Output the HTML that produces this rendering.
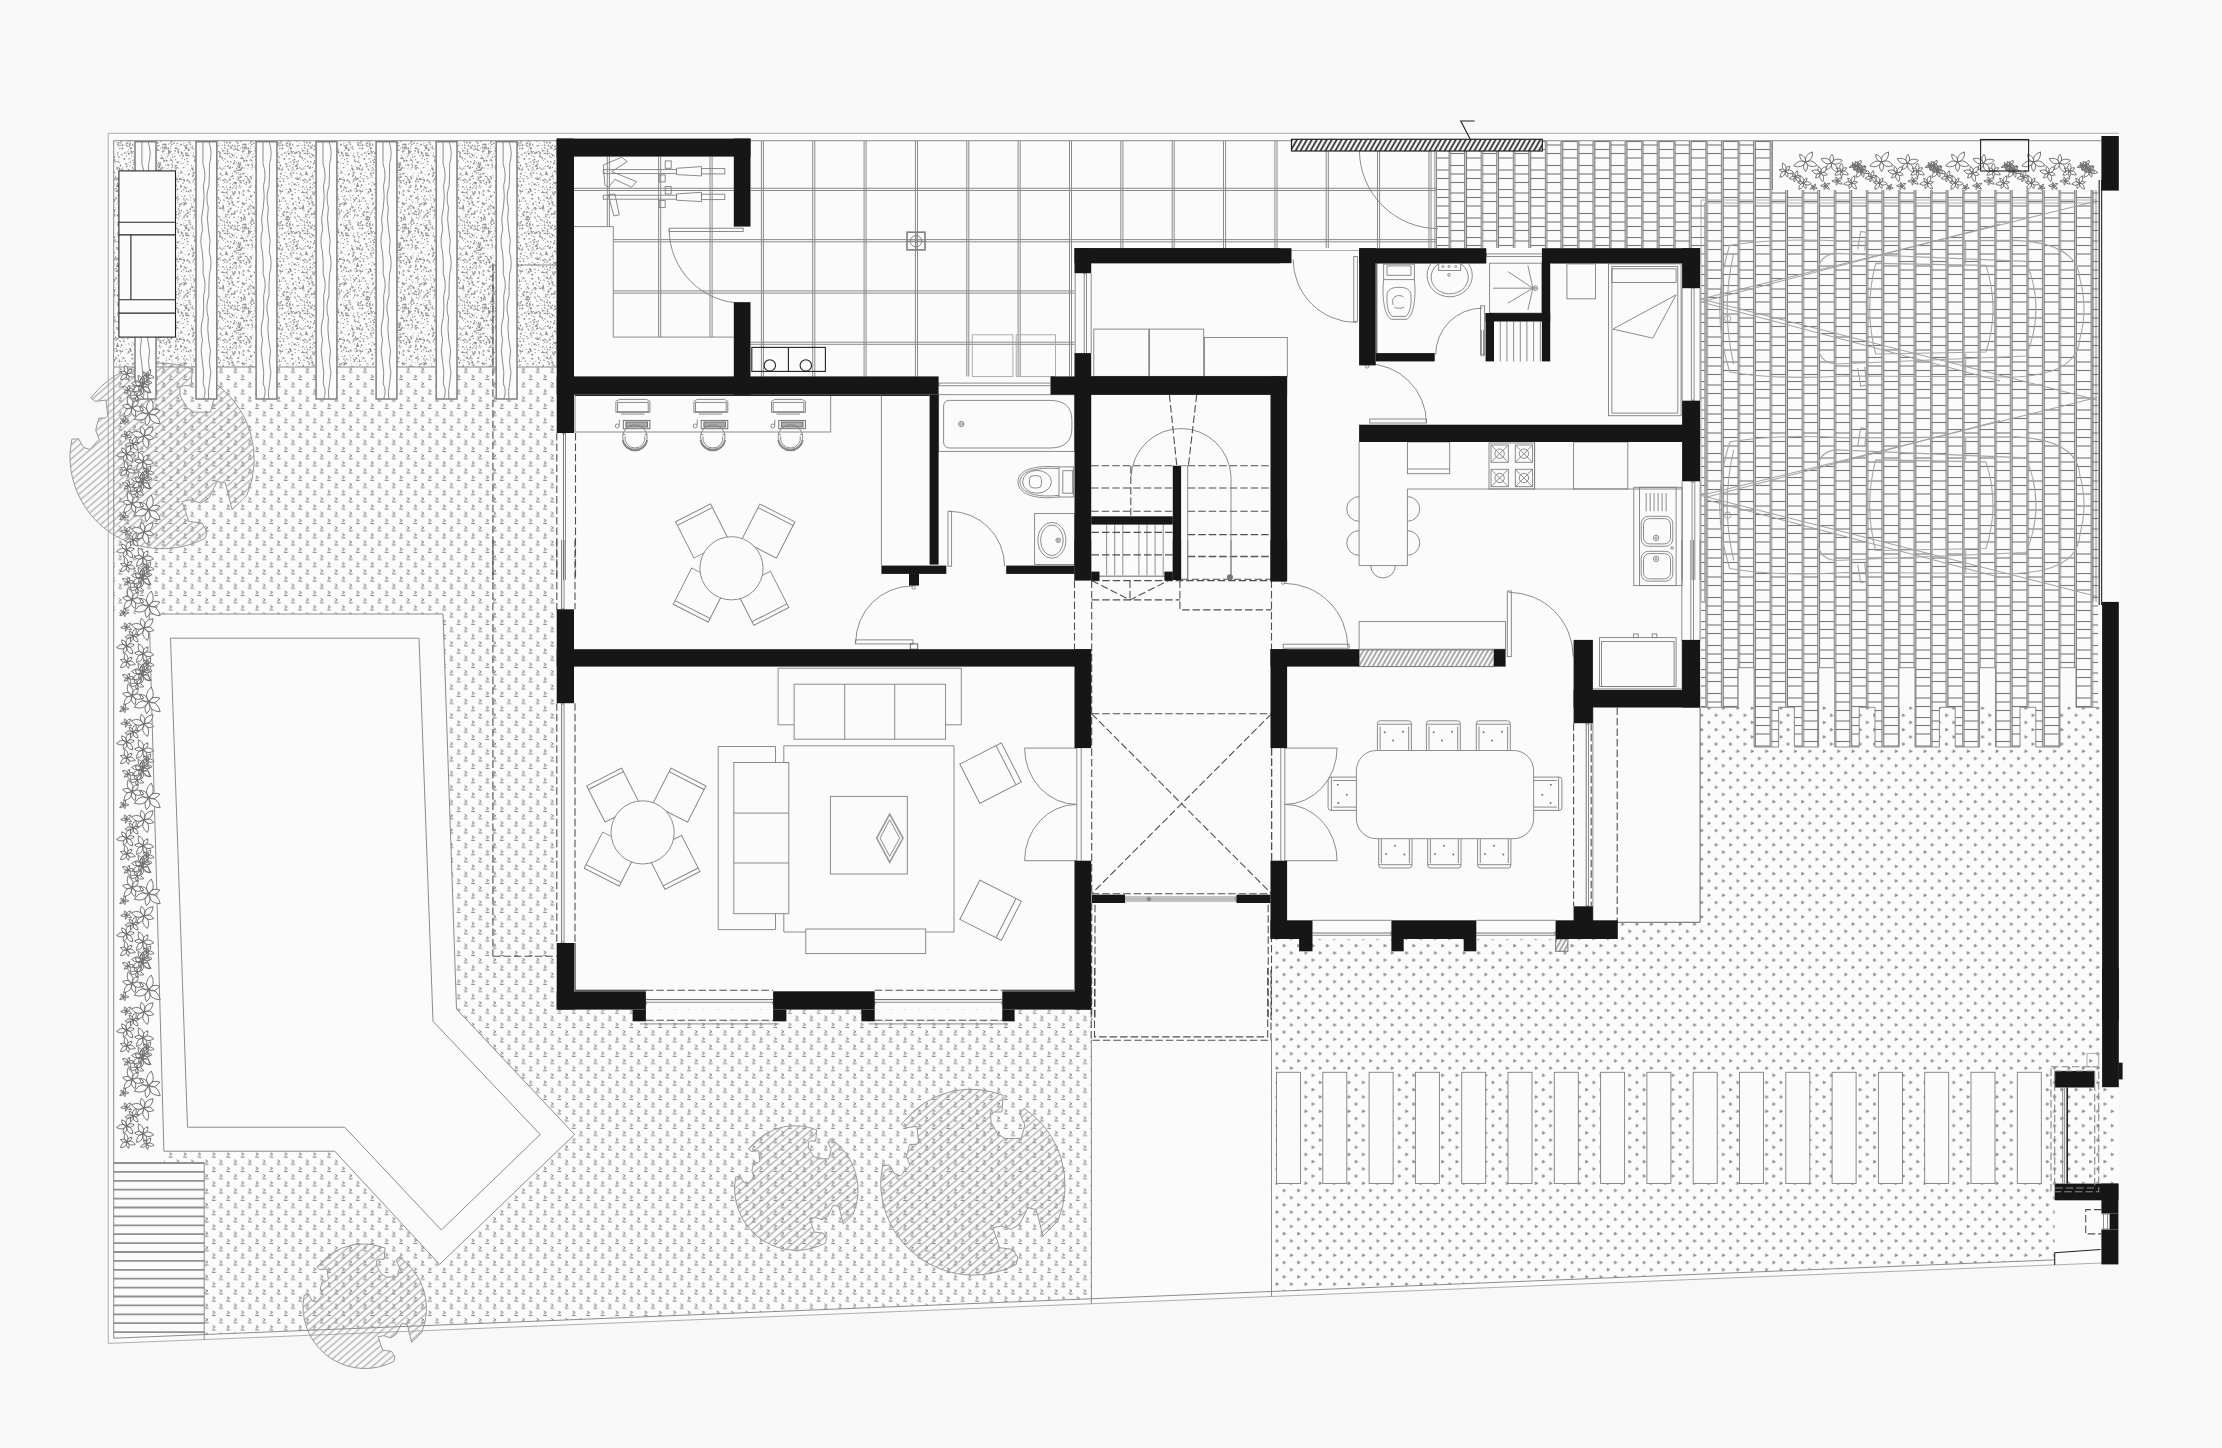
<!DOCTYPE html>
<html lang="en"><head><meta charset="utf-8"><title>Ground floor plan</title>
<style>
html,body{margin:0;padding:0;background:#f8f8f8;}
body{width:2222px;height:1448px;overflow:hidden;font-family:"Liberation Sans",sans-serif;}
svg{display:block;position:absolute;left:0;top:0}
.w{fill:#161616;stroke:none}
.l{fill:none;stroke:#7f7f7f;stroke-width:.9}
.lf{fill:#fbfbfb;stroke:#7f7f7f;stroke-width:.9}
.t{fill:none;stroke:#8a8a8a;stroke-width:1}
.d{fill:none;stroke:#505050;stroke-width:1.1;stroke-dasharray:7.5 3}
.k{fill:none;stroke:#222;stroke-width:1.1}
.kf{fill:#fbfbfb;stroke:#222;stroke-width:1.1}
.g{fill:none;stroke:#a5a5a5;stroke-width:.9}
.bg{fill:#fbfbfb;stroke:none}
</style></head><body>
<svg width="2222" height="1448" viewBox="0 0 2222 1448">
<defs>
<pattern id="grass" width="14.4" height="14.4" patternUnits="userSpaceOnUse" patternTransform="translate(9.2 -0.1)"><g fill="none" stroke="#747474" stroke-width=".95"><path d="M1.8 0.8 L4.3 2.2 L1.8 3.6" /><path d="M1.2 5.2 H4.9" /><path d="M9.0 8.0 L11.5 9.4 L9.0 10.8" /><path d="M8.4 12.4 H12.1" /></g></pattern>
<pattern id="dots" width="14.4" height="14.4" patternUnits="userSpaceOnUse" patternTransform="translate(6.8 -.6)"><g fill="#858585" stroke="#858585" stroke-width=".6" stroke-linejoin="round"><path d="M2 1.7 L4.7 3.1 L2 4.5Z"/><path d="M9.2 8.9 L11.9 10.3 L9.2 11.7Z"/></g></pattern>
<pattern id="brick" width="32.1" height="48" patternUnits="userSpaceOnUse" patternTransform="translate(1448.5 141)"><g fill="none" stroke="#787878" stroke-width="1.12"><path d="M0.20 0V48"/><path d="M1.90 0V48"/><path d="M16.25 0V48"/><path d="M17.95 0V48"/><path d="M1.9 4H16.25"/><path d="M1.9 12.5H16.25"/><path d="M1.9 24.5H16.25"/><path d="M1.9 33H16.25"/><path d="M1.9 41.5H16.25"/><path d="M17.95 0.5H32.30"/><path d="M17.95 8.5H32.30"/><path d="M17.95 17H32.30"/><path d="M17.95 29H32.30"/><path d="M17.95 37.5H32.30"/></g></pattern>
<pattern id="gravel" width="80" height="80" patternUnits="userSpaceOnUse" patternTransform="translate(114 141)"><g fill="#8a8a8a"><path d="M27.0 12.6 L25.5 13.2 L25.5 10.9Z"/><circle cx="72.8" cy="17.2" r="0.4"/><circle cx="34.7" cy="5.6" r="0.4"/><circle cx="44.1" cy="4.7" r="0.75"/><path d="M10.0 19.1 L9.1 16.9 L10.9 17.1Z"/><circle cx="17.7" cy="44.5" r="0.5"/><circle cx="23.2" cy="11.5" r="0.4"/><path d="M46.7 45.6 L44.5 45.3 L45.6 43.6Z"/><circle cx="43.8" cy="5.0" r="0.4"/><circle cx="49.5" cy="39.7" r="0.75"/><circle cx="34.2" cy="25.1" r="0.75"/><circle cx="73.9" cy="28.9" r="0.5"/><circle cx="63.6" cy="55.9" r="0.5"/><circle cx="6.5" cy="24.0" r="0.65"/><circle cx="70.0" cy="58.4" r="0.55"/><circle cx="48.7" cy="5.9" r="0.75"/><circle cx="33.4" cy="60.6" r="0.5"/><path d="M75.8 34.1 L73.6 34.4 L74.6 32.5Z"/><circle cx="27.2" cy="28.0" r="0.65"/><path d="M47.9 36.7 L45.1 37.3 L45.6 35.2Z"/><circle cx="58.5" cy="24.8" r="0.75"/><circle cx="79.4" cy="65.8" r="0.55"/><circle cx="57.3" cy="71.0" r="0.55"/><circle cx="1.8" cy="36.9" r="0.5"/><circle cx="48.9" cy="39.5" r="0.5"/><circle cx="61.5" cy="10.3" r="0.5"/><circle cx="31.8" cy="73.3" r="0.65"/><circle cx="6.4" cy="35.9" r="0.75"/><circle cx="22.2" cy="11.0" r="0.65"/><circle cx="69.1" cy="22.3" r="0.65"/><circle cx="78.9" cy="54.6" r="0.65"/><circle cx="76.6" cy="12.1" r="0.5"/><circle cx="12.1" cy="52.7" r="0.4"/><circle cx="38.8" cy="47.1" r="0.55"/><circle cx="22.6" cy="11.7" r="0.75"/><circle cx="29.5" cy="45.3" r="0.5"/><circle cx="55.2" cy="41.2" r="0.75"/><circle cx="52.4" cy="59.2" r="0.65"/><path d="M71.1 63.6 L71.2 61.1 L73.5 62.4Z"/><circle cx="38.5" cy="32.0" r="0.5"/><circle cx="5.4" cy="16.7" r="0.5"/><circle cx="8.8" cy="48.1" r="0.4"/><circle cx="0.0" cy="12.1" r="0.4"/><circle cx="75.9" cy="49.1" r="0.4"/><circle cx="69.9" cy="49.1" r="0.5"/><circle cx="50.8" cy="76.4" r="0.75"/><path d="M28.6 11.2 L27.8 9.1 L30.3 8.9Z"/><path d="M12.1 61.1 L10.4 60.5 L11.5 58.7Z"/><circle cx="76.1" cy="42.3" r="0.5"/><path d="M54.5 74.5 L54.3 72.0 L56.6 72.7Z"/><circle cx="20.9" cy="29.3" r="0.5"/><circle cx="28.5" cy="17.8" r="0.75"/><circle cx="62.3" cy="26.4" r="0.5"/><path d="M47.6 63.4 L49.5 61.7 L50.1 64.1Z"/><circle cx="18.1" cy="41.4" r="0.55"/><path d="M59.6 80.1 L57.0 79.2 L59.5 78.1Z"/><circle cx="35.8" cy="75.0" r="0.55"/><circle cx="76.4" cy="29.2" r="0.5"/><circle cx="8.2" cy="37.6" r="0.55"/><circle cx="16.3" cy="49.9" r="0.75"/><path d="M67.7 39.5 L66.1 38.0 L67.6 37.2Z"/><circle cx="31.1" cy="56.9" r="0.5"/><path d="M38.1 15.8 L37.9 12.8 L39.7 14.4Z"/><circle cx="37.1" cy="59.5" r="0.4"/><circle cx="58.0" cy="13.6" r="0.5"/><circle cx="2.2" cy="47.3" r="0.65"/><path d="M64.1 13.1 L63.9 10.3 L65.8 11.0Z"/><path d="M42.4 1.7 L44.5 0.4 L44.2 3.2Z"/><path d="M33.6 70.8 L34.6 68.3 L35.9 70.7Z"/><circle cx="61.1" cy="26.1" r="0.75"/><path d="M34.1 11.6 L32.3 10.3 L34.5 9.7Z"/><circle cx="33.7" cy="73.4" r="0.75"/><circle cx="10.5" cy="12.1" r="0.75"/><circle cx="1.5" cy="35.2" r="0.5"/><circle cx="48.7" cy="62.1" r="0.5"/><path d="M15.0 37.9 L12.7 38.5 L13.7 36.7Z"/><circle cx="38.6" cy="62.1" r="0.75"/><circle cx="4.5" cy="15.3" r="0.4"/><circle cx="61.8" cy="40.6" r="0.75"/><circle cx="2.2" cy="71.5" r="0.4"/><circle cx="35.5" cy="49.0" r="0.75"/><circle cx="48.5" cy="16.0" r="0.55"/><circle cx="36.2" cy="42.7" r="0.65"/><circle cx="40.6" cy="19.8" r="0.75"/><circle cx="70.1" cy="75.4" r="0.55"/><circle cx="73.8" cy="71.4" r="0.5"/><circle cx="67.2" cy="11.0" r="0.4"/><path d="M32.5 25.8 L30.2 25.5 L31.9 24.2Z"/><path d="M71.3 13.5 L70.9 11.5 L72.9 11.9Z"/><circle cx="37.4" cy="59.7" r="0.4"/><path d="M31.0 39.9 L31.8 37.7 L32.9 39.6Z"/><circle cx="27.1" cy="15.7" r="0.55"/><circle cx="7.4" cy="29.3" r="0.55"/><circle cx="44.3" cy="35.2" r="0.4"/><circle cx="30.7" cy="41.4" r="0.55"/><path d="M41.8 6.4 L39.8 6.1 L41.0 3.6Z"/><path d="M73.9 15.0 L71.0 15.0 L72.7 13.0Z"/><circle cx="20.7" cy="11.9" r="0.75"/><circle cx="45.6" cy="56.0" r="0.4"/><circle cx="22.3" cy="64.0" r="0.5"/><circle cx="34.0" cy="5.8" r="0.4"/><circle cx="50.8" cy="64.1" r="0.4"/><circle cx="48.7" cy="17.8" r="0.55"/><circle cx="69.0" cy="36.3" r="0.55"/><circle cx="79.5" cy="33.4" r="0.55"/><path d="M50.9 4.0 L48.7 4.1 L49.6 2.2Z"/><circle cx="16.1" cy="25.0" r="0.55"/><circle cx="42.5" cy="16.5" r="0.65"/><circle cx="40.0" cy="14.2" r="0.55"/><circle cx="64.3" cy="79.6" r="0.4"/><circle cx="1.2" cy="58.6" r="0.75"/><circle cx="78.2" cy="41.1" r="0.5"/><path d="M73.9 9.7 L74.0 7.2 L76.2 8.9Z"/><circle cx="77.6" cy="24.6" r="0.5"/><path d="M77.1 27.7 L78.4 25.9 L79.3 28.7Z"/><circle cx="78.6" cy="67.0" r="0.4"/><circle cx="5.7" cy="59.3" r="0.55"/><path d="M33.2 4.7 L34.7 3.2 L35.6 4.9Z"/><circle cx="19.4" cy="23.4" r="0.65"/><circle cx="14.8" cy="21.5" r="0.4"/><circle cx="21.1" cy="76.9" r="0.75"/><circle cx="25.9" cy="2.8" r="0.55"/><circle cx="17.4" cy="14.6" r="0.55"/><circle cx="30.5" cy="38.0" r="0.75"/><path d="M54.0 19.6 L52.2 21.3 L51.7 18.6Z"/><circle cx="3.3" cy="1.8" r="0.55"/><circle cx="50.4" cy="6.8" r="0.75"/><path d="M67.2 13.1 L68.3 11.2 L69.3 13.1Z"/><circle cx="39.5" cy="22.7" r="0.75"/><path d="M50.5 4.7 L50.8 2.1 L52.9 4.0Z"/><path d="M40.0 74.2 L39.4 71.7 L41.9 72.4Z"/><path d="M45.5 71.5 L46.8 70.2 L47.8 72.1Z"/><circle cx="51.0" cy="76.8" r="0.65"/><path d="M68.1 44.8 L66.4 45.8 L66.1 43.7Z"/><circle cx="36.6" cy="5.6" r="0.75"/><circle cx="71.8" cy="7.4" r="0.75"/><circle cx="5.3" cy="58.9" r="0.55"/><circle cx="64.7" cy="67.7" r="0.5"/><path d="M57.8 17.5 L58.0 15.2 L59.5 16.0Z"/><circle cx="72.8" cy="23.0" r="0.4"/><circle cx="49.4" cy="51.4" r="0.4"/><path d="M47.3 27.6 L47.7 25.3 L49.2 26.4Z"/><path d="M6.1 21.6 L3.9 22.3 L4.8 20.3Z"/><path d="M24.0 38.2 L21.9 38.5 L23.2 35.8Z"/><circle cx="74.9" cy="1.4" r="0.65"/><circle cx="6.1" cy="40.5" r="0.65"/><circle cx="79.5" cy="30.9" r="0.5"/><path d="M5.4 8.3 L4.8 6.8 L7.2 7.0Z"/><path d="M41.2 72.1 L39.6 70.5 L41.3 69.9Z"/><path d="M13.1 77.2 L11.5 75.9 L13.6 75.1Z"/><circle cx="25.3" cy="67.2" r="0.4"/><circle cx="26.0" cy="27.1" r="0.65"/><path d="M10.8 74.4 L9.2 75.3 L8.7 73.3Z"/><circle cx="31.2" cy="69.6" r="0.4"/><circle cx="28.9" cy="34.2" r="0.55"/><circle cx="68.3" cy="22.5" r="0.4"/><circle cx="66.8" cy="22.8" r="0.5"/><circle cx="19.9" cy="21.3" r="0.75"/><path d="M23.8 61.6 L26.1 60.7 L26.0 63.1Z"/><circle cx="73.1" cy="75.3" r="0.75"/><path d="M16.5 7.7 L15.0 6.5 L17.4 5.9Z"/><circle cx="38.8" cy="73.0" r="0.75"/><circle cx="10.2" cy="37.8" r="0.55"/><path d="M21.3 20.8 L23.2 19.4 L23.4 21.4Z"/><circle cx="44.6" cy="31.5" r="0.5"/><circle cx="51.5" cy="6.0" r="0.75"/><circle cx="72.5" cy="39.8" r="0.5"/><path d="M36.9 28.0 L34.8 26.4 L37.0 25.4Z"/><circle cx="27.4" cy="7.3" r="0.5"/><circle cx="29.5" cy="64.7" r="0.5"/><circle cx="71.0" cy="60.0" r="0.65"/><circle cx="30.6" cy="59.7" r="0.5"/><circle cx="30.1" cy="27.1" r="0.4"/><circle cx="39.9" cy="45.9" r="0.55"/><path d="M8.9 40.7 L9.5 39.2 L11.0 41.1Z"/><circle cx="30.8" cy="51.7" r="0.65"/><path d="M74.9 68.5 L76.9 66.5 L76.9 69.3Z"/><circle cx="64.3" cy="77.5" r="0.65"/><path d="M-0.1 32.8 L-1.2 30.5 L1.5 31.0Z"/><path d="M18.9 12.9 L16.8 12.8 L18.0 10.9Z"/><path d="M73.0 7.3 L71.0 8.2 L71.5 5.3Z"/><circle cx="51.6" cy="24.3" r="0.5"/><circle cx="50.1" cy="42.3" r="0.65"/><circle cx="55.9" cy="9.0" r="0.4"/><circle cx="24.0" cy="75.5" r="0.5"/><circle cx="31.0" cy="17.9" r="0.75"/><circle cx="0.1" cy="43.0" r="0.65"/><path d="M20.9 25.9 L22.2 23.8 L23.6 26.0Z"/><circle cx="76.8" cy="56.4" r="0.55"/><path d="M4.3 16.8 L3.5 14.7 L5.7 15.4Z"/><path d="M30.3 40.5 L28.4 39.2 L30.0 38.3Z"/><circle cx="63.8" cy="59.1" r="0.75"/><circle cx="5.4" cy="39.7" r="0.5"/><circle cx="24.9" cy="65.6" r="0.5"/><circle cx="37.2" cy="21.2" r="0.55"/><circle cx="8.7" cy="49.9" r="0.75"/><circle cx="15.0" cy="17.9" r="0.65"/><circle cx="72.8" cy="4.5" r="0.75"/><circle cx="11.7" cy="31.5" r="0.5"/><circle cx="1.9" cy="47.7" r="0.65"/><circle cx="4.1" cy="4.8" r="0.65"/><circle cx="36.0" cy="57.0" r="0.55"/><circle cx="58.6" cy="79.8" r="0.5"/><circle cx="26.3" cy="14.8" r="0.75"/><path d="M58.7 3.2 L59.8 1.3 L60.9 2.7Z"/><circle cx="8.7" cy="6.3" r="0.4"/><circle cx="28.1" cy="76.4" r="0.4"/><circle cx="44.9" cy="60.7" r="0.65"/><path d="M27.7 66.9 L28.6 64.2 L30.0 66.0Z"/><circle cx="43.3" cy="35.7" r="0.55"/><circle cx="29.1" cy="71.8" r="0.4"/><path d="M50.0 20.9 L49.9 18.8 L51.8 19.8Z"/><path d="M74.8 20.9 L72.9 21.6 L73.1 19.4Z"/><path d="M75.7 4.6 L75.7 2.4 L77.5 3.2Z"/><path d="M59.4 73.9 L61.2 72.3 L61.5 74.0Z"/><path d="M58.0 38.5 L55.8 37.1 L58.2 36.1Z"/><path d="M72.9 15.2 L74.9 13.3 L75.5 15.4Z"/><circle cx="18.9" cy="68.9" r="0.65"/><circle cx="28.9" cy="62.6" r="0.4"/><circle cx="41.0" cy="31.3" r="0.5"/><circle cx="19.8" cy="5.2" r="0.4"/><circle cx="38.5" cy="43.6" r="0.5"/><circle cx="78.4" cy="70.7" r="0.4"/><circle cx="21.2" cy="6.7" r="0.4"/><circle cx="33.7" cy="79.1" r="0.65"/><circle cx="13.9" cy="10.6" r="0.65"/><path d="M49.2 55.1 L48.8 53.0 L50.8 53.7Z"/><circle cx="23.5" cy="22.4" r="0.55"/><circle cx="29.8" cy="59.0" r="0.5"/><circle cx="35.2" cy="14.9" r="0.5"/><circle cx="12.3" cy="70.7" r="0.75"/><circle cx="15.1" cy="5.2" r="0.55"/><circle cx="79.4" cy="40.6" r="0.5"/><circle cx="52.0" cy="8.0" r="0.65"/><circle cx="79.3" cy="8.2" r="0.65"/><circle cx="70.6" cy="18.5" r="0.65"/><circle cx="73.2" cy="3.2" r="0.55"/><circle cx="18.6" cy="4.0" r="0.75"/><circle cx="77.8" cy="46.7" r="0.4"/><circle cx="29.8" cy="69.3" r="0.65"/><path d="M47.2 62.6 L48.8 60.9 L48.9 63.0Z"/><circle cx="17.4" cy="29.5" r="0.5"/><circle cx="3.5" cy="80.0" r="0.4"/><circle cx="48.0" cy="52.1" r="0.5"/><circle cx="65.2" cy="65.5" r="0.65"/><circle cx="54.3" cy="14.8" r="0.55"/><circle cx="6.2" cy="2.5" r="0.65"/><circle cx="43.8" cy="5.1" r="0.4"/><circle cx="63.7" cy="53.1" r="0.5"/><circle cx="51.1" cy="7.3" r="0.5"/><circle cx="31.8" cy="21.7" r="0.55"/><circle cx="53.4" cy="33.4" r="0.4"/><circle cx="25.0" cy="45.3" r="0.55"/><path d="M31.6 1.6 L33.5 0.0 L33.6 2.9Z"/><circle cx="16.3" cy="0.5" r="0.5"/><circle cx="33.9" cy="65.6" r="0.65"/><path d="M47.7 29.4 L44.9 29.9 L46.4 27.7Z"/><circle cx="72.8" cy="7.1" r="0.75"/><circle cx="74.2" cy="59.0" r="0.5"/><circle cx="11.7" cy="22.7" r="0.75"/><circle cx="13.7" cy="5.4" r="0.65"/><path d="M40.7 64.9 L37.7 64.5 L39.9 63.1Z"/><path d="M38.7 5.5 L37.4 3.9 L39.6 3.6Z"/><circle cx="12.8" cy="62.9" r="0.5"/><circle cx="49.7" cy="49.2" r="0.5"/><circle cx="66.3" cy="14.6" r="0.5"/><circle cx="3.3" cy="75.1" r="0.5"/><circle cx="30.7" cy="9.8" r="0.5"/><circle cx="77.7" cy="65.3" r="0.5"/><path d="M2.4 46.2 L2.4 43.8 L4.8 44.9Z"/><path d="M37.4 69.1 L35.0 67.9 L37.0 66.5Z"/><circle cx="52.7" cy="35.7" r="0.65"/><circle cx="14.3" cy="0.3" r="0.65"/><circle cx="37.2" cy="35.7" r="0.75"/><circle cx="62.4" cy="36.7" r="0.5"/><circle cx="64.8" cy="32.0" r="0.4"/><circle cx="10.3" cy="34.4" r="0.4"/><path d="M65.4 40.6 L63.8 41.5 L63.9 39.1Z"/><circle cx="62.2" cy="40.9" r="0.4"/><path d="M59.1 72.1 L60.9 70.6 L60.5 72.8Z"/><circle cx="58.6" cy="65.2" r="0.5"/><circle cx="10.5" cy="70.9" r="0.55"/><circle cx="76.5" cy="73.3" r="0.5"/><circle cx="54.9" cy="57.7" r="0.5"/><path d="M6.4 29.0 L3.8 28.3 L6.1 26.8Z"/><circle cx="36.5" cy="20.3" r="0.65"/><circle cx="16.7" cy="21.0" r="0.75"/><circle cx="19.0" cy="29.8" r="0.5"/><circle cx="14.6" cy="12.9" r="0.55"/><circle cx="54.4" cy="71.6" r="0.5"/><path d="M63.1 22.6 L62.1 20.4 L64.9 21.0Z"/><circle cx="44.4" cy="46.4" r="0.4"/><path d="M20.3 44.3 L18.7 42.8 L21.5 42.2Z"/><path d="M47.7 28.9 L45.0 29.8 L46.4 27.3Z"/><circle cx="23.7" cy="41.3" r="0.55"/><circle cx="51.1" cy="78.7" r="0.75"/><path d="M75.4 71.2 L74.0 72.9 L73.8 70.5Z"/><circle cx="34.6" cy="41.0" r="0.4"/><path d="M11.8 17.9 L9.7 19.1 L9.9 17.1Z"/><circle cx="41.8" cy="42.7" r="0.65"/><circle cx="46.7" cy="47.1" r="0.5"/><circle cx="29.3" cy="66.3" r="0.5"/><circle cx="10.8" cy="74.9" r="0.5"/><circle cx="56.6" cy="36.1" r="0.4"/><path d="M51.7 71.0 L49.6 69.4 L51.0 68.2Z"/><circle cx="65.7" cy="71.4" r="0.75"/><circle cx="51.6" cy="35.5" r="0.75"/><circle cx="58.7" cy="19.9" r="0.4"/><circle cx="3.5" cy="42.5" r="0.65"/><path d="M16.2 13.3 L13.6 13.6 L14.2 11.4Z"/><path d="M32.9 42.7 L32.2 40.6 L34.0 40.6Z"/><circle cx="24.8" cy="24.0" r="0.4"/><circle cx="79.5" cy="57.9" r="0.65"/><path d="M57.0 2.0 L55.7 0.5 L58.5 -0.3Z"/><circle cx="14.0" cy="79.7" r="0.55"/><circle cx="18.6" cy="3.1" r="0.55"/><path d="M72.6 74.7 L69.8 74.2 L72.0 72.7Z"/><circle cx="54.9" cy="73.4" r="0.55"/><circle cx="23.6" cy="74.3" r="0.5"/><circle cx="6.8" cy="40.6" r="0.5"/><path d="M22.0 19.3 L19.6 19.0 L20.7 17.7Z"/><circle cx="31.1" cy="48.1" r="0.65"/><path d="M71.4 50.2 L73.2 49.4 L73.3 51.5Z"/><circle cx="42.4" cy="0.5" r="0.4"/><circle cx="35.0" cy="58.0" r="0.75"/><circle cx="70.8" cy="63.1" r="0.65"/><circle cx="49.8" cy="6.2" r="0.5"/><circle cx="11.6" cy="2.2" r="0.4"/><circle cx="49.8" cy="12.9" r="0.5"/><circle cx="56.1" cy="2.5" r="0.5"/><path d="M56.6 50.5 L54.4 51.3 L55.3 49.5Z"/><circle cx="15.9" cy="76.4" r="0.75"/><path d="M70.1 6.1 L70.8 3.9 L72.8 5.4Z"/><path d="M14.8 2.8 L16.1 1.2 L17.1 3.9Z"/><circle cx="50.6" cy="38.2" r="0.5"/><circle cx="7.8" cy="60.6" r="0.5"/><circle cx="23.6" cy="26.9" r="0.55"/><circle cx="1.7" cy="20.5" r="0.55"/><circle cx="3.9" cy="60.8" r="0.55"/><circle cx="61.5" cy="48.2" r="0.65"/><circle cx="68.1" cy="49.5" r="0.4"/><circle cx="63.1" cy="2.5" r="0.75"/><path d="M63.1 28.0 L60.9 28.6 L61.7 26.5Z"/><circle cx="46.0" cy="23.0" r="0.65"/><path d="M-0.5 17.5 L-0.4 14.8 L1.6 16.1Z"/><circle cx="55.6" cy="66.0" r="0.65"/><circle cx="47.4" cy="76.6" r="0.75"/><circle cx="20.8" cy="75.5" r="0.55"/><circle cx="65.2" cy="75.1" r="0.5"/><path d="M39.0 9.6 L40.1 7.6 L41.0 9.2Z"/><circle cx="8.4" cy="26.1" r="0.4"/><path d="M33.1 32.2 L31.6 32.7 L31.5 30.5Z"/><circle cx="21.1" cy="72.1" r="0.75"/><path d="M14.6 79.4 L12.5 78.9 L14.2 77.5Z"/><circle cx="60.2" cy="51.7" r="0.55"/><path d="M45.1 42.3 L46.9 40.3 L48.0 42.2Z"/><circle cx="35.1" cy="61.9" r="0.75"/><path d="M17.4 27.4 L18.4 25.5 L19.5 27.4Z"/><circle cx="56.3" cy="67.5" r="0.5"/><path d="M58.5 79.0 L56.7 78.3 L58.3 76.8Z"/><path d="M14.0 78.4 L15.9 77.0 L16.0 78.9Z"/><circle cx="12.1" cy="11.9" r="0.55"/><circle cx="58.7" cy="34.8" r="0.5"/><circle cx="8.7" cy="72.9" r="0.55"/><circle cx="16.5" cy="31.1" r="0.4"/><circle cx="1.0" cy="68.3" r="0.65"/><path d="M56.5 40.7 L54.3 40.4 L56.2 39.0Z"/><path d="M0.7 20.9 L-0.9 18.7 L1.5 18.3Z"/><path d="M17.6 59.1 L17.2 56.8 L19.7 57.3Z"/><circle cx="9.9" cy="34.6" r="0.55"/><circle cx="50.3" cy="7.8" r="0.65"/><path d="M19.1 33.2 L18.6 31.1 L20.6 31.8Z"/><path d="M48.8 33.6 L49.5 31.5 L50.9 32.6Z"/><circle cx="0.9" cy="66.5" r="0.4"/><circle cx="3.1" cy="43.5" r="0.5"/><circle cx="57.3" cy="76.1" r="0.5"/><circle cx="41.5" cy="8.1" r="0.75"/><circle cx="36.5" cy="16.4" r="0.65"/><path d="M41.7 52.4 L39.6 50.7 L41.8 49.9Z"/><circle cx="79.2" cy="14.7" r="0.75"/><circle cx="61.0" cy="9.8" r="0.75"/><circle cx="28.4" cy="4.5" r="0.55"/><circle cx="30.5" cy="4.9" r="0.4"/><path d="M32.8 34.7 L32.6 32.8 L34.7 33.5Z"/><circle cx="32.0" cy="76.3" r="0.5"/><circle cx="79.5" cy="76.9" r="0.65"/><path d="M18.3 11.0 L16.2 11.7 L16.7 8.9Z"/><circle cx="57.7" cy="65.2" r="0.5"/><path d="M27.1 52.1 L28.7 49.7 L29.5 52.0Z"/><circle cx="52.0" cy="62.4" r="0.65"/><circle cx="28.4" cy="68.1" r="0.55"/><circle cx="56.3" cy="55.0" r="0.65"/><path d="M53.6 39.8 L53.5 37.3 L55.8 38.6Z"/><path d="M39.4 35.0 L37.8 35.4 L37.9 33.1Z"/><circle cx="30.8" cy="6.8" r="0.75"/><circle cx="72.5" cy="62.7" r="0.5"/><circle cx="42.5" cy="27.6" r="0.75"/><circle cx="1.2" cy="0.9" r="0.4"/><circle cx="52.5" cy="20.0" r="0.4"/><circle cx="46.3" cy="68.3" r="0.5"/><circle cx="62.1" cy="27.7" r="0.5"/><circle cx="16.7" cy="32.2" r="0.75"/><circle cx="13.4" cy="71.3" r="0.75"/><circle cx="78.2" cy="7.2" r="0.75"/><circle cx="63.0" cy="67.1" r="0.5"/><circle cx="39.6" cy="17.0" r="0.4"/><circle cx="59.4" cy="35.1" r="0.4"/><circle cx="44.4" cy="21.2" r="0.5"/><circle cx="66.2" cy="37.9" r="0.75"/><circle cx="4.7" cy="37.4" r="0.5"/><circle cx="56.0" cy="19.7" r="0.5"/><circle cx="43.2" cy="69.0" r="0.4"/><path d="M12.4 26.8 L12.2 24.6 L14.0 25.2Z"/><circle cx="33.5" cy="76.8" r="0.4"/><path d="M15.7 29.0 L13.6 29.7 L14.3 27.6Z"/><circle cx="26.4" cy="78.5" r="0.75"/><circle cx="38.7" cy="60.6" r="0.5"/><path d="M3.9 57.5 L1.6 58.1 L2.4 56.3Z"/><circle cx="62.3" cy="44.3" r="0.5"/><circle cx="22.7" cy="27.4" r="0.55"/><circle cx="44.3" cy="66.1" r="0.55"/><circle cx="28.4" cy="39.5" r="0.55"/><circle cx="40.3" cy="21.7" r="0.75"/><circle cx="27.6" cy="16.3" r="0.65"/><circle cx="63.4" cy="26.5" r="0.55"/><path d="M58.0 11.0 L56.2 11.1 L56.8 9.0Z"/><circle cx="32.5" cy="45.9" r="0.65"/><circle cx="24.0" cy="0.5" r="0.5"/><path d="M64.8 39.1 L65.4 36.5 L67.2 38.1Z"/><path d="M48.4 50.9 L48.5 49.3 L50.5 49.8Z"/><circle cx="50.7" cy="50.0" r="0.5"/><circle cx="8.1" cy="14.5" r="0.4"/><path d="M34.9 8.5 L33.4 9.2 L33.0 7.0Z"/><circle cx="56.8" cy="69.0" r="0.5"/><circle cx="33.7" cy="25.5" r="0.65"/><circle cx="45.3" cy="46.3" r="0.4"/><path d="M41.0 42.6 L38.6 42.6 L40.1 40.3Z"/><circle cx="35.7" cy="1.1" r="0.65"/><path d="M46.3 79.6 L48.0 78.3 L48.5 80.2Z"/><circle cx="51.6" cy="17.0" r="0.5"/><circle cx="50.2" cy="34.2" r="0.4"/><path d="M56.0 10.5 L54.0 11.0 L53.8 8.5Z"/><path d="M56.4 19.9 L57.1 18.2 L58.7 19.9Z"/><path d="M57.0 12.1 L54.4 12.4 L55.2 10.1Z"/><circle cx="74.6" cy="20.3" r="0.4"/><circle cx="57.4" cy="0.9" r="0.4"/><circle cx="70.7" cy="54.9" r="0.75"/><path d="M5.6 25.8 L5.8 23.8 L7.6 24.7Z"/><path d="M25.4 77.1 L24.1 75.8 L26.4 75.3Z"/><path d="M28.1 52.3 L29.2 50.4 L30.2 52.1Z"/><circle cx="21.8" cy="60.4" r="0.55"/><path d="M22.4 5.6 L22.8 3.8 L24.6 5.1Z"/><circle cx="78.2" cy="66.5" r="0.75"/><circle cx="66.6" cy="46.8" r="0.5"/><circle cx="30.1" cy="54.8" r="0.75"/><circle cx="61.7" cy="18.7" r="0.65"/><circle cx="22.7" cy="0.1" r="0.55"/><path d="M20.1 13.3 L20.9 11.2 L22.9 12.6Z"/><circle cx="71.2" cy="79.4" r="0.5"/><path d="M21.4 69.5 L20.7 67.2 L23.3 67.6Z"/><circle cx="43.2" cy="38.8" r="0.65"/><circle cx="16.0" cy="60.0" r="0.5"/><circle cx="24.8" cy="4.6" r="0.65"/><circle cx="37.2" cy="16.5" r="0.55"/><circle cx="46.9" cy="0.7" r="0.65"/><path d="M37.9 8.1 L35.3 7.0 L37.6 5.8Z"/><circle cx="20.8" cy="66.7" r="0.55"/><circle cx="38.1" cy="47.1" r="0.5"/><path d="M16.3 8.7 L16.5 6.0 L18.5 7.4Z"/><circle cx="41.4" cy="11.9" r="0.4"/><path d="M75.2 40.1 L72.5 40.1 L73.2 38.1Z"/><circle cx="47.8" cy="27.6" r="0.75"/><circle cx="48.6" cy="7.5" r="0.5"/><circle cx="79.2" cy="69.3" r="0.65"/><path d="M48.2 17.9 L45.5 17.4 L47.6 15.7Z"/><path d="M50.2 10.3 L48.1 11.9 L47.7 9.4Z"/><path d="M3.2 45.8 L3.9 43.1 L5.4 45.2Z"/><circle cx="69.0" cy="51.2" r="0.4"/><circle cx="56.5" cy="7.2" r="0.55"/><path d="M45.4 52.5 L44.3 50.3 L46.2 50.6Z"/><circle cx="18.8" cy="57.7" r="0.5"/><circle cx="3.1" cy="20.5" r="0.55"/><circle cx="4.7" cy="44.2" r="0.4"/><path d="M66.6 5.2 L65.9 2.7 L68.3 3.1Z"/><circle cx="8.1" cy="25.4" r="0.4"/><circle cx="75.2" cy="54.2" r="0.55"/><path d="M48.4 35.5 L46.4 36.3 L46.6 34.2Z"/><circle cx="38.5" cy="13.5" r="0.5"/><circle cx="64.6" cy="73.1" r="0.4"/><path d="M38.8 73.7 L36.8 74.4 L37.4 71.5Z"/><circle cx="69.3" cy="71.1" r="0.5"/><circle cx="62.3" cy="76.6" r="0.65"/><circle cx="67.4" cy="50.3" r="0.65"/><circle cx="77.8" cy="25.8" r="0.5"/><circle cx="38.2" cy="50.3" r="0.5"/><circle cx="26.6" cy="58.9" r="0.5"/><circle cx="57.1" cy="44.3" r="0.5"/><circle cx="35.1" cy="12.0" r="0.65"/><circle cx="32.9" cy="12.5" r="0.55"/><path d="M47.0 24.5 L44.5 24.6 L46.2 22.3Z"/><circle cx="9.1" cy="78.3" r="0.4"/><circle cx="50.5" cy="63.0" r="0.5"/><circle cx="44.8" cy="66.8" r="0.4"/><circle cx="20.6" cy="16.1" r="0.55"/><circle cx="34.6" cy="20.9" r="0.5"/><circle cx="74.0" cy="7.8" r="0.55"/><path d="M32.5 14.3 L33.3 11.5 L34.7 12.7Z"/><circle cx="64.6" cy="27.3" r="0.5"/><circle cx="35.4" cy="63.2" r="0.75"/><circle cx="22.9" cy="28.8" r="0.4"/><circle cx="73.0" cy="17.5" r="0.75"/><circle cx="14.5" cy="67.5" r="0.75"/><circle cx="61.6" cy="56.9" r="0.5"/><circle cx="48.1" cy="66.3" r="0.75"/><circle cx="58.5" cy="60.9" r="0.5"/><path d="M16.3 50.2 L15.6 48.1 L17.6 48.4Z"/><path d="M54.9 43.0 L55.2 40.1 L56.9 41.6Z"/><circle cx="67.4" cy="69.2" r="0.65"/><path d="M6.9 34.2 L5.8 32.4 L8.2 31.7Z"/><circle cx="66.5" cy="29.4" r="0.5"/><path d="M57.7 46.0 L55.5 47.3 L55.5 44.7Z"/><path d="M8.2 57.5 L10.0 55.7 L10.7 58.3Z"/><circle cx="46.1" cy="71.8" r="0.55"/><circle cx="69.8" cy="76.3" r="0.65"/><path d="M36.1 3.5 L34.9 0.8 L36.9 1.2Z"/><circle cx="14.6" cy="8.2" r="0.55"/><circle cx="44.4" cy="76.4" r="0.4"/><circle cx="7.7" cy="55.9" r="0.5"/><path d="M20.6 68.2 L20.2 66.0 L21.9 66.3Z"/><circle cx="69.6" cy="57.4" r="0.4"/><circle cx="21.8" cy="37.2" r="0.75"/><circle cx="40.1" cy="22.4" r="0.4"/><circle cx="9.7" cy="70.8" r="0.75"/><circle cx="47.3" cy="68.9" r="0.5"/><circle cx="53.5" cy="37.0" r="0.65"/><path d="M13.6 67.2 L12.0 65.5 L14.0 65.2Z"/><path d="M32.4 76.6 L30.3 74.8 L32.7 74.3Z"/><circle cx="67.4" cy="45.2" r="0.55"/><circle cx="65.2" cy="67.8" r="0.4"/><path d="M24.9 12.2 L26.3 10.5 L26.7 12.7Z"/><circle cx="29.2" cy="42.5" r="0.4"/><path d="M27.2 15.8 L24.9 16.8 L25.7 14.9Z"/><path d="M73.5 50.2 L75.1 49.2 L75.4 52.1Z"/><circle cx="49.7" cy="73.4" r="0.75"/><circle cx="21.9" cy="43.4" r="0.4"/><circle cx="49.7" cy="20.0" r="0.75"/><circle cx="1.1" cy="18.9" r="0.4"/><path d="M24.2 24.6 L21.8 24.6 L23.4 23.3Z"/><circle cx="72.1" cy="6.8" r="0.75"/><circle cx="42.7" cy="11.9" r="0.4"/><circle cx="40.9" cy="70.8" r="0.65"/><path d="M47.4 22.3 L45.1 22.5 L46.0 20.7Z"/><circle cx="45.6" cy="52.0" r="0.5"/><circle cx="43.9" cy="29.3" r="0.75"/><path d="M25.4 39.3 L22.9 38.7 L25.0 36.9Z"/><circle cx="30.7" cy="46.9" r="0.4"/><circle cx="73.9" cy="13.0" r="0.5"/><circle cx="25.9" cy="26.0" r="0.55"/><circle cx="22.8" cy="79.0" r="0.55"/><circle cx="4.6" cy="1.7" r="0.75"/><circle cx="5.3" cy="69.7" r="0.65"/><path d="M52.6 42.9 L51.1 41.3 L53.5 40.2Z"/><circle cx="76.7" cy="59.1" r="0.5"/><circle cx="33.3" cy="53.5" r="0.5"/><path d="M54.7 50.7 L52.7 50.0 L54.9 48.1Z"/><circle cx="73.8" cy="79.6" r="0.55"/><path d="M63.7 57.5 L62.2 57.7 L62.9 55.5Z"/><circle cx="46.9" cy="39.8" r="0.75"/><circle cx="12.0" cy="68.0" r="0.55"/><circle cx="69.8" cy="48.6" r="0.65"/><circle cx="68.1" cy="55.4" r="0.55"/><circle cx="57.8" cy="23.4" r="0.65"/><path d="M42.5 48.8 L40.9 47.3 L42.7 46.5Z"/><circle cx="35.5" cy="14.7" r="0.55"/><circle cx="64.2" cy="34.9" r="0.65"/><circle cx="46.5" cy="7.0" r="0.55"/><path d="M27.1 68.3 L24.4 67.3 L26.7 66.2Z"/><circle cx="76.5" cy="2.0" r="0.55"/><circle cx="45.2" cy="39.8" r="0.75"/><circle cx="61.9" cy="43.1" r="0.65"/><path d="M41.7 42.6 L40.2 41.5 L42.4 40.7Z"/><circle cx="36.2" cy="0.8" r="0.4"/><circle cx="42.0" cy="7.9" r="0.55"/><circle cx="40.1" cy="51.9" r="0.75"/><circle cx="12.3" cy="15.1" r="0.65"/><circle cx="38.9" cy="35.2" r="0.75"/><path d="M71.5 48.2 L70.8 46.6 L73.0 46.3Z"/><circle cx="78.3" cy="66.1" r="0.75"/><circle cx="14.0" cy="52.5" r="0.55"/><circle cx="55.2" cy="65.6" r="0.75"/><circle cx="71.1" cy="33.7" r="0.5"/><circle cx="41.9" cy="65.3" r="0.5"/><circle cx="40.4" cy="15.0" r="0.5"/><circle cx="4.8" cy="45.2" r="0.4"/><path d="M27.3 80.3 L27.4 78.6 L29.5 79.2Z"/><circle cx="56.9" cy="44.2" r="0.55"/><circle cx="31.8" cy="7.9" r="0.4"/><circle cx="53.4" cy="15.7" r="0.65"/><path d="M60.8 46.7 L61.2 43.9 L63.0 45.4Z"/><circle cx="32.9" cy="9.7" r="0.5"/><circle cx="41.5" cy="40.8" r="0.4"/><circle cx="8.0" cy="13.6" r="0.75"/><circle cx="39.2" cy="37.4" r="0.65"/><circle cx="64.5" cy="5.0" r="0.4"/><circle cx="54.8" cy="46.3" r="0.5"/><circle cx="57.2" cy="28.3" r="0.5"/><path d="M1.2 50.6 L2.8 48.8 L3.8 51.3Z"/><circle cx="30.9" cy="4.4" r="0.65"/><circle cx="46.6" cy="76.8" r="0.65"/><circle cx="4.4" cy="19.1" r="0.5"/><path d="M5.0 74.7 L2.1 74.8 L3.5 73.0Z"/><circle cx="33.5" cy="20.2" r="0.65"/><path d="M78.6 6.6 L77.1 5.5 L79.0 4.4Z"/><path d="M68.9 39.8 L69.8 37.3 L71.3 39.5Z"/><circle cx="0.6" cy="70.6" r="0.65"/><circle cx="44.9" cy="9.2" r="0.75"/><path d="M70.9 26.8 L68.7 27.5 L69.2 25.7Z"/><circle cx="19.6" cy="15.3" r="0.55"/><circle cx="27.6" cy="34.8" r="0.55"/><circle cx="53.1" cy="27.3" r="0.5"/><circle cx="19.3" cy="10.4" r="0.5"/><circle cx="21.6" cy="66.8" r="0.5"/><path d="M43.5 38.5 L44.1 35.9 L45.6 38.2Z"/><circle cx="30.2" cy="76.7" r="0.5"/><circle cx="23.8" cy="38.1" r="0.5"/><circle cx="18.2" cy="36.2" r="0.5"/><circle cx="75.4" cy="79.8" r="0.75"/><circle cx="72.0" cy="47.0" r="0.55"/><circle cx="42.8" cy="32.3" r="0.75"/><circle cx="17.0" cy="69.8" r="0.4"/><path d="M55.0 8.6 L52.8 7.7 L54.9 6.0Z"/><circle cx="45.4" cy="24.9" r="0.65"/><path d="M55.6 56.4 L57.1 54.1 L58.3 56.0Z"/><circle cx="45.0" cy="28.9" r="0.75"/><path d="M61.6 16.3 L59.5 15.9 L61.4 14.4Z"/><circle cx="22.6" cy="32.3" r="0.65"/><path d="M60.5 70.7 L61.8 69.1 L63.3 71.4Z"/><circle cx="64.0" cy="55.3" r="0.65"/><circle cx="2.0" cy="56.3" r="0.65"/><circle cx="19.9" cy="67.7" r="0.55"/><circle cx="72.5" cy="7.8" r="0.55"/><path d="M10.1 73.9 L8.1 73.5 L9.5 71.8Z"/><circle cx="34.5" cy="60.6" r="0.5"/><circle cx="30.5" cy="3.1" r="0.55"/><circle cx="50.4" cy="75.3" r="0.75"/><path d="M66.7 46.7 L66.2 44.8 L68.3 45.1Z"/><path d="M73.9 10.1 L74.1 7.7 L76.1 9.8Z"/><circle cx="48.6" cy="3.8" r="0.5"/><circle cx="54.5" cy="3.0" r="0.55"/><path d="M15.6 73.6 L17.4 72.0 L17.3 74.3Z"/><circle cx="49.2" cy="17.7" r="0.75"/><circle cx="7.2" cy="75.7" r="0.65"/><circle cx="35.4" cy="27.2" r="0.75"/><path d="M58.6 67.5 L58.5 65.3 L60.2 66.0Z"/><path d="M55.1 68.6 L53.0 69.0 L53.9 66.2Z"/><circle cx="64.5" cy="20.9" r="0.75"/><circle cx="13.1" cy="62.5" r="0.5"/><circle cx="43.5" cy="20.0" r="0.4"/><circle cx="13.4" cy="27.8" r="0.4"/><circle cx="16.1" cy="24.8" r="0.5"/><circle cx="54.9" cy="38.9" r="0.65"/><circle cx="19.0" cy="19.3" r="0.75"/><path d="M56.0 11.6 L54.2 10.2 L55.7 9.5Z"/><path d="M46.5 27.1 L43.6 27.2 L45.1 25.2Z"/><path d="M11.1 79.0 L11.6 77.0 L13.9 78.6Z"/><circle cx="28.8" cy="16.5" r="0.4"/><circle cx="71.7" cy="24.3" r="0.4"/><circle cx="56.1" cy="35.8" r="0.4"/><circle cx="12.9" cy="35.6" r="0.75"/><circle cx="29.0" cy="13.4" r="0.4"/><path d="M3.4 39.0 L2.2 37.0 L5.0 36.9Z"/><circle cx="21.2" cy="51.6" r="0.65"/><circle cx="39.1" cy="62.7" r="0.55"/><path d="M1.3 74.6 L-0.6 73.5 L1.3 72.5Z"/><path d="M53.4 6.6 L51.3 7.0 L51.6 5.2Z"/><path d="M13.4 51.3 L14.7 49.6 L15.8 52.2Z"/><circle cx="24.8" cy="49.3" r="0.65"/><circle cx="14.8" cy="66.0" r="0.55"/><circle cx="18.4" cy="10.9" r="0.55"/><circle cx="67.0" cy="20.3" r="0.4"/><path d="M2.1 45.2 L3.5 44.1 L4.4 45.9Z"/><path d="M18.5 34.2 L16.2 34.4 L16.9 32.7Z"/><circle cx="55.0" cy="13.1" r="0.65"/><circle cx="50.9" cy="32.1" r="0.4"/><circle cx="68.1" cy="38.4" r="0.5"/><path d="M57.0 1.4 L56.9 -0.9 L59.2 -0.4Z"/><path d="M6.2 5.6 L4.6 4.1 L6.8 3.7Z"/><circle cx="66.1" cy="72.3" r="0.5"/><path d="M30.2 1.8 L29.0 -0.4 L31.5 -0.6Z"/><circle cx="25.9" cy="36.8" r="0.75"/><circle cx="72.7" cy="69.2" r="0.65"/><path d="M75.6 50.2 L76.6 48.1 L78.2 50.4Z"/><circle cx="45.2" cy="33.7" r="0.55"/><circle cx="38.5" cy="51.8" r="0.55"/><path d="M70.4 42.2 L68.4 43.3 L68.7 41.3Z"/><circle cx="6.8" cy="52.8" r="0.55"/><circle cx="44.4" cy="75.5" r="0.55"/><circle cx="42.4" cy="45.2" r="0.65"/><circle cx="20.9" cy="18.2" r="0.5"/><path d="M42.5 9.6 L43.5 7.5 L45.0 9.9Z"/><circle cx="56.7" cy="18.2" r="0.65"/><circle cx="18.1" cy="45.8" r="0.4"/><circle cx="58.8" cy="72.7" r="0.75"/><circle cx="6.4" cy="32.6" r="0.4"/><circle cx="64.0" cy="10.7" r="0.75"/><path d="M42.6 57.3 L45.0 56.1 L45.0 58.3Z"/><circle cx="36.8" cy="54.9" r="0.75"/><circle cx="13.7" cy="76.8" r="0.75"/><circle cx="38.0" cy="7.4" r="0.55"/><circle cx="62.1" cy="4.6" r="0.5"/><path d="M3.7 4.6 L2.8 2.6 L5.0 3.3Z"/><circle cx="34.1" cy="71.1" r="0.75"/><circle cx="79.1" cy="16.1" r="0.4"/><circle cx="73.4" cy="69.7" r="0.5"/><path d="M28.1 68.2 L29.4 65.8 L30.9 67.3Z"/><circle cx="29.8" cy="59.0" r="0.55"/><circle cx="57.7" cy="3.5" r="0.75"/><circle cx="28.3" cy="28.5" r="0.55"/><path d="M65.2 9.8 L63.0 9.2 L64.1 7.8Z"/><path d="M80.5 34.8 L78.0 36.2 L78.1 34.0Z"/><path d="M43.5 24.1 L43.8 22.1 L45.6 23.0Z"/><circle cx="79.8" cy="60.9" r="0.55"/><circle cx="75.9" cy="1.1" r="0.55"/><circle cx="79.6" cy="39.0" r="0.65"/><circle cx="69.8" cy="64.0" r="0.4"/><path d="M5.4 50.7 L5.4 48.5 L7.2 49.4Z"/><path d="M66.1 31.7 L68.0 30.0 L68.5 32.7Z"/><circle cx="24.9" cy="10.5" r="0.75"/><circle cx="3.5" cy="13.6" r="0.55"/><circle cx="58.2" cy="26.5" r="0.65"/><circle cx="31.0" cy="28.3" r="0.4"/><circle cx="26.8" cy="38.7" r="0.5"/><circle cx="1.6" cy="36.8" r="0.75"/><path d="M4.8 12.1 L2.9 12.7 L4.0 10.5Z"/><circle cx="28.5" cy="45.9" r="0.75"/><circle cx="76.6" cy="79.4" r="0.4"/><circle cx="73.2" cy="72.2" r="0.4"/><path d="M69.9 63.2 L69.1 60.9 L71.0 61.9Z"/><circle cx="19.0" cy="63.7" r="0.5"/><path d="M55.4 25.5 L53.1 23.9 L55.0 22.9Z"/><circle cx="69.8" cy="57.3" r="0.55"/><circle cx="4.8" cy="27.0" r="0.55"/><circle cx="70.7" cy="62.6" r="0.75"/><circle cx="29.4" cy="19.5" r="0.5"/><circle cx="79.7" cy="12.1" r="0.5"/><circle cx="0.6" cy="69.7" r="0.65"/><path d="M33.6 32.6 L31.0 32.3 L32.8 30.2Z"/><circle cx="24.7" cy="58.1" r="0.75"/><circle cx="52.7" cy="77.3" r="0.4"/><circle cx="73.7" cy="46.7" r="0.4"/><circle cx="46.8" cy="24.3" r="0.55"/><path d="M78.0 29.6 L78.8 27.1 L80.4 29.1Z"/><circle cx="25.5" cy="14.0" r="0.55"/><path d="M44.4 61.7 L42.6 61.2 L44.0 59.5Z"/><path d="M16.5 49.7 L14.6 47.8 L17.0 47.1Z"/><circle cx="10.3" cy="3.9" r="0.4"/><circle cx="64.8" cy="70.0" r="0.55"/><circle cx="57.5" cy="0.4" r="0.55"/><path d="M43.9 70.8 L41.7 70.2 L43.8 69.2Z"/><circle cx="2.2" cy="38.9" r="0.75"/><circle cx="54.3" cy="27.0" r="0.4"/><circle cx="69.1" cy="63.7" r="0.4"/><circle cx="50.1" cy="26.8" r="0.65"/><circle cx="79.0" cy="32.0" r="0.65"/><circle cx="69.9" cy="2.1" r="0.55"/><circle cx="45.1" cy="79.0" r="0.4"/><path d="M34.3 57.8 L31.8 57.2 L33.6 55.4Z"/><path d="M62.2 8.5 L59.9 6.8 L62.6 6.3Z"/><circle cx="12.3" cy="78.5" r="0.75"/><circle cx="26.5" cy="59.3" r="0.55"/><circle cx="65.1" cy="38.2" r="0.4"/><path d="M61.6 26.2 L61.0 23.7 L63.4 24.1Z"/><circle cx="42.4" cy="21.9" r="0.55"/><path d="M-0.5 38.3 L0.3 36.9 L1.8 38.7Z"/><circle cx="32.1" cy="78.3" r="0.4"/><circle cx="50.0" cy="9.8" r="0.75"/><circle cx="40.1" cy="44.4" r="0.5"/><path d="M21.9 48.7 L19.6 48.9 L21.1 47.3Z"/><path d="M12.1 3.5 L12.8 0.8 L14.5 2.2Z"/><circle cx="73.0" cy="72.1" r="0.65"/><circle cx="36.8" cy="25.9" r="0.4"/><circle cx="8.6" cy="58.7" r="0.4"/><path d="M63.7 74.0 L64.7 71.9 L65.6 73.7Z"/><path d="M72.7 76.5 L73.2 74.4 L74.4 76.5Z"/><circle cx="19.3" cy="28.3" r="0.55"/><circle cx="60.7" cy="51.4" r="0.55"/><circle cx="70.4" cy="39.9" r="0.75"/><path d="M61.9 38.7 L62.6 36.9 L64.7 38.4Z"/><path d="M5.9 1.2 L7.6 -1.1 L8.1 1.4Z"/><path d="M37.1 47.6 L34.9 47.0 L36.8 44.9Z"/><path d="M70.1 15.6 L67.7 15.2 L69.3 13.1Z"/><circle cx="12.2" cy="73.0" r="0.5"/><path d="M73.3 13.3 L71.7 12.0 L73.5 11.0Z"/><path d="M32.1 52.1 L33.2 50.1 L34.3 51.1Z"/><path d="M20.0 63.1 L18.0 64.3 L18.3 62.2Z"/><circle cx="55.9" cy="58.3" r="0.4"/><circle cx="79.3" cy="25.3" r="0.4"/><circle cx="9.6" cy="39.0" r="0.5"/><circle cx="42.0" cy="0.2" r="0.5"/><path d="M54.2 12.9 L53.9 11.0 L56.1 11.7Z"/><circle cx="76.6" cy="6.2" r="0.5"/><circle cx="68.3" cy="77.8" r="0.5"/><circle cx="58.5" cy="21.8" r="0.5"/><circle cx="1.2" cy="21.5" r="0.4"/><path d="M15.6 5.3 L14.3 3.4 L17.2 3.6Z"/><circle cx="52.2" cy="43.5" r="0.75"/><path d="M25.6 34.1 L26.0 31.4 L27.9 33.3Z"/><path d="M31.3 13.5 L29.2 12.3 L32.0 11.4Z"/><circle cx="0.4" cy="48.6" r="0.55"/><circle cx="55.5" cy="58.4" r="0.5"/><circle cx="66.0" cy="53.1" r="0.4"/><path d="M68.6 63.1 L66.8 63.8 L67.2 61.5Z"/><circle cx="43.9" cy="25.2" r="0.75"/><path d="M0.4 61.2 L-1.3 59.0 L1.2 58.7Z"/><path d="M66.3 64.8 L64.5 63.2 L67.0 62.2Z"/><circle cx="49.0" cy="54.2" r="0.55"/><path d="M6.6 64.7 L4.7 64.4 L6.4 62.7Z"/><circle cx="37.9" cy="57.7" r="0.75"/><circle cx="47.2" cy="45.7" r="0.5"/><circle cx="5.3" cy="60.6" r="0.55"/><path d="M42.3 43.6 L40.4 42.5 L43.0 41.1Z"/><path d="M12.7 75.8 L14.0 74.3 L15.4 76.7Z"/><circle cx="66.6" cy="65.4" r="0.4"/><circle cx="32.8" cy="56.2" r="0.65"/><path d="M8.4 30.0 L7.1 27.5 L9.4 27.7Z"/><circle cx="23.2" cy="35.7" r="0.4"/><path d="M37.2 39.1 L35.0 39.4 L35.6 36.8Z"/><circle cx="39.1" cy="52.8" r="0.75"/><circle cx="29.7" cy="27.2" r="0.65"/><circle cx="20.2" cy="44.5" r="0.4"/><circle cx="45.6" cy="4.6" r="0.5"/><circle cx="24.5" cy="43.6" r="0.55"/><circle cx="20.4" cy="21.2" r="0.65"/><path d="M8.8 50.9 L5.9 51.5 L6.7 49.5Z"/><path d="M62.8 74.8 L61.4 73.0 L63.3 72.7Z"/><path d="M33.9 52.7 L31.1 51.8 L32.6 50.4Z"/><path d="M48.7 79.5 L49.1 76.8 L51.0 78.2Z"/><circle cx="5.7" cy="60.5" r="0.65"/><path d="M30.9 34.3 L31.3 32.0 L32.7 33.5Z"/><circle cx="37.0" cy="67.2" r="0.65"/><circle cx="79.6" cy="14.1" r="0.4"/><circle cx="35.2" cy="39.3" r="0.75"/><circle cx="60.2" cy="0.8" r="0.5"/><circle cx="59.2" cy="32.1" r="0.4"/><circle cx="74.1" cy="23.5" r="0.55"/><circle cx="61.5" cy="61.6" r="0.4"/><circle cx="7.2" cy="67.8" r="0.75"/><circle cx="65.4" cy="8.1" r="0.4"/><circle cx="67.9" cy="17.3" r="0.65"/><path d="M4.7 55.7 L3.2 54.4 L5.2 53.6Z"/><circle cx="67.5" cy="11.2" r="0.65"/><circle cx="65.3" cy="69.8" r="0.5"/><circle cx="25.6" cy="15.2" r="0.4"/><circle cx="14.9" cy="43.1" r="0.75"/><circle cx="21.0" cy="25.0" r="0.55"/><circle cx="53.1" cy="23.9" r="0.65"/><circle cx="40.9" cy="33.6" r="0.4"/><circle cx="24.5" cy="19.9" r="0.65"/><circle cx="64.2" cy="68.5" r="0.55"/><circle cx="24.4" cy="10.5" r="0.5"/><circle cx="42.9" cy="29.9" r="0.65"/><circle cx="52.5" cy="56.8" r="0.5"/><circle cx="29.3" cy="64.1" r="0.5"/><path d="M37.7 56.6 L35.7 57.5 L36.0 55.4Z"/><circle cx="45.2" cy="25.9" r="0.55"/><circle cx="17.6" cy="35.1" r="0.5"/><circle cx="56.8" cy="64.2" r="0.75"/><path d="M48.7 33.7 L47.6 32.5 L49.8 31.6Z"/><path d="M49.7 4.1 L51.4 2.4 L52.6 4.3Z"/><circle cx="57.7" cy="59.0" r="0.5"/><path d="M38.8 54.6 L39.6 52.7 L41.1 53.9Z"/><circle cx="62.2" cy="57.2" r="0.75"/><path d="M9.6 7.5 L7.2 8.9 L8.1 6.1Z"/><circle cx="56.5" cy="35.4" r="0.65"/><path d="M13.6 4.7 L11.4 5.3 L12.5 3.3Z"/><path d="M70.1 65.0 L69.4 62.7 L71.1 63.2Z"/><path d="M66.9 13.6 L67.1 10.7 L68.8 12.0Z"/><path d="M12.7 24.5 L11.5 22.5 L13.7 23.1Z"/><circle cx="34.4" cy="54.3" r="0.4"/><path d="M1.9 28.0 L3.8 27.2 L3.9 29.1Z"/><path d="M21.9 28.4 L23.5 26.4 L24.7 28.0Z"/><circle cx="22.4" cy="24.2" r="0.75"/><circle cx="43.3" cy="7.1" r="0.5"/><path d="M36.5 62.4 L38.2 60.0 L39.1 61.7Z"/><circle cx="47.9" cy="77.4" r="0.55"/><circle cx="15.5" cy="12.2" r="0.55"/><circle cx="4.0" cy="26.7" r="0.65"/><circle cx="38.5" cy="26.4" r="0.55"/><circle cx="14.3" cy="63.0" r="0.55"/><circle cx="64.7" cy="57.9" r="0.65"/><path d="M9.0 44.7 L6.7 45.3 L7.1 42.7Z"/><path d="M47.4 33.6 L45.4 33.9 L46.1 31.8Z"/><circle cx="53.1" cy="13.1" r="0.5"/><circle cx="53.0" cy="7.2" r="0.4"/><circle cx="67.4" cy="69.9" r="0.65"/><circle cx="24.3" cy="20.9" r="0.4"/><circle cx="70.3" cy="9.4" r="0.65"/><circle cx="21.6" cy="43.3" r="0.55"/><circle cx="37.4" cy="13.1" r="0.75"/><circle cx="3.4" cy="20.5" r="0.5"/><circle cx="22.7" cy="44.4" r="0.5"/><circle cx="72.7" cy="58.1" r="0.75"/><circle cx="40.1" cy="71.2" r="0.4"/><path d="M7.2 5.1 L8.5 2.8 L9.9 4.6Z"/><circle cx="60.0" cy="12.3" r="0.55"/><circle cx="79.9" cy="33.9" r="0.75"/><circle cx="41.4" cy="23.4" r="0.4"/><circle cx="6.7" cy="46.3" r="0.5"/><circle cx="19.5" cy="62.0" r="0.75"/><circle cx="56.9" cy="5.0" r="0.5"/><circle cx="5.8" cy="27.0" r="0.4"/><path d="M4.4 49.9 L2.5 50.4 L3.6 48.3Z"/><circle cx="47.3" cy="14.6" r="0.55"/><circle cx="75.2" cy="33.0" r="0.65"/><circle cx="2.6" cy="63.1" r="0.5"/><circle cx="58.7" cy="54.3" r="0.5"/><circle cx="63.8" cy="61.6" r="0.5"/><circle cx="15.9" cy="17.6" r="0.55"/><circle cx="56.7" cy="5.4" r="0.4"/><circle cx="63.3" cy="38.4" r="0.65"/><circle cx="42.0" cy="26.4" r="0.4"/><circle cx="60.1" cy="50.9" r="0.5"/><circle cx="69.3" cy="4.0" r="0.55"/><path d="M61.7 7.4 L63.7 6.4 L63.6 8.4Z"/><circle cx="61.8" cy="39.7" r="0.55"/><circle cx="66.3" cy="75.0" r="0.4"/><path d="M59.2 68.0 L58.8 65.3 L61.1 66.8Z"/><path d="M73.8 41.2 L75.9 40.1 L76.0 41.8Z"/><circle cx="77.5" cy="63.0" r="0.55"/><circle cx="60.1" cy="67.8" r="0.5"/><circle cx="15.8" cy="36.6" r="0.5"/><path d="M69.3 46.8 L70.6 44.8 L71.2 46.7Z"/><circle cx="50.1" cy="61.9" r="0.55"/><circle cx="66.1" cy="32.5" r="0.4"/><path d="M18.9 55.1 L16.8 53.3 L19.3 52.7Z"/><circle cx="0.4" cy="39.1" r="0.4"/><circle cx="76.1" cy="70.3" r="0.65"/><circle cx="33.5" cy="48.4" r="0.65"/><circle cx="11.7" cy="43.6" r="0.4"/><circle cx="28.3" cy="67.6" r="0.75"/><circle cx="2.6" cy="26.9" r="0.55"/><circle cx="15.0" cy="71.2" r="0.65"/><circle cx="52.9" cy="64.6" r="0.4"/><circle cx="17.3" cy="50.2" r="0.65"/><circle cx="65.8" cy="14.7" r="0.55"/><circle cx="26.6" cy="12.1" r="0.5"/><circle cx="17.9" cy="71.2" r="0.75"/><circle cx="70.6" cy="76.8" r="0.55"/><circle cx="40.0" cy="76.5" r="0.75"/><path d="M62.2 49.6 L63.3 47.0 L64.7 48.7Z"/><circle cx="14.0" cy="75.6" r="0.65"/><path d="M46.1 53.4 L44.0 52.4 L46.2 51.8Z"/><path d="M39.6 30.4 L40.9 28.7 L42.1 31.2Z"/><circle cx="35.5" cy="76.6" r="0.55"/><path d="M24.9 57.9 L23.2 56.4 L25.5 56.1Z"/><circle cx="39.8" cy="29.1" r="0.4"/><path d="M5.7 67.1 L3.7 67.7 L4.4 65.6Z"/><circle cx="12.2" cy="48.6" r="0.65"/><circle cx="2.8" cy="26.0" r="0.5"/><circle cx="0.6" cy="74.9" r="0.55"/></g></pattern>
<pattern id="th" width="8" height="5.3" patternUnits="userSpaceOnUse" patternTransform="rotate(-40.6)"><path d="M0 2.6H8" fill="none" stroke="#999" stroke-width="1"/></pattern>
<pattern id="wh" width="4.3" height="4.3" patternUnits="userSpaceOnUse" patternTransform="rotate(-60)"><path d="M0 2H4.3" fill="none" stroke="#222" stroke-width="1.7"/></pattern>
<pattern id="wh2" width="4" height="4" patternUnits="userSpaceOnUse" patternTransform="rotate(-60)"><path d="M0 2H4" fill="none" stroke="#6a6a6a" stroke-width="1.1"/></pattern>
</defs>
<path class="bg" d="M108.3 133.3 H2118.8 V1262.3 L108.3 1343.4Z"/>
<rect x="114" y="141" width="443" height="226" fill="url(#gravel)"/>
<path class="l" d="M114 367H557V141M493 367V265H557"/>
<path d="M114 367 H557 V1009.5 H1091.4 V1298.7 L204.2 1334.5 V1163 H164.2 L163.9 1151.2 L149.2 614 H114 Z M149.2 614 L443 614 L456.5 1009 L574.5 1134.5 L439.6 1264.4 L334.7 1151.2 L163.9 1151.2Z" fill="url(#grass)" fill-rule="evenodd"/>
<path class="l" d="M149.2 614 L443 614 L456.5 1009 L574.5 1134.5 L439.6 1264.4 L334.7 1151.2 L163.9 1151.2Z"/><path class="l" d="M170.5 638.2 L419 638.2 L433 1021.3 L540.2 1134.5 L441.3 1230 L344.7 1127.2 L187.5 1127.2Z"/>
<path d="M1271.5 939 H1618 V923 H1700 V706.5 H2101.5 V1087.5 H2116 V1183.6 H2054.7 L2054.7 1259.9 L1271.5 1291.5Z" fill="url(#dots)"/>
<rect class="lf" x="1276.5" y="1072.3" width="24" height="111.2"/>
<rect class="lf" x="1322.8" y="1072.3" width="24" height="111.2"/>
<rect class="lf" x="1369.1" y="1072.3" width="24" height="111.2"/>
<rect class="lf" x="1415.4" y="1072.3" width="24" height="111.2"/>
<rect class="lf" x="1461.7" y="1072.3" width="24" height="111.2"/>
<rect class="lf" x="1508.0" y="1072.3" width="24" height="111.2"/>
<rect class="lf" x="1554.3" y="1072.3" width="24" height="111.2"/>
<rect class="lf" x="1600.6" y="1072.3" width="24" height="111.2"/>
<rect class="lf" x="1646.9" y="1072.3" width="24" height="111.2"/>
<rect class="lf" x="1693.2" y="1072.3" width="24" height="111.2"/>
<rect class="lf" x="1739.5" y="1072.3" width="24" height="111.2"/>
<rect class="lf" x="1785.8" y="1072.3" width="24" height="111.2"/>
<rect class="lf" x="1832.1" y="1072.3" width="24" height="111.2"/>
<rect class="lf" x="1878.4" y="1072.3" width="24" height="111.2"/>
<rect class="lf" x="1924.7" y="1072.3" width="24" height="111.2"/>
<rect class="lf" x="1971.0" y="1072.3" width="24" height="111.2"/>
<rect class="lf" x="2017.3" y="1072.3" width="24" height="111.2"/>
<path class="l" d="M113.6 1163.0H204.2 M113.6 1171.9H204.2 M113.6 1180.8H204.2 M113.6 1189.7H204.2 M113.6 1198.6H204.2 M113.6 1207.5H204.2 M113.6 1216.4H204.2 M113.6 1225.3H204.2 M113.6 1234.2H204.2 M113.6 1243.1H204.2 M113.6 1252.0H204.2 M113.6 1260.9H204.2 M113.6 1269.8H204.2 M113.6 1278.7H204.2 M113.6 1287.6H204.2 M113.6 1296.5H204.2 M113.6 1305.4H204.2 M113.6 1314.3H204.2 M113.6 1323.2H204.2 M113.6 1332.1H204.2" style="stroke:#909090;stroke-width:1.8"/>
<path class="l" d="M204.2 1163 V1339.5"/>
<path d="M1437 141 L1772.5 141 L1772.5 190 L2098 190 L2098 707.3 L2098 707.3 L2076.0 707.3 L2076.0 667.7 L2059.9 667.7 L2059.9 707.3 L2060.0 707.3 L2060.0 747 L2035.8 747 L2035.8 707.3 L2020.0 707.3 L2020.0 747 L1995.5 747 L1995.5 667.7 L1979.5 667.7 L1979.5 707.3 L1979.4 707.3 L1979.4 747 L1955.2 747 L1955.2 707.3 L1939.4 707.3 L1939.4 747 L1915.0 747 L1915.0 667.7 L1898.9 667.7 L1898.9 707.3 L1899.2 707.3 L1899.2 747 L1875.0 747 L1875.0 707.3 L1859.2 707.3 L1859.2 747 L1834.8 747 L1834.8 667.7 L1818.7 667.7 L1818.7 707.3 L1818.6 707.3 L1818.6 747 L1794.4 747 L1794.4 707.3 L1778.6 707.3 L1778.6 747 L1754.1 747 L1754.1 667.7 L1738.1 667.7 L1738.1 707.3 L1700.9 707.3 L1700.9 248 L1437 248Z" fill="#fbfbfb"/>
<path d="M1437 141 L1772.5 141 L1772.5 190 L2098 190 L2098 707.3 L2098 707.3 L2076.0 707.3 L2076.0 667.7 L2059.9 667.7 L2059.9 707.3 L2060.0 707.3 L2060.0 747 L2035.8 747 L2035.8 707.3 L2020.0 707.3 L2020.0 747 L1995.5 747 L1995.5 667.7 L1979.5 667.7 L1979.5 707.3 L1979.4 707.3 L1979.4 747 L1955.2 747 L1955.2 707.3 L1939.4 707.3 L1939.4 747 L1915.0 747 L1915.0 667.7 L1898.9 667.7 L1898.9 707.3 L1899.2 707.3 L1899.2 747 L1875.0 747 L1875.0 707.3 L1859.2 707.3 L1859.2 747 L1834.8 747 L1834.8 667.7 L1818.7 667.7 L1818.7 707.3 L1818.6 707.3 L1818.6 747 L1794.4 747 L1794.4 707.3 L1778.6 707.3 L1778.6 747 L1754.1 747 L1754.1 667.7 L1738.1 667.7 L1738.1 707.3 L1700.9 707.3 L1700.9 248 L1437 248Z" fill="url(#brick)"/>
<path class="l" d="M2098 707.3 L2098 707.3 L2076.0 707.3 L2076.0 667.7 L2059.9 667.7 L2059.9 707.3 L2060.0 707.3 L2060.0 747 L2035.8 747 L2035.8 707.3 L2020.0 707.3 L2020.0 747 L1995.5 747 L1995.5 667.7 L1979.5 667.7 L1979.5 707.3 L1979.4 707.3 L1979.4 747 L1955.2 747 L1955.2 707.3 L1939.4 707.3 L1939.4 747 L1915.0 747 L1915.0 667.7 L1898.9 667.7 L1898.9 707.3 L1899.2 707.3 L1899.2 747 L1875.0 747 L1875.0 707.3 L1859.2 707.3 L1859.2 747 L1834.8 747 L1834.8 667.7 L1818.7 667.7 L1818.7 707.3 L1818.6 707.3 L1818.6 747 L1794.4 747 L1794.4 707.3 L1778.6 707.3 L1778.6 747 L1754.1 747 L1754.1 667.7 L1738.1 667.7 L1738.1 707.3 L1700.9 707.3"/>
<path class="g" d="M108.3 133.3 H2118.8 M108.3 133.3 V1343.4 L2101.4 1263"/>
<path class="l" d="M113.7 140.7 H2101 M113.7 140.7 V1338.2 L2054 1259.9"/>
<path class="l" d="M1091.4 1040 V1303.7 M1271.5 1040 V1296.5"/>
<clipPath id="tc"><path d="M574.0 156.6H733.8V226.6H574.0Z M613.3 226.6H750.5V337.1H613.3Z M750.5 140.6H1074.5V376.4H750.5Z M1074 141H1437V248H1074Z"/></clipPath>
<path class="t" clip-path="url(#tc)" d="M556.0 141V377 M558.0 141V377 M607.3 141V377 M609.4 141V377 M658.6 141V377 M660.7 141V377 M710.0 141V377 M712.1 141V377 M761.4 141V377 M763.4 141V377 M812.7 141V377 M814.8 141V377 M864.1 141V377 M866.1 141V377 M915.4 141V377 M917.5 141V377 M966.8 141V377 M968.8 141V377 M1018.1 141V377 M1020.2 141V377 M1069.5 141V377 M1071.5 141V377 M1120.8 141V377 M1122.9 141V377 M1172.2 141V377 M1174.2 141V377 M1223.5 141V377 M1225.6 141V377 M1274.9 141V377 M1277.0 141V377 M1326.2 141V377 M1328.3 141V377 M1377.5 141V377 M1379.6 141V377 M1428.9 141V377 M1431.0 141V377 M574 188.3H1437 M574 190.5H1437 M574 239.6H1437 M574 241.8H1437 M574 290.9H1437 M574 293.1H1437 M574 342.2H1437 M574 344.3H1437"/>
<path class="l" d="M574.0 226.6 L613.3 226.6 L613.3 337.1 L733.8 337.1"/>
<path d="M953.7 1090.8 A92.5 92.5 0 0 1 1003.2 1095.3 L1001.9 1112.0 L994.2 1112.0 L990.6 1113.8 L991.0 1122.3 L997.8 1134.0 L1005.0 1138.5 L1021.2 1138.5 L1024.8 1125.0 L1019.9 1113.8 L1023.9 1108.4 A92.5 92.5 0 0 1 1057.9 1221.1 L1042.9 1236.1 L1036.2 1209.4 L1027.9 1207.8 L1019.6 1224.4 L1011.2 1229.4 L1001.3 1226.1 L992.9 1227.8 L999.6 1247.7 L1012.9 1249.4 L1017.9 1257.7 L1016.2 1264.4 A92.5 92.5 0 0 1 880.8 1179.0 L882.6 1165.5 L889.4 1165.1 L894.3 1173.6 L900.6 1175.9 L910.0 1165.5 L906.5 1156.5 L909.6 1144.4 L915.9 1144.4 L918.6 1142.1 L916.8 1126.4 L906.0 1127.7 L901.5 1124.1 A92.5 92.5 0 0 1 953.7 1090.8Z" fill="url(#th)" stroke="#999" stroke-width="1"/>
<path d="M783.5 1126.8 A62.0 62.0 0 0 1 816.6 1129.8 L815.8 1141.0 L810.6 1141.0 L808.2 1142.2 L808.5 1147.9 L813.0 1155.8 L817.9 1158.8 L828.7 1158.8 L831.1 1149.7 L827.8 1142.2 L830.5 1138.6 A62.0 62.0 0 0 1 853.3 1214.1 L843.3 1224.2 L838.8 1206.3 L833.2 1205.2 L827.6 1216.4 L822.0 1219.7 L815.4 1217.5 L809.7 1218.6 L814.2 1232.0 L823.1 1233.1 L826.5 1238.7 L825.4 1243.2 A62.0 62.0 0 0 1 734.6 1185.9 L735.8 1176.9 L740.4 1176.6 L743.7 1182.3 L747.9 1183.8 L754.2 1176.9 L751.8 1170.8 L753.9 1162.7 L758.1 1162.7 L759.9 1161.2 L758.7 1150.7 L751.5 1151.5 L748.5 1149.1 A62.0 62.0 0 0 1 783.5 1126.8Z" fill="url(#th)" stroke="#999" stroke-width="1"/>
<path d="M351.9 1245.0 A62.0 62.0 0 0 1 385.0 1248.0 L384.2 1259.2 L379.0 1259.2 L376.6 1260.4 L376.9 1266.1 L381.4 1274.0 L386.3 1277.0 L397.1 1277.0 L399.5 1267.9 L396.2 1260.4 L398.9 1256.8 A62.0 62.0 0 0 1 421.7 1332.3 L411.7 1342.4 L407.2 1324.5 L401.6 1323.4 L396.0 1334.6 L390.4 1337.9 L383.8 1335.7 L378.1 1336.8 L382.6 1350.2 L391.5 1351.3 L394.9 1356.9 L393.8 1361.4 A62.0 62.0 0 0 1 303.0 1304.1 L304.2 1295.1 L308.8 1294.8 L312.1 1300.5 L316.3 1302.0 L322.6 1295.1 L320.2 1289.0 L322.3 1280.9 L326.5 1280.9 L328.3 1279.4 L327.1 1268.9 L319.9 1269.7 L316.9 1267.3 A62.0 62.0 0 0 1 351.9 1245.0Z" fill="url(#th)" stroke="#999" stroke-width="1"/>
<path d="M142.9 364.5 A92.5 92.5 0 0 1 192.4 369.0 L191.1 385.7 L183.4 385.7 L179.8 387.5 L180.2 396.0 L187.0 407.7 L194.2 412.2 L210.4 412.2 L214.0 398.7 L209.1 387.5 L213.1 382.1 A92.5 92.5 0 0 1 247.1 494.8 L232.1 509.8 L225.4 483.1 L217.1 481.5 L208.8 498.1 L200.4 503.1 L190.5 499.8 L182.1 501.5 L188.8 521.4 L202.1 523.1 L207.1 531.4 L205.4 538.1 A92.5 92.5 0 0 1 70.0 452.7 L71.8 439.2 L78.6 438.8 L83.5 447.3 L89.8 449.6 L99.2 439.2 L95.7 430.2 L98.8 418.1 L105.1 418.1 L107.8 415.8 L106.0 400.1 L95.2 401.4 L90.7 397.8 A92.5 92.5 0 0 1 142.9 364.5Z" fill="url(#th)" stroke="#999" stroke-width="1"/>
<rect class="lf" x="196.0" y="141.7" width="20.8" height="257.3" style="stroke-width:1.5"/>
<path class="l" d="M202.9 141.7 Q202.9 152.7 202.9 163.7 Q206.7 174.7 203.4 185.7 Q204.9 196.7 203.2 207.7 Q200.1 218.7 202.5 229.7 Q199.3 240.7 202.3 251.7 Q203.7 262.7 203.0 273.7 Q206.9 284.7 203.5 295.7 Q204.1 306.7 203.1 317.7 Q199.6 328.7 202.4 339.7 Q199.8 350.7 202.4 361.7 Q204.5 372.7 203.1 383.7 Q206.8 391.4 203.5 399.0"/>
<path class="l" d="M208.9 141.7 Q212.9 152.7 209.5 163.7 Q209.5 174.7 209.0 185.7 Q205.2 196.7 208.3 207.7 Q206.4 218.7 208.5 229.7 Q211.2 240.7 209.2 251.7 Q212.7 262.7 209.5 273.7 Q208.6 284.7 208.9 295.7 Q205.0 306.7 208.3 317.7 Q207.1 328.7 208.6 339.7 Q211.9 350.7 209.3 361.7 Q212.3 372.7 209.4 383.7 Q207.7 391.4 208.7 399.0"/>
<rect class="lf" x="256.1" y="141.7" width="20.8" height="257.3" style="stroke-width:1.5"/>
<path class="l" d="M263.0 141.7 Q263.0 152.7 263.0 163.7 Q266.8 174.7 263.5 185.7 Q265.0 196.7 263.3 207.7 Q260.2 218.7 262.6 229.7 Q259.4 240.7 262.4 251.7 Q263.8 262.7 263.1 273.7 Q267.0 284.7 263.6 295.7 Q264.2 306.7 263.2 317.7 Q259.7 328.7 262.5 339.7 Q259.9 350.7 262.5 361.7 Q264.6 372.7 263.2 383.7 Q266.9 391.4 263.6 399.0"/>
<path class="l" d="M269.0 141.7 Q273.0 152.7 269.6 163.7 Q269.6 174.7 269.1 185.7 Q265.3 196.7 268.4 207.7 Q266.5 218.7 268.6 229.7 Q271.3 240.7 269.3 251.7 Q272.8 262.7 269.6 273.7 Q268.7 284.7 269.0 295.7 Q265.1 306.7 268.4 317.7 Q267.2 328.7 268.7 339.7 Q272.0 350.7 269.4 361.7 Q272.4 372.7 269.5 383.7 Q267.8 391.4 268.8 399.0"/>
<rect class="lf" x="316.1" y="141.7" width="20.8" height="257.3" style="stroke-width:1.5"/>
<path class="l" d="M323.0 141.7 Q323.0 152.7 323.0 163.7 Q326.8 174.7 323.5 185.7 Q325.0 196.7 323.3 207.7 Q320.2 218.7 322.6 229.7 Q319.4 240.7 322.4 251.7 Q323.8 262.7 323.1 273.7 Q327.0 284.7 323.6 295.7 Q324.2 306.7 323.2 317.7 Q319.7 328.7 322.5 339.7 Q319.9 350.7 322.5 361.7 Q324.6 372.7 323.2 383.7 Q326.9 391.4 323.6 399.0"/>
<path class="l" d="M329.0 141.7 Q333.0 152.7 329.6 163.7 Q329.6 174.7 329.1 185.7 Q325.3 196.7 328.4 207.7 Q326.5 218.7 328.6 229.7 Q331.3 240.7 329.3 251.7 Q332.8 262.7 329.6 273.7 Q328.7 284.7 329.0 295.7 Q325.1 306.7 328.4 317.7 Q327.2 328.7 328.7 339.7 Q332.0 350.7 329.4 361.7 Q332.4 372.7 329.5 383.7 Q327.8 391.4 328.8 399.0"/>
<rect class="lf" x="376.1" y="141.7" width="20.8" height="257.3" style="stroke-width:1.5"/>
<path class="l" d="M383.0 141.7 Q383.0 152.7 383.0 163.7 Q386.8 174.7 383.5 185.7 Q385.0 196.7 383.3 207.7 Q380.2 218.7 382.6 229.7 Q379.4 240.7 382.4 251.7 Q383.8 262.7 383.1 273.7 Q387.0 284.7 383.6 295.7 Q384.2 306.7 383.2 317.7 Q379.7 328.7 382.5 339.7 Q379.9 350.7 382.5 361.7 Q384.6 372.7 383.2 383.7 Q386.9 391.4 383.6 399.0"/>
<path class="l" d="M389.0 141.7 Q393.0 152.7 389.6 163.7 Q389.6 174.7 389.1 185.7 Q385.3 196.7 388.4 207.7 Q386.5 218.7 388.6 229.7 Q391.3 240.7 389.3 251.7 Q392.8 262.7 389.6 273.7 Q388.7 284.7 389.0 295.7 Q385.1 306.7 388.4 317.7 Q387.2 328.7 388.7 339.7 Q392.0 350.7 389.4 361.7 Q392.4 372.7 389.5 383.7 Q387.8 391.4 388.8 399.0"/>
<rect class="lf" x="436.2" y="141.7" width="20.8" height="257.3" style="stroke-width:1.5"/>
<path class="l" d="M443.1 141.7 Q443.1 152.7 443.1 163.7 Q446.9 174.7 443.6 185.7 Q445.1 196.7 443.4 207.7 Q440.3 218.7 442.7 229.7 Q439.5 240.7 442.5 251.7 Q443.9 262.7 443.2 273.7 Q447.1 284.7 443.7 295.7 Q444.3 306.7 443.3 317.7 Q439.8 328.7 442.6 339.7 Q440.0 350.7 442.6 361.7 Q444.7 372.7 443.3 383.7 Q447.0 391.4 443.7 399.0"/>
<path class="l" d="M449.1 141.7 Q453.1 152.7 449.7 163.7 Q449.7 174.7 449.2 185.7 Q445.4 196.7 448.5 207.7 Q446.6 218.7 448.7 229.7 Q451.4 240.7 449.4 251.7 Q452.9 262.7 449.7 273.7 Q448.8 284.7 449.1 295.7 Q445.2 306.7 448.5 317.7 Q447.3 328.7 448.8 339.7 Q452.1 350.7 449.5 361.7 Q452.5 372.7 449.6 383.7 Q447.9 391.4 448.9 399.0"/>
<rect class="lf" x="496.2" y="141.7" width="20.8" height="257.3" style="stroke-width:1.5"/>
<path class="l" d="M503.1 141.7 Q503.1 152.7 503.1 163.7 Q506.9 174.7 503.6 185.7 Q505.1 196.7 503.4 207.7 Q500.3 218.7 502.7 229.7 Q499.5 240.7 502.5 251.7 Q503.9 262.7 503.2 273.7 Q507.1 284.7 503.7 295.7 Q504.3 306.7 503.3 317.7 Q499.8 328.7 502.6 339.7 Q500.0 350.7 502.6 361.7 Q504.7 372.7 503.3 383.7 Q507.0 391.4 503.7 399.0"/>
<path class="l" d="M509.1 141.7 Q513.1 152.7 509.7 163.7 Q509.7 174.7 509.2 185.7 Q505.4 196.7 508.5 207.7 Q506.6 218.7 508.7 229.7 Q511.4 240.7 509.4 251.7 Q512.9 262.7 509.7 273.7 Q508.8 284.7 509.1 295.7 Q505.2 306.7 508.5 317.7 Q507.3 328.7 508.8 339.7 Q512.1 350.7 509.5 361.7 Q512.5 372.7 509.6 383.7 Q507.9 391.4 508.9 399.0"/>
<rect class="lf" x="135" y="141.7" width="21" height="257.3" style="stroke-width:1.5"/>
<path class="l" d="M141.9 141.7 Q141.9 152.7 141.9 163.7 Q145.8 174.7 142.5 185.7 Q144.0 196.7 142.2 207.7 Q139.2 218.7 141.5 229.7 Q138.4 240.7 141.4 251.7 Q142.8 262.7 142.1 273.7 Q145.9 284.7 142.5 295.7 Q143.2 306.7 142.1 317.7 Q138.6 328.7 141.4 339.7 Q138.9 350.7 141.5 361.7 Q143.6 372.7 142.2 383.7 Q145.9 391.4 142.5 399.0"/>
<path class="l" d="M148.0 141.7 Q152.0 152.7 148.6 163.7 Q148.6 174.7 148.1 185.7 Q144.4 196.7 147.5 207.7 Q145.5 218.7 147.6 229.7 Q150.3 240.7 148.4 251.7 Q151.8 262.7 148.6 273.7 Q147.7 284.7 148.0 295.7 Q144.1 306.7 147.4 317.7 Q146.2 328.7 147.8 339.7 Q151.0 350.7 148.5 361.7 Q151.4 372.7 148.5 383.7 Q146.9 391.4 147.8 399.0"/>
<rect class="kf" x="118.9" y="170.9" width="56.6" height="166.2"/>
<line class="k" x1="118.9" y1="222.2" x2="175.5" y2="222.2"/>
<line class="k" x1="118.9" y1="234.9" x2="175.5" y2="234.9"/>
<line class="k" x1="118.9" y1="299.8" x2="175.5" y2="299.8"/>
<line class="k" x1="118.9" y1="313.1" x2="175.5" y2="313.1"/>
<line class="k" x1="130.9" y1="234.9" x2="130.9" y2="299.8"/>
<path d="M142.0 386.6Q148.6 385.4 151.0 392.7Q143.3 393.2 142.0 386.6M142.0 386.6Q145.4 390.6 141.4 395.1Q138.0 390.0 142.0 386.6M142.0 386.6Q139.7 392.9 132.2 391.3Q135.6 384.4 142.0 386.6M142.0 386.6Q136.8 387.5 135.0 381.8Q141.0 381.4 142.0 386.6M142.0 386.6Q137.6 381.5 142.8 375.8Q147.1 382.2 142.0 386.6M142.0 386.6Q143.8 381.6 149.6 382.9Q147.0 388.3 142.0 386.6M147.0 376.0Q150.8 373.5 154.1 377.4Q149.5 379.7 147.0 376.0M147.0 376.0Q149.7 378.2 147.6 381.6Q144.8 378.8 147.0 376.0M147.0 376.0Q145.4 380.2 140.4 379.0Q142.8 374.5 147.0 376.0M147.0 376.0Q143.5 375.8 143.2 371.8Q147.1 372.5 147.0 376.0M147.0 376.0Q145.8 371.7 150.6 369.7Q151.3 374.8 147.0 376.0M127.0 373.8Q131.8 371.3 135.3 376.4Q129.5 378.6 127.0 373.8M127.0 373.8Q130.5 376.1 128.5 380.4Q124.8 377.4 127.0 373.8M127.0 373.8Q126.8 379.2 120.6 379.7Q121.6 373.6 127.0 373.8M127.0 373.8Q123.3 375.7 120.5 371.8Q125.0 370.1 127.0 373.8M127.0 373.8Q122.5 370.9 125.1 365.3Q129.8 369.2 127.0 373.8M127.0 373.8Q127.2 369.6 132.0 369.2Q131.2 373.9 127.0 373.8M143.0 383.0Q150.0 384.6 149.3 392.8Q141.5 390.0 143.0 383.0M143.0 383.0Q144.7 388.4 138.9 391.0Q137.7 384.7 143.0 383.0M143.0 383.0Q138.1 388.3 131.4 383.5Q137.7 378.2 143.0 383.0M143.0 383.0Q137.5 381.8 138.1 375.4Q144.2 377.5 143.0 383.0M143.0 383.0Q140.8 376.1 148.3 372.7Q149.8 380.8 143.0 383.0M143.0 383.0Q146.8 378.9 152.0 382.6Q147.2 386.8 143.0 383.0M132.0 407.5Q138.4 403.3 144.1 409.9Q136.3 413.8 132.0 407.5M132.0 407.5Q137.3 410.2 135.1 416.6Q129.4 412.9 132.0 407.5M132.0 407.5Q132.4 415.1 123.8 416.7Q124.4 408.0 132.0 407.5M132.0 407.5Q127.0 410.8 122.6 405.6Q128.7 402.5 132.0 407.5M132.0 407.5Q125.2 404.1 128.1 395.8Q135.4 400.6 132.0 407.5M132.0 407.5Q131.7 401.5 138.4 400.3Q137.9 407.1 132.0 407.5M148.6 414.0Q158.0 413.2 160.2 423.8Q149.5 423.4 148.6 414.0M148.6 414.0Q152.8 420.1 146.5 425.7Q142.6 418.2 148.6 414.0M148.6 414.0Q144.5 422.5 134.3 419.2Q140.0 410.0 148.6 414.0M148.6 414.0Q141.3 414.6 139.5 406.3Q147.9 406.7 148.6 414.0M148.6 414.0Q143.2 406.2 151.3 399.0Q156.3 408.6 148.6 414.0M148.6 414.0Q151.8 407.3 159.8 410.0Q155.3 417.1 148.6 414.0M123.8 420.8Q126.0 418.6 128.9 420.8Q126.0 423.0 123.8 420.8M123.8 420.8Q126.0 421.9 125.0 424.6Q122.7 423.0 123.8 420.8M123.8 420.8Q123.3 423.9 119.7 423.8Q120.7 420.3 123.8 420.8M123.8 420.8Q121.4 421.2 120.6 418.5Q123.4 418.4 123.8 420.8M123.8 420.8Q122.4 418.0 125.4 416.0Q126.6 419.4 123.8 420.8M144.0 436.0Q151.0 440.0 147.5 448.6Q140.1 443.1 144.0 436.0M144.0 436.0Q144.0 442.3 136.9 443.3Q137.7 436.1 144.0 436.0M144.0 436.0Q137.0 440.1 131.4 432.7Q139.9 429.1 144.0 436.0M144.0 436.0Q138.5 432.9 141.3 426.2Q147.1 430.5 144.0 436.0M144.0 436.0Q144.0 427.9 153.1 426.7Q152.1 435.9 144.0 436.0M144.0 436.0Q149.5 432.8 153.9 438.5Q147.2 441.4 144.0 436.0M126.5 435.0Q130.0 434.0 131.6 437.8Q127.5 438.4 126.5 435.0M126.5 435.0Q128.1 437.3 125.7 439.4Q124.2 436.6 126.5 435.0M126.5 435.0Q124.3 437.8 120.7 435.7Q123.6 432.8 126.5 435.0M126.5 435.0Q123.9 434.0 124.6 430.9Q127.4 432.4 126.5 435.0M126.5 435.0Q126.6 431.4 130.7 431.0Q130.1 435.1 126.5 435.0M126.5 454.0Q132.7 454.8 132.8 462.0Q125.8 460.3 126.5 454.0M126.5 454.0Q128.4 458.5 123.6 461.4Q122.0 456.0 126.5 454.0M126.5 454.0Q122.7 459.0 116.5 455.5Q121.4 450.3 126.5 454.0M126.5 454.0Q121.6 453.4 121.6 447.8Q127.0 449.1 126.5 454.0M126.5 454.0Q124.0 448.2 130.2 444.6Q132.3 451.5 126.5 454.0M126.5 454.0Q129.4 450.1 134.3 452.8Q130.5 456.9 126.5 454.0M143.0 461.7Q148.2 457.5 153.8 462.8Q147.3 466.9 143.0 461.7M143.0 461.7Q147.9 463.6 146.5 469.4Q141.2 466.6 143.0 461.7M143.0 461.7Q144.1 468.4 136.6 470.5Q136.4 462.8 143.0 461.7M143.0 461.7Q138.9 465.0 134.6 460.9Q139.6 457.6 143.0 461.7M143.0 461.7Q136.7 459.3 138.5 451.8Q145.4 455.4 143.0 461.7M143.0 461.7Q142.2 456.5 148.0 454.8Q148.2 460.8 143.0 461.7M142.0 482.6Q148.6 481.4 151.0 488.7Q143.3 489.2 142.0 482.6M142.0 482.6Q145.4 486.6 141.4 491.1Q138.0 486.0 142.0 482.6M142.0 482.6Q139.7 488.9 132.2 487.3Q135.6 480.4 142.0 482.6M142.0 482.6Q136.8 483.5 135.0 477.8Q141.0 477.4 142.0 482.6M142.0 482.6Q137.6 477.5 142.8 471.8Q147.1 478.2 142.0 482.6M142.0 482.6Q143.8 477.6 149.6 478.9Q147.0 484.3 142.0 482.6M137.0 396.0Q141.2 394.3 143.7 398.8Q138.7 400.2 137.0 396.0M137.0 396.0Q139.2 398.7 136.5 401.6Q134.3 398.3 137.0 396.0M137.0 396.0Q134.6 399.8 129.9 397.6Q133.2 393.6 137.0 396.0M137.0 396.0Q133.6 395.1 134.1 391.2Q137.8 392.6 137.0 396.0M137.0 396.0Q136.7 391.5 141.7 390.5Q141.5 395.7 137.0 396.0M133.0 444.0Q137.9 444.6 138.0 450.2Q132.5 448.9 133.0 444.0M133.0 444.0Q134.5 447.5 130.7 449.8Q129.5 445.6 133.0 444.0M133.0 444.0Q130.0 448.0 125.1 445.2Q129.0 441.1 133.0 444.0M133.0 444.0Q129.2 443.5 129.1 439.1Q133.4 440.2 133.0 444.0M133.0 444.0Q131.1 439.5 135.9 436.6Q137.5 442.0 133.0 444.0M133.0 444.0Q135.3 440.9 139.2 443.1Q136.1 446.3 133.0 444.0M147.0 472.0Q150.8 469.5 154.1 473.4Q149.5 475.7 147.0 472.0M147.0 472.0Q149.7 474.2 147.6 477.6Q144.8 474.8 147.0 472.0M147.0 472.0Q145.4 476.2 140.4 475.0Q142.8 470.5 147.0 472.0M147.0 472.0Q143.5 471.8 143.2 467.8Q147.1 468.5 147.0 472.0M147.0 472.0Q145.8 467.7 150.6 465.7Q151.3 470.8 147.0 472.0M128.0 390.0Q131.7 391.6 130.4 396.1Q126.4 393.7 128.0 390.0M128.0 390.0Q127.7 393.1 124.1 393.2Q124.9 389.7 128.0 390.0M128.0 390.0Q124.0 390.8 122.5 386.5Q127.1 386.1 128.0 390.0M128.0 390.0Q126.4 387.3 129.3 385.1Q130.7 388.4 128.0 390.0M128.0 390.0Q130.7 387.0 134.5 389.6Q131.0 392.7 128.0 390.0M127.0 469.8Q131.8 467.3 135.3 472.4Q129.5 474.6 127.0 469.8M127.0 469.8Q130.5 472.1 128.5 476.4Q124.8 473.4 127.0 469.8M127.0 469.8Q126.8 475.2 120.6 475.7Q121.6 469.6 127.0 469.8M127.0 469.8Q123.3 471.7 120.5 467.8Q125.0 466.1 127.0 469.8M127.0 469.8Q122.5 466.9 125.1 461.3Q129.8 465.2 127.0 469.8M127.0 469.8Q127.2 465.6 132.0 465.2Q131.2 469.9 127.0 469.8M143.0 479.0Q150.0 480.6 149.3 488.8Q141.5 486.0 143.0 479.0M143.0 479.0Q144.7 484.4 138.9 487.0Q137.7 480.7 143.0 479.0M143.0 479.0Q138.1 484.3 131.4 479.5Q137.7 474.2 143.0 479.0M143.0 479.0Q137.5 477.8 138.1 471.4Q144.2 473.5 143.0 479.0M143.0 479.0Q140.8 472.1 148.3 468.7Q149.8 476.8 143.0 479.0M143.0 479.0Q146.8 474.9 152.0 478.6Q147.2 482.8 143.0 479.0M132.0 503.5Q138.4 499.3 144.1 505.9Q136.3 509.8 132.0 503.5M132.0 503.5Q137.3 506.2 135.1 512.6Q129.4 508.9 132.0 503.5M132.0 503.5Q132.4 511.1 123.8 512.7Q124.4 504.0 132.0 503.5M132.0 503.5Q127.0 506.8 122.6 501.6Q128.7 498.5 132.0 503.5M132.0 503.5Q125.2 500.1 128.1 491.8Q135.4 496.6 132.0 503.5M132.0 503.5Q131.7 497.5 138.4 496.3Q137.9 503.1 132.0 503.5M148.6 510.0Q158.0 509.2 160.2 519.8Q149.5 519.4 148.6 510.0M148.6 510.0Q152.8 516.1 146.5 521.7Q142.6 514.2 148.6 510.0M148.6 510.0Q144.5 518.5 134.3 515.2Q140.0 506.0 148.6 510.0M148.6 510.0Q141.3 510.6 139.5 502.3Q147.9 502.7 148.6 510.0M148.6 510.0Q143.2 502.2 151.3 495.0Q156.3 504.6 148.6 510.0M148.6 510.0Q151.8 503.3 159.8 506.0Q155.3 513.1 148.6 510.0M123.8 516.8Q126.0 514.6 128.9 516.8Q126.0 519.0 123.8 516.8M123.8 516.8Q126.0 517.9 125.0 520.6Q122.7 519.0 123.8 516.8M123.8 516.8Q123.3 519.9 119.7 519.8Q120.7 516.3 123.8 516.8M123.8 516.8Q121.4 517.2 120.6 514.5Q123.4 514.4 123.8 516.8M123.8 516.8Q122.4 514.0 125.4 512.0Q126.6 515.4 123.8 516.8M144.0 532.0Q151.0 536.0 147.5 544.6Q140.1 539.1 144.0 532.0M144.0 532.0Q144.0 538.3 136.9 539.3Q137.7 532.1 144.0 532.0M144.0 532.0Q137.0 536.1 131.4 528.7Q139.9 525.1 144.0 532.0M144.0 532.0Q138.5 528.9 141.3 522.2Q147.1 526.5 144.0 532.0M144.0 532.0Q144.0 523.9 153.1 522.7Q152.1 531.9 144.0 532.0M144.0 532.0Q149.5 528.8 153.9 534.5Q147.2 537.4 144.0 532.0M126.5 531.0Q130.0 530.0 131.6 533.8Q127.5 534.4 126.5 531.0M126.5 531.0Q128.1 533.3 125.7 535.4Q124.2 532.6 126.5 531.0M126.5 531.0Q124.3 533.8 120.7 531.7Q123.6 528.8 126.5 531.0M126.5 531.0Q123.9 530.0 124.6 526.9Q127.4 528.4 126.5 531.0M126.5 531.0Q126.6 527.4 130.7 527.0Q130.1 531.1 126.5 531.0M126.5 550.0Q132.7 550.8 132.8 558.0Q125.8 556.3 126.5 550.0M126.5 550.0Q128.4 554.5 123.6 557.4Q122.0 552.0 126.5 550.0M126.5 550.0Q122.7 555.0 116.5 551.5Q121.4 546.3 126.5 550.0M126.5 550.0Q121.6 549.4 121.6 543.8Q127.0 545.1 126.5 550.0M126.5 550.0Q124.0 544.2 130.2 540.6Q132.3 547.5 126.5 550.0M126.5 550.0Q129.4 546.1 134.3 548.8Q130.5 552.9 126.5 550.0M143.0 557.7Q148.2 553.5 153.8 558.8Q147.3 562.9 143.0 557.7M143.0 557.7Q147.9 559.6 146.5 565.4Q141.2 562.6 143.0 557.7M143.0 557.7Q144.1 564.4 136.6 566.5Q136.4 558.8 143.0 557.7M143.0 557.7Q138.9 561.0 134.6 556.9Q139.6 553.6 143.0 557.7M143.0 557.7Q136.7 555.3 138.5 547.8Q145.4 551.4 143.0 557.7M143.0 557.7Q142.2 552.5 148.0 550.8Q148.2 556.8 143.0 557.7M142.0 578.6Q148.6 577.4 151.0 584.7Q143.3 585.2 142.0 578.6M142.0 578.6Q145.4 582.6 141.4 587.1Q138.0 582.0 142.0 578.6M142.0 578.6Q139.7 584.9 132.2 583.3Q135.6 576.4 142.0 578.6M142.0 578.6Q136.8 579.5 135.0 573.8Q141.0 573.4 142.0 578.6M142.0 578.6Q137.6 573.5 142.8 567.8Q147.1 574.2 142.0 578.6M142.0 578.6Q143.8 573.6 149.6 574.9Q147.0 580.3 142.0 578.6M137.0 492.0Q141.2 490.3 143.7 494.8Q138.7 496.2 137.0 492.0M137.0 492.0Q139.2 494.7 136.5 497.6Q134.3 494.3 137.0 492.0M137.0 492.0Q134.6 495.8 129.9 493.6Q133.2 489.6 137.0 492.0M137.0 492.0Q133.6 491.1 134.1 487.2Q137.8 488.6 137.0 492.0M137.0 492.0Q136.7 487.5 141.7 486.5Q141.5 491.7 137.0 492.0M133.0 540.0Q137.9 540.6 138.0 546.2Q132.5 544.9 133.0 540.0M133.0 540.0Q134.5 543.5 130.7 545.8Q129.5 541.6 133.0 540.0M133.0 540.0Q130.0 544.0 125.1 541.2Q129.0 537.1 133.0 540.0M133.0 540.0Q129.2 539.5 129.1 535.1Q133.4 536.2 133.0 540.0M133.0 540.0Q131.1 535.5 135.9 532.6Q137.5 538.0 133.0 540.0M133.0 540.0Q135.3 536.9 139.2 539.1Q136.1 542.3 133.0 540.0M147.0 568.0Q150.8 565.5 154.1 569.4Q149.5 571.7 147.0 568.0M147.0 568.0Q149.7 570.2 147.6 573.6Q144.8 570.8 147.0 568.0M147.0 568.0Q145.4 572.2 140.4 571.0Q142.8 566.5 147.0 568.0M147.0 568.0Q143.5 567.8 143.2 563.8Q147.1 564.5 147.0 568.0M147.0 568.0Q145.8 563.7 150.6 561.7Q151.3 566.8 147.0 568.0M128.0 486.0Q131.7 487.6 130.4 492.1Q126.4 489.7 128.0 486.0M128.0 486.0Q127.7 489.1 124.1 489.2Q124.9 485.7 128.0 486.0M128.0 486.0Q124.0 486.8 122.5 482.5Q127.1 482.1 128.0 486.0M128.0 486.0Q126.4 483.3 129.3 481.1Q130.7 484.4 128.0 486.0M128.0 486.0Q130.7 483.0 134.5 485.6Q131.0 488.7 128.0 486.0M127.0 565.8Q131.8 563.3 135.3 568.4Q129.5 570.6 127.0 565.8M127.0 565.8Q130.5 568.1 128.5 572.4Q124.8 569.4 127.0 565.8M127.0 565.8Q126.8 571.2 120.6 571.7Q121.6 565.6 127.0 565.8M127.0 565.8Q123.3 567.7 120.5 563.8Q125.0 562.1 127.0 565.8M127.0 565.8Q122.5 562.9 125.1 557.3Q129.8 561.2 127.0 565.8M127.0 565.8Q127.2 561.6 132.0 561.2Q131.2 565.9 127.0 565.8M143.0 575.0Q150.0 576.6 149.3 584.8Q141.5 582.0 143.0 575.0M143.0 575.0Q144.7 580.4 138.9 583.0Q137.7 576.7 143.0 575.0M143.0 575.0Q138.1 580.3 131.4 575.5Q137.7 570.2 143.0 575.0M143.0 575.0Q137.5 573.8 138.1 567.4Q144.2 569.5 143.0 575.0M143.0 575.0Q140.8 568.1 148.3 564.7Q149.8 572.8 143.0 575.0M143.0 575.0Q146.8 570.9 152.0 574.6Q147.2 578.8 143.0 575.0M132.0 599.5Q138.4 595.3 144.1 601.9Q136.3 605.8 132.0 599.5M132.0 599.5Q137.3 602.2 135.1 608.6Q129.4 604.9 132.0 599.5M132.0 599.5Q132.4 607.1 123.8 608.7Q124.4 600.0 132.0 599.5M132.0 599.5Q127.0 602.8 122.6 597.6Q128.7 594.5 132.0 599.5M132.0 599.5Q125.2 596.1 128.1 587.8Q135.4 592.6 132.0 599.5M132.0 599.5Q131.7 593.5 138.4 592.3Q137.9 599.1 132.0 599.5M148.6 606.0Q158.0 605.2 160.2 615.8Q149.5 615.4 148.6 606.0M148.6 606.0Q152.8 612.1 146.5 617.7Q142.6 610.2 148.6 606.0M148.6 606.0Q144.5 614.5 134.3 611.2Q140.0 602.0 148.6 606.0M148.6 606.0Q141.3 606.6 139.5 598.3Q147.9 598.7 148.6 606.0M148.6 606.0Q143.2 598.2 151.3 591.0Q156.3 600.6 148.6 606.0M148.6 606.0Q151.8 599.3 159.8 602.0Q155.3 609.1 148.6 606.0M123.8 612.8Q126.0 610.6 128.9 612.8Q126.0 615.0 123.8 612.8M123.8 612.8Q126.0 613.9 125.0 616.6Q122.7 615.0 123.8 612.8M123.8 612.8Q123.3 615.9 119.7 615.8Q120.7 612.3 123.8 612.8M123.8 612.8Q121.4 613.2 120.6 610.5Q123.4 610.4 123.8 612.8M123.8 612.8Q122.4 610.0 125.4 608.0Q126.6 611.4 123.8 612.8M144.0 628.0Q151.0 632.0 147.5 640.6Q140.1 635.1 144.0 628.0M144.0 628.0Q144.0 634.3 136.9 635.3Q137.7 628.1 144.0 628.0M144.0 628.0Q137.0 632.1 131.4 624.7Q139.9 621.1 144.0 628.0M144.0 628.0Q138.5 624.9 141.3 618.2Q147.1 622.5 144.0 628.0M144.0 628.0Q144.0 619.9 153.1 618.7Q152.1 627.9 144.0 628.0M144.0 628.0Q149.5 624.8 153.9 630.5Q147.2 633.4 144.0 628.0M126.5 627.0Q130.0 626.0 131.6 629.8Q127.5 630.4 126.5 627.0M126.5 627.0Q128.1 629.3 125.7 631.4Q124.2 628.6 126.5 627.0M126.5 627.0Q124.3 629.8 120.7 627.7Q123.6 624.8 126.5 627.0M126.5 627.0Q123.9 626.0 124.6 622.9Q127.4 624.4 126.5 627.0M126.5 627.0Q126.6 623.4 130.7 623.0Q130.1 627.1 126.5 627.0M126.5 646.0Q132.7 646.8 132.8 654.0Q125.8 652.3 126.5 646.0M126.5 646.0Q128.4 650.5 123.6 653.4Q122.0 648.0 126.5 646.0M126.5 646.0Q122.7 651.0 116.5 647.5Q121.4 642.3 126.5 646.0M126.5 646.0Q121.6 645.4 121.6 639.8Q127.0 641.1 126.5 646.0M126.5 646.0Q124.0 640.2 130.2 636.6Q132.3 643.5 126.5 646.0M126.5 646.0Q129.4 642.1 134.3 644.8Q130.5 648.9 126.5 646.0M143.0 653.7Q148.2 649.5 153.8 654.8Q147.3 658.9 143.0 653.7M143.0 653.7Q147.9 655.6 146.5 661.4Q141.2 658.6 143.0 653.7M143.0 653.7Q144.1 660.4 136.6 662.5Q136.4 654.8 143.0 653.7M143.0 653.7Q138.9 657.0 134.6 652.9Q139.6 649.6 143.0 653.7M143.0 653.7Q136.7 651.3 138.5 643.8Q145.4 647.4 143.0 653.7M143.0 653.7Q142.2 648.5 148.0 646.8Q148.2 652.8 143.0 653.7M142.0 674.6Q148.6 673.4 151.0 680.7Q143.3 681.2 142.0 674.6M142.0 674.6Q145.4 678.6 141.4 683.1Q138.0 678.0 142.0 674.6M142.0 674.6Q139.7 680.9 132.2 679.3Q135.6 672.4 142.0 674.6M142.0 674.6Q136.8 675.5 135.0 669.8Q141.0 669.4 142.0 674.6M142.0 674.6Q137.6 669.5 142.8 663.8Q147.1 670.2 142.0 674.6M142.0 674.6Q143.8 669.6 149.6 670.9Q147.0 676.3 142.0 674.6M137.0 588.0Q141.2 586.3 143.7 590.8Q138.7 592.2 137.0 588.0M137.0 588.0Q139.2 590.7 136.5 593.6Q134.3 590.3 137.0 588.0M137.0 588.0Q134.6 591.8 129.9 589.6Q133.2 585.6 137.0 588.0M137.0 588.0Q133.6 587.1 134.1 583.2Q137.8 584.6 137.0 588.0M137.0 588.0Q136.7 583.5 141.7 582.5Q141.5 587.7 137.0 588.0M133.0 636.0Q137.9 636.6 138.0 642.2Q132.5 640.9 133.0 636.0M133.0 636.0Q134.5 639.5 130.7 641.8Q129.5 637.6 133.0 636.0M133.0 636.0Q130.0 640.0 125.1 637.2Q129.0 633.1 133.0 636.0M133.0 636.0Q129.2 635.5 129.1 631.1Q133.4 632.2 133.0 636.0M133.0 636.0Q131.1 631.5 135.9 628.6Q137.5 634.0 133.0 636.0M133.0 636.0Q135.3 632.9 139.2 635.1Q136.1 638.3 133.0 636.0M147.0 664.0Q150.8 661.5 154.1 665.4Q149.5 667.7 147.0 664.0M147.0 664.0Q149.7 666.2 147.6 669.6Q144.8 666.8 147.0 664.0M147.0 664.0Q145.4 668.2 140.4 667.0Q142.8 662.5 147.0 664.0M147.0 664.0Q143.5 663.8 143.2 659.8Q147.1 660.5 147.0 664.0M147.0 664.0Q145.8 659.7 150.6 657.7Q151.3 662.8 147.0 664.0M128.0 582.0Q131.7 583.6 130.4 588.1Q126.4 585.7 128.0 582.0M128.0 582.0Q127.7 585.1 124.1 585.2Q124.9 581.7 128.0 582.0M128.0 582.0Q124.0 582.8 122.5 578.5Q127.1 578.1 128.0 582.0M128.0 582.0Q126.4 579.3 129.3 577.1Q130.7 580.4 128.0 582.0M128.0 582.0Q130.7 579.0 134.5 581.6Q131.0 584.7 128.0 582.0M127.0 661.8Q131.8 659.3 135.3 664.4Q129.5 666.6 127.0 661.8M127.0 661.8Q130.5 664.1 128.5 668.4Q124.8 665.4 127.0 661.8M127.0 661.8Q126.8 667.2 120.6 667.7Q121.6 661.6 127.0 661.8M127.0 661.8Q123.3 663.7 120.5 659.8Q125.0 658.1 127.0 661.8M127.0 661.8Q122.5 658.9 125.1 653.3Q129.8 657.2 127.0 661.8M127.0 661.8Q127.2 657.6 132.0 657.2Q131.2 661.9 127.0 661.8M143.0 671.0Q150.0 672.6 149.3 680.8Q141.5 678.0 143.0 671.0M143.0 671.0Q144.7 676.4 138.9 679.0Q137.7 672.7 143.0 671.0M143.0 671.0Q138.1 676.3 131.4 671.5Q137.7 666.2 143.0 671.0M143.0 671.0Q137.5 669.8 138.1 663.4Q144.2 665.5 143.0 671.0M143.0 671.0Q140.8 664.1 148.3 660.7Q149.8 668.8 143.0 671.0M143.0 671.0Q146.8 666.9 152.0 670.6Q147.2 674.8 143.0 671.0M132.0 695.5Q138.4 691.3 144.1 697.9Q136.3 701.8 132.0 695.5M132.0 695.5Q137.3 698.2 135.1 704.6Q129.4 700.9 132.0 695.5M132.0 695.5Q132.4 703.1 123.8 704.7Q124.4 696.0 132.0 695.5M132.0 695.5Q127.0 698.8 122.6 693.6Q128.7 690.5 132.0 695.5M132.0 695.5Q125.2 692.1 128.1 683.8Q135.4 688.6 132.0 695.5M132.0 695.5Q131.7 689.5 138.4 688.3Q137.9 695.1 132.0 695.5M148.6 702.0Q158.0 701.2 160.2 711.8Q149.5 711.4 148.6 702.0M148.6 702.0Q152.8 708.1 146.5 713.7Q142.6 706.2 148.6 702.0M148.6 702.0Q144.5 710.5 134.3 707.2Q140.0 698.0 148.6 702.0M148.6 702.0Q141.3 702.6 139.5 694.3Q147.9 694.7 148.6 702.0M148.6 702.0Q143.2 694.2 151.3 687.0Q156.3 696.6 148.6 702.0M148.6 702.0Q151.8 695.3 159.8 698.0Q155.3 705.1 148.6 702.0M123.8 708.8Q126.0 706.6 128.9 708.8Q126.0 711.0 123.8 708.8M123.8 708.8Q126.0 709.9 125.0 712.6Q122.7 711.0 123.8 708.8M123.8 708.8Q123.3 711.9 119.7 711.8Q120.7 708.3 123.8 708.8M123.8 708.8Q121.4 709.2 120.6 706.5Q123.4 706.4 123.8 708.8M123.8 708.8Q122.4 706.0 125.4 704.0Q126.6 707.4 123.8 708.8M144.0 724.0Q151.0 728.0 147.5 736.6Q140.1 731.1 144.0 724.0M144.0 724.0Q144.0 730.3 136.9 731.3Q137.7 724.1 144.0 724.0M144.0 724.0Q137.0 728.1 131.4 720.7Q139.9 717.1 144.0 724.0M144.0 724.0Q138.5 720.9 141.3 714.2Q147.1 718.5 144.0 724.0M144.0 724.0Q144.0 715.9 153.1 714.7Q152.1 723.9 144.0 724.0M144.0 724.0Q149.5 720.8 153.9 726.5Q147.2 729.4 144.0 724.0M126.5 723.0Q130.0 722.0 131.6 725.8Q127.5 726.4 126.5 723.0M126.5 723.0Q128.1 725.3 125.7 727.4Q124.2 724.6 126.5 723.0M126.5 723.0Q124.3 725.8 120.7 723.7Q123.6 720.8 126.5 723.0M126.5 723.0Q123.9 722.0 124.6 718.9Q127.4 720.4 126.5 723.0M126.5 723.0Q126.6 719.4 130.7 719.0Q130.1 723.1 126.5 723.0M126.5 742.0Q132.7 742.8 132.8 750.0Q125.8 748.3 126.5 742.0M126.5 742.0Q128.4 746.5 123.6 749.4Q122.0 744.0 126.5 742.0M126.5 742.0Q122.7 747.0 116.5 743.5Q121.4 738.3 126.5 742.0M126.5 742.0Q121.6 741.4 121.6 735.8Q127.0 737.1 126.5 742.0M126.5 742.0Q124.0 736.2 130.2 732.6Q132.3 739.5 126.5 742.0M126.5 742.0Q129.4 738.1 134.3 740.8Q130.5 744.9 126.5 742.0M143.0 749.7Q148.2 745.5 153.8 750.8Q147.3 754.9 143.0 749.7M143.0 749.7Q147.9 751.6 146.5 757.4Q141.2 754.6 143.0 749.7M143.0 749.7Q144.1 756.4 136.6 758.5Q136.4 750.8 143.0 749.7M143.0 749.7Q138.9 753.0 134.6 748.9Q139.6 745.6 143.0 749.7M143.0 749.7Q136.7 747.3 138.5 739.8Q145.4 743.4 143.0 749.7M143.0 749.7Q142.2 744.5 148.0 742.8Q148.2 748.8 143.0 749.7M142.0 770.6Q148.6 769.4 151.0 776.7Q143.3 777.2 142.0 770.6M142.0 770.6Q145.4 774.6 141.4 779.1Q138.0 774.0 142.0 770.6M142.0 770.6Q139.7 776.9 132.2 775.3Q135.6 768.4 142.0 770.6M142.0 770.6Q136.8 771.5 135.0 765.8Q141.0 765.4 142.0 770.6M142.0 770.6Q137.6 765.5 142.8 759.8Q147.1 766.2 142.0 770.6M142.0 770.6Q143.8 765.6 149.6 766.9Q147.0 772.3 142.0 770.6M137.0 684.0Q141.2 682.3 143.7 686.8Q138.7 688.2 137.0 684.0M137.0 684.0Q139.2 686.7 136.5 689.6Q134.3 686.3 137.0 684.0M137.0 684.0Q134.6 687.8 129.9 685.6Q133.2 681.6 137.0 684.0M137.0 684.0Q133.6 683.1 134.1 679.2Q137.8 680.6 137.0 684.0M137.0 684.0Q136.7 679.5 141.7 678.5Q141.5 683.7 137.0 684.0M133.0 732.0Q137.9 732.6 138.0 738.2Q132.5 736.9 133.0 732.0M133.0 732.0Q134.5 735.5 130.7 737.8Q129.5 733.6 133.0 732.0M133.0 732.0Q130.0 736.0 125.1 733.2Q129.0 729.1 133.0 732.0M133.0 732.0Q129.2 731.5 129.1 727.1Q133.4 728.2 133.0 732.0M133.0 732.0Q131.1 727.5 135.9 724.6Q137.5 730.0 133.0 732.0M133.0 732.0Q135.3 728.9 139.2 731.1Q136.1 734.3 133.0 732.0M147.0 760.0Q150.8 757.5 154.1 761.4Q149.5 763.7 147.0 760.0M147.0 760.0Q149.7 762.2 147.6 765.6Q144.8 762.8 147.0 760.0M147.0 760.0Q145.4 764.2 140.4 763.0Q142.8 758.5 147.0 760.0M147.0 760.0Q143.5 759.8 143.2 755.8Q147.1 756.5 147.0 760.0M147.0 760.0Q145.8 755.7 150.6 753.7Q151.3 758.8 147.0 760.0M128.0 678.0Q131.7 679.6 130.4 684.1Q126.4 681.7 128.0 678.0M128.0 678.0Q127.7 681.1 124.1 681.2Q124.9 677.7 128.0 678.0M128.0 678.0Q124.0 678.8 122.5 674.5Q127.1 674.1 128.0 678.0M128.0 678.0Q126.4 675.3 129.3 673.1Q130.7 676.4 128.0 678.0M128.0 678.0Q130.7 675.0 134.5 677.6Q131.0 680.7 128.0 678.0M127.0 757.8Q131.8 755.3 135.3 760.4Q129.5 762.6 127.0 757.8M127.0 757.8Q130.5 760.1 128.5 764.4Q124.8 761.4 127.0 757.8M127.0 757.8Q126.8 763.2 120.6 763.7Q121.6 757.6 127.0 757.8M127.0 757.8Q123.3 759.7 120.5 755.8Q125.0 754.1 127.0 757.8M127.0 757.8Q122.5 754.9 125.1 749.3Q129.8 753.2 127.0 757.8M127.0 757.8Q127.2 753.6 132.0 753.2Q131.2 757.9 127.0 757.8M143.0 767.0Q150.0 768.6 149.3 776.8Q141.5 774.0 143.0 767.0M143.0 767.0Q144.7 772.4 138.9 775.0Q137.7 768.7 143.0 767.0M143.0 767.0Q138.1 772.3 131.4 767.5Q137.7 762.2 143.0 767.0M143.0 767.0Q137.5 765.8 138.1 759.4Q144.2 761.5 143.0 767.0M143.0 767.0Q140.8 760.1 148.3 756.7Q149.8 764.8 143.0 767.0M143.0 767.0Q146.8 762.9 152.0 766.6Q147.2 770.8 143.0 767.0M132.0 791.5Q138.4 787.3 144.1 793.9Q136.3 797.8 132.0 791.5M132.0 791.5Q137.3 794.2 135.1 800.6Q129.4 796.9 132.0 791.5M132.0 791.5Q132.4 799.1 123.8 800.7Q124.4 792.0 132.0 791.5M132.0 791.5Q127.0 794.8 122.6 789.6Q128.7 786.5 132.0 791.5M132.0 791.5Q125.2 788.1 128.1 779.8Q135.4 784.6 132.0 791.5M132.0 791.5Q131.7 785.5 138.4 784.3Q137.9 791.1 132.0 791.5M148.6 798.0Q158.0 797.2 160.2 807.8Q149.5 807.4 148.6 798.0M148.6 798.0Q152.8 804.1 146.5 809.7Q142.6 802.2 148.6 798.0M148.6 798.0Q144.5 806.5 134.3 803.2Q140.0 794.0 148.6 798.0M148.6 798.0Q141.3 798.6 139.5 790.3Q147.9 790.7 148.6 798.0M148.6 798.0Q143.2 790.2 151.3 783.0Q156.3 792.6 148.6 798.0M148.6 798.0Q151.8 791.3 159.8 794.0Q155.3 801.1 148.6 798.0M123.8 804.8Q126.0 802.6 128.9 804.8Q126.0 807.0 123.8 804.8M123.8 804.8Q126.0 805.9 125.0 808.6Q122.7 807.0 123.8 804.8M123.8 804.8Q123.3 807.9 119.7 807.8Q120.7 804.3 123.8 804.8M123.8 804.8Q121.4 805.2 120.6 802.5Q123.4 802.4 123.8 804.8M123.8 804.8Q122.4 802.0 125.4 800.0Q126.6 803.4 123.8 804.8M144.0 820.0Q151.0 824.0 147.5 832.6Q140.1 827.1 144.0 820.0M144.0 820.0Q144.0 826.3 136.9 827.3Q137.7 820.1 144.0 820.0M144.0 820.0Q137.0 824.1 131.4 816.7Q139.9 813.1 144.0 820.0M144.0 820.0Q138.5 816.9 141.3 810.2Q147.1 814.5 144.0 820.0M144.0 820.0Q144.0 811.9 153.1 810.7Q152.1 819.9 144.0 820.0M144.0 820.0Q149.5 816.8 153.9 822.5Q147.2 825.4 144.0 820.0M126.5 819.0Q130.0 818.0 131.6 821.8Q127.5 822.4 126.5 819.0M126.5 819.0Q128.1 821.3 125.7 823.4Q124.2 820.6 126.5 819.0M126.5 819.0Q124.3 821.8 120.7 819.7Q123.6 816.8 126.5 819.0M126.5 819.0Q123.9 818.0 124.6 814.9Q127.4 816.4 126.5 819.0M126.5 819.0Q126.6 815.4 130.7 815.0Q130.1 819.1 126.5 819.0M126.5 838.0Q132.7 838.8 132.8 846.0Q125.8 844.3 126.5 838.0M126.5 838.0Q128.4 842.5 123.6 845.4Q122.0 840.0 126.5 838.0M126.5 838.0Q122.7 843.0 116.5 839.5Q121.4 834.3 126.5 838.0M126.5 838.0Q121.6 837.4 121.6 831.8Q127.0 833.1 126.5 838.0M126.5 838.0Q124.0 832.2 130.2 828.6Q132.3 835.5 126.5 838.0M126.5 838.0Q129.4 834.1 134.3 836.8Q130.5 840.9 126.5 838.0M143.0 845.7Q148.2 841.5 153.8 846.8Q147.3 850.9 143.0 845.7M143.0 845.7Q147.9 847.6 146.5 853.4Q141.2 850.6 143.0 845.7M143.0 845.7Q144.1 852.4 136.6 854.5Q136.4 846.8 143.0 845.7M143.0 845.7Q138.9 849.0 134.6 844.9Q139.6 841.6 143.0 845.7M143.0 845.7Q136.7 843.3 138.5 835.8Q145.4 839.4 143.0 845.7M143.0 845.7Q142.2 840.5 148.0 838.8Q148.2 844.8 143.0 845.7M142.0 866.6Q148.6 865.4 151.0 872.7Q143.3 873.2 142.0 866.6M142.0 866.6Q145.4 870.6 141.4 875.1Q138.0 870.0 142.0 866.6M142.0 866.6Q139.7 872.9 132.2 871.3Q135.6 864.4 142.0 866.6M142.0 866.6Q136.8 867.5 135.0 861.8Q141.0 861.4 142.0 866.6M142.0 866.6Q137.6 861.5 142.8 855.8Q147.1 862.2 142.0 866.6M142.0 866.6Q143.8 861.6 149.6 862.9Q147.0 868.3 142.0 866.6M137.0 780.0Q141.2 778.3 143.7 782.8Q138.7 784.2 137.0 780.0M137.0 780.0Q139.2 782.7 136.5 785.6Q134.3 782.3 137.0 780.0M137.0 780.0Q134.6 783.8 129.9 781.6Q133.2 777.6 137.0 780.0M137.0 780.0Q133.6 779.1 134.1 775.2Q137.8 776.6 137.0 780.0M137.0 780.0Q136.7 775.5 141.7 774.5Q141.5 779.7 137.0 780.0M133.0 828.0Q137.9 828.6 138.0 834.2Q132.5 832.9 133.0 828.0M133.0 828.0Q134.5 831.5 130.7 833.8Q129.5 829.6 133.0 828.0M133.0 828.0Q130.0 832.0 125.1 829.2Q129.0 825.1 133.0 828.0M133.0 828.0Q129.2 827.5 129.1 823.1Q133.4 824.2 133.0 828.0M133.0 828.0Q131.1 823.5 135.9 820.6Q137.5 826.0 133.0 828.0M133.0 828.0Q135.3 824.9 139.2 827.1Q136.1 830.3 133.0 828.0M147.0 856.0Q150.8 853.5 154.1 857.4Q149.5 859.7 147.0 856.0M147.0 856.0Q149.7 858.2 147.6 861.6Q144.8 858.8 147.0 856.0M147.0 856.0Q145.4 860.2 140.4 859.0Q142.8 854.5 147.0 856.0M147.0 856.0Q143.5 855.8 143.2 851.8Q147.1 852.5 147.0 856.0M147.0 856.0Q145.8 851.7 150.6 849.7Q151.3 854.8 147.0 856.0M128.0 774.0Q131.7 775.6 130.4 780.1Q126.4 777.7 128.0 774.0M128.0 774.0Q127.7 777.1 124.1 777.2Q124.9 773.7 128.0 774.0M128.0 774.0Q124.0 774.8 122.5 770.5Q127.1 770.1 128.0 774.0M128.0 774.0Q126.4 771.3 129.3 769.1Q130.7 772.4 128.0 774.0M128.0 774.0Q130.7 771.0 134.5 773.6Q131.0 776.7 128.0 774.0M127.0 853.8Q131.8 851.3 135.3 856.4Q129.5 858.6 127.0 853.8M127.0 853.8Q130.5 856.1 128.5 860.4Q124.8 857.4 127.0 853.8M127.0 853.8Q126.8 859.2 120.6 859.7Q121.6 853.6 127.0 853.8M127.0 853.8Q123.3 855.7 120.5 851.8Q125.0 850.1 127.0 853.8M127.0 853.8Q122.5 850.9 125.1 845.3Q129.8 849.2 127.0 853.8M127.0 853.8Q127.2 849.6 132.0 849.2Q131.2 853.9 127.0 853.8M143.0 863.0Q150.0 864.6 149.3 872.8Q141.5 870.0 143.0 863.0M143.0 863.0Q144.7 868.4 138.9 871.0Q137.7 864.7 143.0 863.0M143.0 863.0Q138.1 868.3 131.4 863.5Q137.7 858.2 143.0 863.0M143.0 863.0Q137.5 861.8 138.1 855.4Q144.2 857.5 143.0 863.0M143.0 863.0Q140.8 856.1 148.3 852.7Q149.8 860.8 143.0 863.0M143.0 863.0Q146.8 858.9 152.0 862.6Q147.2 866.8 143.0 863.0M132.0 887.5Q138.4 883.3 144.1 889.9Q136.3 893.8 132.0 887.5M132.0 887.5Q137.3 890.2 135.1 896.6Q129.4 892.9 132.0 887.5M132.0 887.5Q132.4 895.1 123.8 896.7Q124.4 888.0 132.0 887.5M132.0 887.5Q127.0 890.8 122.6 885.6Q128.7 882.5 132.0 887.5M132.0 887.5Q125.2 884.1 128.1 875.8Q135.4 880.6 132.0 887.5M132.0 887.5Q131.7 881.5 138.4 880.3Q137.9 887.1 132.0 887.5M148.6 894.0Q158.0 893.2 160.2 903.8Q149.5 903.4 148.6 894.0M148.6 894.0Q152.8 900.1 146.5 905.7Q142.6 898.2 148.6 894.0M148.6 894.0Q144.5 902.5 134.3 899.2Q140.0 890.0 148.6 894.0M148.6 894.0Q141.3 894.6 139.5 886.3Q147.9 886.7 148.6 894.0M148.6 894.0Q143.2 886.2 151.3 879.0Q156.3 888.6 148.6 894.0M148.6 894.0Q151.8 887.3 159.8 890.0Q155.3 897.1 148.6 894.0M123.8 900.8Q126.0 898.6 128.9 900.8Q126.0 903.0 123.8 900.8M123.8 900.8Q126.0 901.9 125.0 904.6Q122.7 903.0 123.8 900.8M123.8 900.8Q123.3 903.9 119.7 903.8Q120.7 900.3 123.8 900.8M123.8 900.8Q121.4 901.2 120.6 898.5Q123.4 898.4 123.8 900.8M123.8 900.8Q122.4 898.0 125.4 896.0Q126.6 899.4 123.8 900.8M144.0 916.0Q151.0 920.0 147.5 928.6Q140.1 923.1 144.0 916.0M144.0 916.0Q144.0 922.3 136.9 923.3Q137.7 916.1 144.0 916.0M144.0 916.0Q137.0 920.1 131.4 912.7Q139.9 909.1 144.0 916.0M144.0 916.0Q138.5 912.9 141.3 906.2Q147.1 910.5 144.0 916.0M144.0 916.0Q144.0 907.9 153.1 906.7Q152.1 915.9 144.0 916.0M144.0 916.0Q149.5 912.8 153.9 918.5Q147.2 921.4 144.0 916.0M126.5 915.0Q130.0 914.0 131.6 917.8Q127.5 918.4 126.5 915.0M126.5 915.0Q128.1 917.3 125.7 919.4Q124.2 916.6 126.5 915.0M126.5 915.0Q124.3 917.8 120.7 915.7Q123.6 912.8 126.5 915.0M126.5 915.0Q123.9 914.0 124.6 910.9Q127.4 912.4 126.5 915.0M126.5 915.0Q126.6 911.4 130.7 911.0Q130.1 915.1 126.5 915.0M126.5 934.0Q132.7 934.8 132.8 942.0Q125.8 940.3 126.5 934.0M126.5 934.0Q128.4 938.5 123.6 941.4Q122.0 936.0 126.5 934.0M126.5 934.0Q122.7 939.0 116.5 935.5Q121.4 930.3 126.5 934.0M126.5 934.0Q121.6 933.4 121.6 927.8Q127.0 929.1 126.5 934.0M126.5 934.0Q124.0 928.2 130.2 924.6Q132.3 931.5 126.5 934.0M126.5 934.0Q129.4 930.1 134.3 932.8Q130.5 936.9 126.5 934.0M143.0 941.7Q148.2 937.5 153.8 942.8Q147.3 946.9 143.0 941.7M143.0 941.7Q147.9 943.6 146.5 949.4Q141.2 946.6 143.0 941.7M143.0 941.7Q144.1 948.4 136.6 950.5Q136.4 942.8 143.0 941.7M143.0 941.7Q138.9 945.0 134.6 940.9Q139.6 937.6 143.0 941.7M143.0 941.7Q136.7 939.3 138.5 931.8Q145.4 935.4 143.0 941.7M143.0 941.7Q142.2 936.5 148.0 934.8Q148.2 940.8 143.0 941.7M142.0 962.6Q148.6 961.4 151.0 968.7Q143.3 969.2 142.0 962.6M142.0 962.6Q145.4 966.6 141.4 971.1Q138.0 966.0 142.0 962.6M142.0 962.6Q139.7 968.9 132.2 967.3Q135.6 960.4 142.0 962.6M142.0 962.6Q136.8 963.5 135.0 957.8Q141.0 957.4 142.0 962.6M142.0 962.6Q137.6 957.5 142.8 951.8Q147.1 958.2 142.0 962.6M142.0 962.6Q143.8 957.6 149.6 958.9Q147.0 964.3 142.0 962.6M137.0 876.0Q141.2 874.3 143.7 878.8Q138.7 880.2 137.0 876.0M137.0 876.0Q139.2 878.7 136.5 881.6Q134.3 878.3 137.0 876.0M137.0 876.0Q134.6 879.8 129.9 877.6Q133.2 873.6 137.0 876.0M137.0 876.0Q133.6 875.1 134.1 871.2Q137.8 872.6 137.0 876.0M137.0 876.0Q136.7 871.5 141.7 870.5Q141.5 875.7 137.0 876.0M133.0 924.0Q137.9 924.6 138.0 930.2Q132.5 928.9 133.0 924.0M133.0 924.0Q134.5 927.5 130.7 929.8Q129.5 925.6 133.0 924.0M133.0 924.0Q130.0 928.0 125.1 925.2Q129.0 921.1 133.0 924.0M133.0 924.0Q129.2 923.5 129.1 919.1Q133.4 920.2 133.0 924.0M133.0 924.0Q131.1 919.5 135.9 916.6Q137.5 922.0 133.0 924.0M133.0 924.0Q135.3 920.9 139.2 923.1Q136.1 926.3 133.0 924.0M147.0 952.0Q150.8 949.5 154.1 953.4Q149.5 955.7 147.0 952.0M147.0 952.0Q149.7 954.2 147.6 957.6Q144.8 954.8 147.0 952.0M147.0 952.0Q145.4 956.2 140.4 955.0Q142.8 950.5 147.0 952.0M147.0 952.0Q143.5 951.8 143.2 947.8Q147.1 948.5 147.0 952.0M147.0 952.0Q145.8 947.7 150.6 945.7Q151.3 950.8 147.0 952.0M128.0 870.0Q131.7 871.6 130.4 876.1Q126.4 873.7 128.0 870.0M128.0 870.0Q127.7 873.1 124.1 873.2Q124.9 869.7 128.0 870.0M128.0 870.0Q124.0 870.8 122.5 866.5Q127.1 866.1 128.0 870.0M128.0 870.0Q126.4 867.3 129.3 865.1Q130.7 868.4 128.0 870.0M128.0 870.0Q130.7 867.0 134.5 869.6Q131.0 872.7 128.0 870.0M127.0 949.8Q131.8 947.3 135.3 952.4Q129.5 954.6 127.0 949.8M127.0 949.8Q130.5 952.1 128.5 956.4Q124.8 953.4 127.0 949.8M127.0 949.8Q126.8 955.2 120.6 955.7Q121.6 949.6 127.0 949.8M127.0 949.8Q123.3 951.7 120.5 947.8Q125.0 946.1 127.0 949.8M127.0 949.8Q122.5 946.9 125.1 941.3Q129.8 945.2 127.0 949.8M127.0 949.8Q127.2 945.6 132.0 945.2Q131.2 949.9 127.0 949.8M143.0 959.0Q150.0 960.6 149.3 968.8Q141.5 966.0 143.0 959.0M143.0 959.0Q144.7 964.4 138.9 967.0Q137.7 960.7 143.0 959.0M143.0 959.0Q138.1 964.3 131.4 959.5Q137.7 954.2 143.0 959.0M143.0 959.0Q137.5 957.8 138.1 951.4Q144.2 953.5 143.0 959.0M143.0 959.0Q140.8 952.1 148.3 948.7Q149.8 956.8 143.0 959.0M143.0 959.0Q146.8 954.9 152.0 958.6Q147.2 962.8 143.0 959.0M132.0 983.5Q138.4 979.3 144.1 985.9Q136.3 989.8 132.0 983.5M132.0 983.5Q137.3 986.2 135.1 992.6Q129.4 988.9 132.0 983.5M132.0 983.5Q132.4 991.1 123.8 992.7Q124.4 984.0 132.0 983.5M132.0 983.5Q127.0 986.8 122.6 981.6Q128.7 978.5 132.0 983.5M132.0 983.5Q125.2 980.1 128.1 971.8Q135.4 976.6 132.0 983.5M132.0 983.5Q131.7 977.5 138.4 976.3Q137.9 983.1 132.0 983.5M148.6 990.0Q158.0 989.2 160.2 999.8Q149.5 999.4 148.6 990.0M148.6 990.0Q152.8 996.1 146.5 1001.7Q142.6 994.2 148.6 990.0M148.6 990.0Q144.5 998.5 134.3 995.2Q140.0 986.0 148.6 990.0M148.6 990.0Q141.3 990.6 139.5 982.3Q147.9 982.7 148.6 990.0M148.6 990.0Q143.2 982.2 151.3 975.0Q156.3 984.6 148.6 990.0M148.6 990.0Q151.8 983.3 159.8 986.0Q155.3 993.1 148.6 990.0M123.8 996.8Q126.0 994.6 128.9 996.8Q126.0 999.0 123.8 996.8M123.8 996.8Q126.0 997.9 125.0 1000.6Q122.7 999.0 123.8 996.8M123.8 996.8Q123.3 999.9 119.7 999.8Q120.7 996.3 123.8 996.8M123.8 996.8Q121.4 997.2 120.6 994.5Q123.4 994.4 123.8 996.8M123.8 996.8Q122.4 994.0 125.4 992.0Q126.6 995.4 123.8 996.8M144.0 1012.0Q151.0 1016.0 147.5 1024.6Q140.1 1019.1 144.0 1012.0M144.0 1012.0Q144.0 1018.3 136.9 1019.3Q137.7 1012.1 144.0 1012.0M144.0 1012.0Q137.0 1016.1 131.4 1008.7Q139.9 1005.1 144.0 1012.0M144.0 1012.0Q138.5 1008.9 141.3 1002.2Q147.1 1006.5 144.0 1012.0M144.0 1012.0Q144.0 1003.9 153.1 1002.7Q152.1 1011.9 144.0 1012.0M144.0 1012.0Q149.5 1008.8 153.9 1014.5Q147.2 1017.4 144.0 1012.0M126.5 1011.0Q130.0 1010.0 131.6 1013.8Q127.5 1014.4 126.5 1011.0M126.5 1011.0Q128.1 1013.3 125.7 1015.4Q124.2 1012.6 126.5 1011.0M126.5 1011.0Q124.3 1013.8 120.7 1011.7Q123.6 1008.8 126.5 1011.0M126.5 1011.0Q123.9 1010.0 124.6 1006.9Q127.4 1008.4 126.5 1011.0M126.5 1011.0Q126.6 1007.4 130.7 1007.0Q130.1 1011.1 126.5 1011.0M126.5 1030.0Q132.7 1030.8 132.8 1038.0Q125.8 1036.3 126.5 1030.0M126.5 1030.0Q128.4 1034.5 123.6 1037.4Q122.0 1032.0 126.5 1030.0M126.5 1030.0Q122.7 1035.0 116.5 1031.5Q121.4 1026.3 126.5 1030.0M126.5 1030.0Q121.6 1029.4 121.6 1023.8Q127.0 1025.1 126.5 1030.0M126.5 1030.0Q124.0 1024.2 130.2 1020.6Q132.3 1027.5 126.5 1030.0M126.5 1030.0Q129.4 1026.1 134.3 1028.8Q130.5 1032.9 126.5 1030.0M143.0 1037.7Q148.2 1033.5 153.8 1038.8Q147.3 1042.9 143.0 1037.7M143.0 1037.7Q147.9 1039.6 146.5 1045.4Q141.2 1042.6 143.0 1037.7M143.0 1037.7Q144.1 1044.4 136.6 1046.5Q136.4 1038.8 143.0 1037.7M143.0 1037.7Q138.9 1041.0 134.6 1036.9Q139.6 1033.6 143.0 1037.7M143.0 1037.7Q136.7 1035.3 138.5 1027.8Q145.4 1031.4 143.0 1037.7M143.0 1037.7Q142.2 1032.5 148.0 1030.8Q148.2 1036.8 143.0 1037.7M142.0 1058.6Q148.6 1057.4 151.0 1064.7Q143.3 1065.2 142.0 1058.6M142.0 1058.6Q145.4 1062.6 141.4 1067.1Q138.0 1062.0 142.0 1058.6M142.0 1058.6Q139.7 1064.9 132.2 1063.3Q135.6 1056.4 142.0 1058.6M142.0 1058.6Q136.8 1059.5 135.0 1053.8Q141.0 1053.4 142.0 1058.6M142.0 1058.6Q137.6 1053.5 142.8 1047.8Q147.1 1054.2 142.0 1058.6M142.0 1058.6Q143.8 1053.6 149.6 1054.9Q147.0 1060.3 142.0 1058.6M137.0 972.0Q141.2 970.3 143.7 974.8Q138.7 976.2 137.0 972.0M137.0 972.0Q139.2 974.7 136.5 977.6Q134.3 974.3 137.0 972.0M137.0 972.0Q134.6 975.8 129.9 973.6Q133.2 969.6 137.0 972.0M137.0 972.0Q133.6 971.1 134.1 967.2Q137.8 968.6 137.0 972.0M137.0 972.0Q136.7 967.5 141.7 966.5Q141.5 971.7 137.0 972.0M133.0 1020.0Q137.9 1020.6 138.0 1026.2Q132.5 1024.9 133.0 1020.0M133.0 1020.0Q134.5 1023.5 130.7 1025.8Q129.5 1021.6 133.0 1020.0M133.0 1020.0Q130.0 1024.0 125.1 1021.2Q129.0 1017.1 133.0 1020.0M133.0 1020.0Q129.2 1019.5 129.1 1015.1Q133.4 1016.2 133.0 1020.0M133.0 1020.0Q131.1 1015.5 135.9 1012.6Q137.5 1018.0 133.0 1020.0M133.0 1020.0Q135.3 1016.9 139.2 1019.1Q136.1 1022.3 133.0 1020.0M147.0 1048.0Q150.8 1045.5 154.1 1049.4Q149.5 1051.7 147.0 1048.0M147.0 1048.0Q149.7 1050.2 147.6 1053.6Q144.8 1050.8 147.0 1048.0M147.0 1048.0Q145.4 1052.2 140.4 1051.0Q142.8 1046.5 147.0 1048.0M147.0 1048.0Q143.5 1047.8 143.2 1043.8Q147.1 1044.5 147.0 1048.0M147.0 1048.0Q145.8 1043.7 150.6 1041.7Q151.3 1046.8 147.0 1048.0M128.0 966.0Q131.7 967.6 130.4 972.1Q126.4 969.7 128.0 966.0M128.0 966.0Q127.7 969.1 124.1 969.2Q124.9 965.7 128.0 966.0M128.0 966.0Q124.0 966.8 122.5 962.5Q127.1 962.1 128.0 966.0M128.0 966.0Q126.4 963.3 129.3 961.1Q130.7 964.4 128.0 966.0M128.0 966.0Q130.7 963.0 134.5 965.6Q131.0 968.7 128.0 966.0M127.0 1045.8Q131.8 1043.3 135.3 1048.4Q129.5 1050.6 127.0 1045.8M127.0 1045.8Q130.5 1048.1 128.5 1052.4Q124.8 1049.4 127.0 1045.8M127.0 1045.8Q126.8 1051.2 120.6 1051.7Q121.6 1045.6 127.0 1045.8M127.0 1045.8Q123.3 1047.7 120.5 1043.8Q125.0 1042.1 127.0 1045.8M127.0 1045.8Q122.5 1042.9 125.1 1037.3Q129.8 1041.2 127.0 1045.8M127.0 1045.8Q127.2 1041.6 132.0 1041.2Q131.2 1045.9 127.0 1045.8M143.0 1055.0Q150.0 1056.6 149.3 1064.8Q141.5 1062.0 143.0 1055.0M143.0 1055.0Q144.7 1060.4 138.9 1063.0Q137.7 1056.7 143.0 1055.0M143.0 1055.0Q138.1 1060.3 131.4 1055.5Q137.7 1050.2 143.0 1055.0M143.0 1055.0Q137.5 1053.8 138.1 1047.4Q144.2 1049.5 143.0 1055.0M143.0 1055.0Q140.8 1048.1 148.3 1044.7Q149.8 1052.8 143.0 1055.0M143.0 1055.0Q146.8 1050.9 152.0 1054.6Q147.2 1058.8 143.0 1055.0M132.0 1079.5Q138.4 1075.3 144.1 1081.9Q136.3 1085.8 132.0 1079.5M132.0 1079.5Q137.3 1082.2 135.1 1088.6Q129.4 1084.9 132.0 1079.5M132.0 1079.5Q132.4 1087.1 123.8 1088.7Q124.4 1080.0 132.0 1079.5M132.0 1079.5Q127.0 1082.8 122.6 1077.6Q128.7 1074.5 132.0 1079.5M132.0 1079.5Q125.2 1076.1 128.1 1067.8Q135.4 1072.6 132.0 1079.5M132.0 1079.5Q131.7 1073.5 138.4 1072.3Q137.9 1079.1 132.0 1079.5M148.6 1086.0Q158.0 1085.2 160.2 1095.8Q149.5 1095.4 148.6 1086.0M148.6 1086.0Q152.8 1092.1 146.5 1097.7Q142.6 1090.2 148.6 1086.0M148.6 1086.0Q144.5 1094.5 134.3 1091.2Q140.0 1082.0 148.6 1086.0M148.6 1086.0Q141.3 1086.6 139.5 1078.3Q147.9 1078.7 148.6 1086.0M148.6 1086.0Q143.2 1078.2 151.3 1071.0Q156.3 1080.6 148.6 1086.0M148.6 1086.0Q151.8 1079.3 159.8 1082.0Q155.3 1089.1 148.6 1086.0M123.8 1092.8Q126.0 1090.6 128.9 1092.8Q126.0 1095.0 123.8 1092.8M123.8 1092.8Q126.0 1093.9 125.0 1096.6Q122.7 1095.0 123.8 1092.8M123.8 1092.8Q123.3 1095.9 119.7 1095.8Q120.7 1092.3 123.8 1092.8M123.8 1092.8Q121.4 1093.2 120.6 1090.5Q123.4 1090.4 123.8 1092.8M123.8 1092.8Q122.4 1090.0 125.4 1088.0Q126.6 1091.4 123.8 1092.8M144.0 1108.0Q151.0 1112.0 147.5 1120.6Q140.1 1115.1 144.0 1108.0M144.0 1108.0Q144.0 1114.3 136.9 1115.3Q137.7 1108.1 144.0 1108.0M144.0 1108.0Q137.0 1112.1 131.4 1104.7Q139.9 1101.1 144.0 1108.0M144.0 1108.0Q138.5 1104.9 141.3 1098.2Q147.1 1102.5 144.0 1108.0M144.0 1108.0Q144.0 1099.9 153.1 1098.7Q152.1 1107.9 144.0 1108.0M144.0 1108.0Q149.5 1104.8 153.9 1110.5Q147.2 1113.4 144.0 1108.0M126.5 1107.0Q130.0 1106.0 131.6 1109.8Q127.5 1110.4 126.5 1107.0M126.5 1107.0Q128.1 1109.3 125.7 1111.4Q124.2 1108.6 126.5 1107.0M126.5 1107.0Q124.3 1109.8 120.7 1107.7Q123.6 1104.8 126.5 1107.0M126.5 1107.0Q123.9 1106.0 124.6 1102.9Q127.4 1104.4 126.5 1107.0M126.5 1107.0Q126.6 1103.4 130.7 1103.0Q130.1 1107.1 126.5 1107.0M126.5 1126.0Q132.7 1126.8 132.8 1134.0Q125.8 1132.3 126.5 1126.0M126.5 1126.0Q128.4 1130.5 123.6 1133.4Q122.0 1128.0 126.5 1126.0M126.5 1126.0Q122.7 1131.0 116.5 1127.5Q121.4 1122.3 126.5 1126.0M126.5 1126.0Q121.6 1125.4 121.6 1119.8Q127.0 1121.1 126.5 1126.0M126.5 1126.0Q124.0 1120.2 130.2 1116.6Q132.3 1123.5 126.5 1126.0M126.5 1126.0Q129.4 1122.1 134.3 1124.8Q130.5 1128.9 126.5 1126.0M143.0 1133.7Q148.2 1129.5 153.8 1134.8Q147.3 1138.9 143.0 1133.7M143.0 1133.7Q147.9 1135.6 146.5 1141.4Q141.2 1138.6 143.0 1133.7M143.0 1133.7Q144.1 1140.4 136.6 1142.5Q136.4 1134.8 143.0 1133.7M143.0 1133.7Q138.9 1137.0 134.6 1132.9Q139.6 1129.6 143.0 1133.7M143.0 1133.7Q136.7 1131.3 138.5 1123.8Q145.4 1127.4 143.0 1133.7M143.0 1133.7Q142.2 1128.5 148.0 1126.8Q148.2 1132.8 143.0 1133.7M137.0 1068.0Q141.2 1066.3 143.7 1070.8Q138.7 1072.2 137.0 1068.0M137.0 1068.0Q139.2 1070.7 136.5 1073.6Q134.3 1070.3 137.0 1068.0M137.0 1068.0Q134.6 1071.8 129.9 1069.6Q133.2 1065.6 137.0 1068.0M137.0 1068.0Q133.6 1067.1 134.1 1063.2Q137.8 1064.6 137.0 1068.0M137.0 1068.0Q136.7 1063.5 141.7 1062.5Q141.5 1067.7 137.0 1068.0M133.0 1116.0Q137.9 1116.6 138.0 1122.2Q132.5 1120.9 133.0 1116.0M133.0 1116.0Q134.5 1119.5 130.7 1121.8Q129.5 1117.6 133.0 1116.0M133.0 1116.0Q130.0 1120.0 125.1 1117.2Q129.0 1113.1 133.0 1116.0M133.0 1116.0Q129.2 1115.5 129.1 1111.1Q133.4 1112.2 133.0 1116.0M133.0 1116.0Q131.1 1111.5 135.9 1108.6Q137.5 1114.0 133.0 1116.0M133.0 1116.0Q135.3 1112.9 139.2 1115.1Q136.1 1118.3 133.0 1116.0M147.0 1144.0Q150.8 1141.5 154.1 1145.4Q149.5 1147.7 147.0 1144.0M147.0 1144.0Q149.7 1146.2 147.6 1149.6Q144.8 1146.8 147.0 1144.0M147.0 1144.0Q145.4 1148.2 140.4 1147.0Q142.8 1142.5 147.0 1144.0M147.0 1144.0Q143.5 1143.8 143.2 1139.8Q147.1 1140.5 147.0 1144.0M147.0 1144.0Q145.8 1139.7 150.6 1137.7Q151.3 1142.8 147.0 1144.0M128.0 1062.0Q131.7 1063.6 130.4 1068.1Q126.4 1065.7 128.0 1062.0M128.0 1062.0Q127.7 1065.1 124.1 1065.2Q124.9 1061.7 128.0 1062.0M128.0 1062.0Q124.0 1062.8 122.5 1058.5Q127.1 1058.1 128.0 1062.0M128.0 1062.0Q126.4 1059.3 129.3 1057.1Q130.7 1060.4 128.0 1062.0M128.0 1062.0Q130.7 1059.0 134.5 1061.6Q131.0 1064.7 128.0 1062.0M127.0 1141.8Q131.8 1139.3 135.3 1144.4Q129.5 1146.6 127.0 1141.8M127.0 1141.8Q130.5 1144.1 128.5 1148.4Q124.8 1145.4 127.0 1141.8M127.0 1141.8Q126.8 1147.2 120.6 1147.7Q121.6 1141.6 127.0 1141.8M127.0 1141.8Q123.3 1143.7 120.5 1139.8Q125.0 1138.1 127.0 1141.8M127.0 1141.8Q122.5 1138.9 125.1 1133.3Q129.8 1137.2 127.0 1141.8M127.0 1141.8Q127.2 1137.6 132.0 1137.2Q131.2 1141.9 127.0 1141.8" fill="#fbfbfb" stroke="#6e6e6e" stroke-width=".95"/>
<path d="M1805.5 162.0Q1812.3 158.5 1817.3 165.6Q1809.1 168.7 1805.5 162.0M1805.5 162.0Q1809.7 166.2 1805.6 171.6Q1801.4 166.3 1805.5 162.0M1805.5 162.0Q1802.1 168.8 1793.8 166.0Q1798.6 158.7 1805.5 162.0M1805.5 162.0Q1799.6 161.1 1799.7 154.3Q1806.3 156.1 1805.5 162.0M1805.5 162.0Q1804.2 154.5 1812.6 151.9Q1813.0 160.7 1805.5 162.0M1831.5 163.0Q1838.3 164.5 1837.6 172.4Q1830.1 169.8 1831.5 163.0M1831.5 163.0Q1832.0 168.4 1826.0 169.8Q1826.1 163.6 1831.5 163.0M1831.5 163.0Q1825.1 165.8 1821.1 158.9Q1828.7 156.7 1831.5 163.0M1831.5 163.0Q1827.9 158.9 1832.0 154.3Q1835.5 159.4 1831.5 163.0M1831.5 163.0Q1835.0 157.0 1842.3 160.2Q1837.5 166.5 1831.5 163.0M1785.5 171.0Q1789.9 168.1 1793.7 172.7Q1788.4 175.3 1785.5 171.0M1785.5 171.0Q1789.1 172.8 1787.6 177.2Q1783.7 174.6 1785.5 171.0M1785.5 171.0Q1785.8 176.2 1779.9 177.3Q1780.3 171.3 1785.5 171.0M1785.5 171.0Q1782.1 173.2 1779.1 169.7Q1783.2 167.6 1785.5 171.0M1785.5 171.0Q1780.9 168.7 1782.8 163.0Q1787.8 166.3 1785.5 171.0M1785.5 171.0Q1785.3 166.9 1789.8 166.1Q1789.6 170.7 1785.5 171.0M1795.5 177.0Q1799.7 177.1 1800.2 181.8Q1795.5 181.2 1795.5 177.0M1795.5 177.0Q1797.1 179.8 1794.1 182.0Q1792.7 178.6 1795.5 177.0M1795.5 177.0Q1793.3 180.6 1789.0 178.6Q1791.9 174.9 1795.5 177.0M1795.5 177.0Q1792.3 176.9 1791.8 173.2Q1795.5 173.8 1795.5 177.0M1795.5 177.0Q1793.5 173.4 1797.3 170.5Q1799.1 175.0 1795.5 177.0M1795.5 177.0Q1797.2 174.2 1800.6 175.7Q1798.3 178.7 1795.5 177.0M1820.5 173.0Q1825.3 175.8 1822.9 181.6Q1817.8 177.9 1820.5 173.0M1820.5 173.0Q1820.5 177.3 1815.6 178.0Q1816.2 173.1 1820.5 173.0M1820.5 173.0Q1815.7 175.8 1811.8 170.8Q1817.7 168.2 1820.5 173.0M1820.5 173.0Q1816.7 170.8 1818.6 166.3Q1822.6 169.2 1820.5 173.0M1820.5 173.0Q1820.5 167.4 1826.8 166.6Q1826.1 172.9 1820.5 173.0M1820.5 173.0Q1824.2 170.8 1827.3 174.7Q1822.7 176.7 1820.5 173.0M1841.5 171.0Q1846.2 169.7 1848.4 174.8Q1842.9 175.7 1841.5 171.0M1841.5 171.0Q1844.2 173.6 1841.6 177.1Q1838.9 173.8 1841.5 171.0M1841.5 171.0Q1840.3 175.7 1834.8 175.1Q1836.8 169.9 1841.5 171.0M1841.5 171.0Q1837.9 172.0 1836.1 168.1Q1840.4 167.4 1841.5 171.0M1841.5 171.0Q1838.0 167.6 1841.3 163.2Q1844.8 167.5 1841.5 171.0M1841.5 171.0Q1842.4 167.3 1846.7 167.8Q1845.2 171.9 1841.5 171.0M1803.5 183.0Q1807.3 179.9 1811.3 183.8Q1806.6 186.7 1803.5 183.0M1803.5 183.0Q1807.0 184.4 1806.0 188.6Q1802.2 186.6 1803.5 183.0M1803.5 183.0Q1804.3 187.8 1798.9 189.4Q1798.7 183.8 1803.5 183.0M1803.5 183.0Q1800.6 185.4 1797.4 182.4Q1801.1 180.1 1803.5 183.0M1803.5 183.0Q1799.0 181.3 1800.3 175.9Q1805.2 178.4 1803.5 183.0M1803.5 183.0Q1802.9 179.3 1807.1 178.0Q1807.2 182.4 1803.5 183.0M1825.5 186.0Q1828.6 185.8 1829.4 189.2Q1825.8 189.1 1825.5 186.0M1825.5 186.0Q1826.4 188.3 1824.0 189.6Q1823.3 187.0 1825.5 186.0M1825.5 186.0Q1823.1 188.0 1820.5 185.6Q1823.4 183.6 1825.5 186.0M1825.5 186.0Q1823.4 184.7 1824.6 182.2Q1826.7 183.9 1825.5 186.0M1825.5 186.0Q1826.2 183.0 1829.8 183.3Q1828.5 186.7 1825.5 186.0M1813.5 187.4Q1815.5 186.0 1817.3 188.2Q1814.9 189.4 1813.5 187.4M1813.5 187.4Q1815.0 188.6 1813.8 190.4Q1812.3 188.9 1813.5 187.4M1813.5 187.4Q1812.6 189.6 1809.9 189.0Q1811.2 186.5 1813.5 187.4M1813.5 187.4Q1811.6 187.3 1811.4 185.1Q1813.6 185.5 1813.5 187.4M1813.5 187.4Q1812.9 185.0 1815.4 184.0Q1815.8 186.7 1813.5 187.4M1851.5 183.0Q1856.3 183.6 1856.4 189.1Q1851.0 187.8 1851.5 183.0M1851.5 183.0Q1853.0 186.5 1849.3 188.7Q1848.0 184.5 1851.5 183.0M1851.5 183.0Q1848.6 186.9 1843.7 184.1Q1847.6 180.1 1851.5 183.0M1851.5 183.0Q1847.7 182.5 1847.7 178.2Q1851.9 179.2 1851.5 183.0M1851.5 183.0Q1849.6 178.5 1854.4 175.7Q1855.9 181.0 1851.5 183.0M1851.5 183.0Q1853.8 180.0 1857.5 182.1Q1854.6 185.2 1851.5 183.0M1857.5 166.0Q1861.5 167.3 1860.5 172.0Q1856.2 170.0 1857.5 166.0M1857.5 166.0Q1858.2 169.2 1854.6 170.4Q1854.3 166.7 1857.5 166.0M1857.5 166.0Q1854.4 168.8 1850.8 165.6Q1854.7 162.9 1857.5 166.0M1857.5 166.0Q1854.4 165.0 1855.1 161.3Q1858.5 162.9 1857.5 166.0M1857.5 166.0Q1856.7 161.9 1861.2 160.4Q1861.6 165.1 1857.5 166.0M1857.5 166.0Q1859.9 163.8 1862.7 166.3Q1859.7 168.4 1857.5 166.0M1861.5 170.0Q1864.6 168.4 1866.8 171.7Q1863.1 173.1 1861.5 170.0M1861.5 170.0Q1863.4 171.9 1861.6 174.4Q1859.6 172.0 1861.5 170.0M1861.5 170.0Q1860.0 173.1 1856.2 171.8Q1858.4 168.5 1861.5 170.0M1861.5 170.0Q1858.8 169.6 1858.9 166.5Q1861.9 167.3 1861.5 170.0M1861.5 170.0Q1860.9 166.6 1864.7 165.4Q1864.9 169.4 1861.5 170.0M1837.5 181.0Q1840.9 180.4 1842.1 184.2Q1838.2 184.4 1837.5 181.0M1837.5 181.0Q1838.8 183.4 1836.3 185.2Q1835.1 182.3 1837.5 181.0M1837.5 181.0Q1835.1 183.5 1831.9 181.2Q1835.0 178.6 1837.5 181.0M1837.5 181.0Q1835.1 179.8 1836.0 176.9Q1838.6 178.5 1837.5 181.0M1837.5 181.0Q1838.0 177.6 1841.9 177.6Q1840.9 181.4 1837.5 181.0M1881.5 162.0Q1888.3 158.5 1893.3 165.6Q1885.1 168.7 1881.5 162.0M1881.5 162.0Q1885.7 166.2 1881.6 171.6Q1877.4 166.3 1881.5 162.0M1881.5 162.0Q1878.1 168.8 1869.8 166.0Q1874.6 158.7 1881.5 162.0M1881.5 162.0Q1875.6 161.1 1875.7 154.3Q1882.3 156.1 1881.5 162.0M1881.5 162.0Q1880.2 154.5 1888.6 151.9Q1889.0 160.7 1881.5 162.0M1907.5 163.0Q1914.3 164.5 1913.6 172.4Q1906.1 169.8 1907.5 163.0M1907.5 163.0Q1908.0 168.4 1902.0 169.8Q1902.1 163.6 1907.5 163.0M1907.5 163.0Q1901.1 165.8 1897.1 158.9Q1904.7 156.7 1907.5 163.0M1907.5 163.0Q1903.9 158.9 1908.0 154.3Q1911.5 159.4 1907.5 163.0M1907.5 163.0Q1911.0 157.0 1918.3 160.2Q1913.5 166.5 1907.5 163.0M1861.5 171.0Q1865.9 168.1 1869.7 172.7Q1864.4 175.3 1861.5 171.0M1861.5 171.0Q1865.1 172.8 1863.6 177.2Q1859.7 174.6 1861.5 171.0M1861.5 171.0Q1861.8 176.2 1855.9 177.3Q1856.3 171.3 1861.5 171.0M1861.5 171.0Q1858.1 173.2 1855.1 169.7Q1859.2 167.6 1861.5 171.0M1861.5 171.0Q1856.9 168.7 1858.8 163.0Q1863.8 166.3 1861.5 171.0M1861.5 171.0Q1861.3 166.9 1865.8 166.1Q1865.6 170.7 1861.5 171.0M1871.5 177.0Q1875.7 177.1 1876.2 181.8Q1871.5 181.2 1871.5 177.0M1871.5 177.0Q1873.1 179.8 1870.1 182.0Q1868.7 178.6 1871.5 177.0M1871.5 177.0Q1869.3 180.6 1865.0 178.6Q1867.9 174.9 1871.5 177.0M1871.5 177.0Q1868.3 176.9 1867.8 173.2Q1871.5 173.8 1871.5 177.0M1871.5 177.0Q1869.5 173.4 1873.3 170.5Q1875.1 175.0 1871.5 177.0M1871.5 177.0Q1873.2 174.2 1876.6 175.7Q1874.3 178.7 1871.5 177.0M1896.5 173.0Q1901.3 175.8 1898.9 181.6Q1893.8 177.9 1896.5 173.0M1896.5 173.0Q1896.5 177.3 1891.6 178.0Q1892.2 173.1 1896.5 173.0M1896.5 173.0Q1891.7 175.8 1887.8 170.8Q1893.7 168.2 1896.5 173.0M1896.5 173.0Q1892.7 170.8 1894.6 166.3Q1898.6 169.2 1896.5 173.0M1896.5 173.0Q1896.5 167.4 1902.8 166.6Q1902.1 172.9 1896.5 173.0M1896.5 173.0Q1900.2 170.8 1903.3 174.7Q1898.7 176.7 1896.5 173.0M1917.5 171.0Q1922.2 169.7 1924.4 174.8Q1918.9 175.7 1917.5 171.0M1917.5 171.0Q1920.2 173.6 1917.6 177.1Q1914.9 173.8 1917.5 171.0M1917.5 171.0Q1916.3 175.7 1910.8 175.1Q1912.8 169.9 1917.5 171.0M1917.5 171.0Q1913.9 172.0 1912.1 168.1Q1916.4 167.4 1917.5 171.0M1917.5 171.0Q1914.0 167.6 1917.3 163.2Q1920.8 167.5 1917.5 171.0M1917.5 171.0Q1918.4 167.3 1922.7 167.8Q1921.2 171.9 1917.5 171.0M1879.5 183.0Q1883.3 179.9 1887.3 183.8Q1882.6 186.7 1879.5 183.0M1879.5 183.0Q1883.0 184.4 1882.0 188.6Q1878.2 186.6 1879.5 183.0M1879.5 183.0Q1880.3 187.8 1874.9 189.4Q1874.7 183.8 1879.5 183.0M1879.5 183.0Q1876.6 185.4 1873.4 182.4Q1877.1 180.1 1879.5 183.0M1879.5 183.0Q1875.0 181.3 1876.3 175.9Q1881.2 178.4 1879.5 183.0M1879.5 183.0Q1878.9 179.3 1883.1 178.0Q1883.2 182.4 1879.5 183.0M1901.5 186.0Q1904.6 185.8 1905.4 189.2Q1901.8 189.1 1901.5 186.0M1901.5 186.0Q1902.4 188.3 1900.0 189.6Q1899.3 187.0 1901.5 186.0M1901.5 186.0Q1899.1 188.0 1896.5 185.6Q1899.4 183.6 1901.5 186.0M1901.5 186.0Q1899.4 184.7 1900.6 182.2Q1902.7 183.9 1901.5 186.0M1901.5 186.0Q1902.2 183.0 1905.8 183.3Q1904.5 186.7 1901.5 186.0M1889.5 187.4Q1891.5 186.0 1893.3 188.2Q1890.9 189.4 1889.5 187.4M1889.5 187.4Q1891.0 188.6 1889.8 190.4Q1888.3 188.9 1889.5 187.4M1889.5 187.4Q1888.6 189.6 1885.9 189.0Q1887.2 186.5 1889.5 187.4M1889.5 187.4Q1887.6 187.3 1887.4 185.1Q1889.6 185.5 1889.5 187.4M1889.5 187.4Q1888.9 185.0 1891.4 184.0Q1891.8 186.7 1889.5 187.4M1927.5 183.0Q1932.3 183.6 1932.4 189.1Q1927.0 187.8 1927.5 183.0M1927.5 183.0Q1929.0 186.5 1925.3 188.7Q1924.0 184.5 1927.5 183.0M1927.5 183.0Q1924.6 186.9 1919.7 184.1Q1923.6 180.1 1927.5 183.0M1927.5 183.0Q1923.7 182.5 1923.7 178.2Q1927.9 179.2 1927.5 183.0M1927.5 183.0Q1925.6 178.5 1930.4 175.7Q1931.9 181.0 1927.5 183.0M1927.5 183.0Q1929.8 180.0 1933.5 182.1Q1930.6 185.2 1927.5 183.0M1854.5 166.0Q1857.7 164.7 1859.7 168.2Q1855.8 169.2 1854.5 166.0M1854.5 166.0Q1856.2 168.1 1854.1 170.4Q1852.4 167.8 1854.5 166.0M1854.5 166.0Q1852.6 168.9 1849.0 167.3Q1851.5 164.2 1854.5 166.0M1854.5 166.0Q1851.9 165.3 1852.2 162.3Q1855.1 163.4 1854.5 166.0M1854.5 166.0Q1854.3 162.5 1858.2 161.8Q1858.0 165.7 1854.5 166.0M1933.5 166.0Q1937.5 167.3 1936.5 172.0Q1932.2 170.0 1933.5 166.0M1933.5 166.0Q1934.2 169.2 1930.6 170.4Q1930.3 166.7 1933.5 166.0M1933.5 166.0Q1930.4 168.8 1926.8 165.6Q1930.7 162.9 1933.5 166.0M1933.5 166.0Q1930.4 165.0 1931.1 161.3Q1934.5 162.9 1933.5 166.0M1933.5 166.0Q1932.7 161.9 1937.2 160.4Q1937.6 165.1 1933.5 166.0M1933.5 166.0Q1935.9 163.8 1938.7 166.3Q1935.7 168.4 1933.5 166.0M1937.5 170.0Q1940.6 168.4 1942.8 171.7Q1939.1 173.1 1937.5 170.0M1937.5 170.0Q1939.4 171.9 1937.6 174.4Q1935.6 172.0 1937.5 170.0M1937.5 170.0Q1936.0 173.1 1932.2 171.8Q1934.4 168.5 1937.5 170.0M1937.5 170.0Q1934.8 169.6 1934.9 166.5Q1937.9 167.3 1937.5 170.0M1937.5 170.0Q1936.9 166.6 1940.7 165.4Q1940.9 169.4 1937.5 170.0M1913.5 181.0Q1916.9 180.4 1918.1 184.2Q1914.2 184.4 1913.5 181.0M1913.5 181.0Q1914.8 183.4 1912.3 185.2Q1911.1 182.3 1913.5 181.0M1913.5 181.0Q1911.1 183.5 1907.9 181.2Q1911.0 178.6 1913.5 181.0M1913.5 181.0Q1911.1 179.8 1912.0 176.9Q1914.6 178.5 1913.5 181.0M1913.5 181.0Q1914.0 177.6 1917.9 177.6Q1916.9 181.4 1913.5 181.0M1957.5 162.0Q1964.3 158.5 1969.3 165.6Q1961.1 168.7 1957.5 162.0M1957.5 162.0Q1961.7 166.2 1957.6 171.6Q1953.4 166.3 1957.5 162.0M1957.5 162.0Q1954.1 168.8 1945.8 166.0Q1950.6 158.7 1957.5 162.0M1957.5 162.0Q1951.6 161.1 1951.7 154.3Q1958.3 156.1 1957.5 162.0M1957.5 162.0Q1956.2 154.5 1964.6 151.9Q1965.0 160.7 1957.5 162.0M1983.5 163.0Q1990.3 164.5 1989.6 172.4Q1982.1 169.8 1983.5 163.0M1983.5 163.0Q1984.0 168.4 1978.0 169.8Q1978.1 163.6 1983.5 163.0M1983.5 163.0Q1977.1 165.8 1973.1 158.9Q1980.7 156.7 1983.5 163.0M1983.5 163.0Q1979.9 158.9 1984.0 154.3Q1987.5 159.4 1983.5 163.0M1983.5 163.0Q1987.0 157.0 1994.3 160.2Q1989.5 166.5 1983.5 163.0M1937.5 171.0Q1941.9 168.1 1945.7 172.7Q1940.4 175.3 1937.5 171.0M1937.5 171.0Q1941.1 172.8 1939.6 177.2Q1935.7 174.6 1937.5 171.0M1937.5 171.0Q1937.8 176.2 1931.9 177.3Q1932.3 171.3 1937.5 171.0M1937.5 171.0Q1934.1 173.2 1931.1 169.7Q1935.2 167.6 1937.5 171.0M1937.5 171.0Q1932.9 168.7 1934.8 163.0Q1939.8 166.3 1937.5 171.0M1937.5 171.0Q1937.3 166.9 1941.8 166.1Q1941.6 170.7 1937.5 171.0M1947.5 177.0Q1951.7 177.1 1952.2 181.8Q1947.5 181.2 1947.5 177.0M1947.5 177.0Q1949.1 179.8 1946.1 182.0Q1944.7 178.6 1947.5 177.0M1947.5 177.0Q1945.3 180.6 1941.0 178.6Q1943.9 174.9 1947.5 177.0M1947.5 177.0Q1944.3 176.9 1943.8 173.2Q1947.5 173.8 1947.5 177.0M1947.5 177.0Q1945.5 173.4 1949.3 170.5Q1951.1 175.0 1947.5 177.0M1947.5 177.0Q1949.2 174.2 1952.6 175.7Q1950.3 178.7 1947.5 177.0M1972.5 173.0Q1977.3 175.8 1974.9 181.6Q1969.8 177.9 1972.5 173.0M1972.5 173.0Q1972.5 177.3 1967.6 178.0Q1968.2 173.1 1972.5 173.0M1972.5 173.0Q1967.7 175.8 1963.8 170.8Q1969.7 168.2 1972.5 173.0M1972.5 173.0Q1968.7 170.8 1970.6 166.3Q1974.6 169.2 1972.5 173.0M1972.5 173.0Q1972.5 167.4 1978.8 166.6Q1978.1 172.9 1972.5 173.0M1972.5 173.0Q1976.2 170.8 1979.3 174.7Q1974.7 176.7 1972.5 173.0M1993.5 171.0Q1998.2 169.7 2000.4 174.8Q1994.9 175.7 1993.5 171.0M1993.5 171.0Q1996.2 173.6 1993.6 177.1Q1990.9 173.8 1993.5 171.0M1993.5 171.0Q1992.3 175.7 1986.8 175.1Q1988.8 169.9 1993.5 171.0M1993.5 171.0Q1989.9 172.0 1988.1 168.1Q1992.4 167.4 1993.5 171.0M1993.5 171.0Q1990.0 167.6 1993.3 163.2Q1996.8 167.5 1993.5 171.0M1993.5 171.0Q1994.4 167.3 1998.7 167.8Q1997.2 171.9 1993.5 171.0M1955.5 183.0Q1959.3 179.9 1963.3 183.8Q1958.6 186.7 1955.5 183.0M1955.5 183.0Q1959.0 184.4 1958.0 188.6Q1954.2 186.6 1955.5 183.0M1955.5 183.0Q1956.3 187.8 1950.9 189.4Q1950.7 183.8 1955.5 183.0M1955.5 183.0Q1952.6 185.4 1949.4 182.4Q1953.1 180.1 1955.5 183.0M1955.5 183.0Q1951.0 181.3 1952.3 175.9Q1957.2 178.4 1955.5 183.0M1955.5 183.0Q1954.9 179.3 1959.1 178.0Q1959.2 182.4 1955.5 183.0M1977.5 186.0Q1980.6 185.8 1981.4 189.2Q1977.8 189.1 1977.5 186.0M1977.5 186.0Q1978.4 188.3 1976.0 189.6Q1975.3 187.0 1977.5 186.0M1977.5 186.0Q1975.1 188.0 1972.5 185.6Q1975.4 183.6 1977.5 186.0M1977.5 186.0Q1975.4 184.7 1976.6 182.2Q1978.7 183.9 1977.5 186.0M1977.5 186.0Q1978.2 183.0 1981.8 183.3Q1980.5 186.7 1977.5 186.0M1965.5 187.4Q1967.5 186.0 1969.3 188.2Q1966.9 189.4 1965.5 187.4M1965.5 187.4Q1967.0 188.6 1965.8 190.4Q1964.3 188.9 1965.5 187.4M1965.5 187.4Q1964.6 189.6 1961.9 189.0Q1963.2 186.5 1965.5 187.4M1965.5 187.4Q1963.6 187.3 1963.4 185.1Q1965.6 185.5 1965.5 187.4M1965.5 187.4Q1964.9 185.0 1967.4 184.0Q1967.8 186.7 1965.5 187.4M2003.5 183.0Q2008.3 183.6 2008.4 189.1Q2003.0 187.8 2003.5 183.0M2003.5 183.0Q2005.0 186.5 2001.3 188.7Q2000.0 184.5 2003.5 183.0M2003.5 183.0Q2000.6 186.9 1995.7 184.1Q1999.6 180.1 2003.5 183.0M2003.5 183.0Q1999.7 182.5 1999.7 178.2Q2003.9 179.2 2003.5 183.0M2003.5 183.0Q2001.6 178.5 2006.4 175.7Q2007.9 181.0 2003.5 183.0M2003.5 183.0Q2005.8 180.0 2009.5 182.1Q2006.6 185.2 2003.5 183.0M1930.5 166.0Q1933.7 164.7 1935.7 168.2Q1931.8 169.2 1930.5 166.0M1930.5 166.0Q1932.2 168.1 1930.1 170.4Q1928.4 167.8 1930.5 166.0M1930.5 166.0Q1928.6 168.9 1925.0 167.3Q1927.5 164.2 1930.5 166.0M1930.5 166.0Q1927.9 165.3 1928.2 162.3Q1931.1 163.4 1930.5 166.0M1930.5 166.0Q1930.3 162.5 1934.2 161.8Q1934.0 165.7 1930.5 166.0M2009.5 166.0Q2013.5 167.3 2012.5 172.0Q2008.2 170.0 2009.5 166.0M2009.5 166.0Q2010.2 169.2 2006.6 170.4Q2006.3 166.7 2009.5 166.0M2009.5 166.0Q2006.4 168.8 2002.8 165.6Q2006.7 162.9 2009.5 166.0M2009.5 166.0Q2006.4 165.0 2007.1 161.3Q2010.5 162.9 2009.5 166.0M2009.5 166.0Q2008.7 161.9 2013.2 160.4Q2013.6 165.1 2009.5 166.0M2009.5 166.0Q2011.9 163.8 2014.7 166.3Q2011.7 168.4 2009.5 166.0M2013.5 170.0Q2016.6 168.4 2018.8 171.7Q2015.1 173.1 2013.5 170.0M2013.5 170.0Q2015.4 171.9 2013.6 174.4Q2011.6 172.0 2013.5 170.0M2013.5 170.0Q2012.0 173.1 2008.2 171.8Q2010.4 168.5 2013.5 170.0M2013.5 170.0Q2010.8 169.6 2010.9 166.5Q2013.9 167.3 2013.5 170.0M2013.5 170.0Q2012.9 166.6 2016.7 165.4Q2016.9 169.4 2013.5 170.0M1989.5 181.0Q1992.9 180.4 1994.1 184.2Q1990.2 184.4 1989.5 181.0M1989.5 181.0Q1990.8 183.4 1988.3 185.2Q1987.1 182.3 1989.5 181.0M1989.5 181.0Q1987.1 183.5 1983.9 181.2Q1987.0 178.6 1989.5 181.0M1989.5 181.0Q1987.1 179.8 1988.0 176.9Q1990.6 178.5 1989.5 181.0M1989.5 181.0Q1990.0 177.6 1993.9 177.6Q1992.9 181.4 1989.5 181.0M2033.5 162.0Q2040.3 158.5 2045.3 165.6Q2037.1 168.7 2033.5 162.0M2033.5 162.0Q2037.7 166.2 2033.6 171.6Q2029.4 166.3 2033.5 162.0M2033.5 162.0Q2030.1 168.8 2021.8 166.0Q2026.6 158.7 2033.5 162.0M2033.5 162.0Q2027.6 161.1 2027.7 154.3Q2034.3 156.1 2033.5 162.0M2033.5 162.0Q2032.2 154.5 2040.6 151.9Q2041.0 160.7 2033.5 162.0M2059.5 163.0Q2066.3 164.5 2065.6 172.4Q2058.1 169.8 2059.5 163.0M2059.5 163.0Q2060.0 168.4 2054.0 169.8Q2054.1 163.6 2059.5 163.0M2059.5 163.0Q2053.1 165.8 2049.1 158.9Q2056.7 156.7 2059.5 163.0M2059.5 163.0Q2055.9 158.9 2060.0 154.3Q2063.5 159.4 2059.5 163.0M2059.5 163.0Q2063.0 157.0 2070.3 160.2Q2065.5 166.5 2059.5 163.0M2013.5 171.0Q2017.9 168.1 2021.7 172.7Q2016.4 175.3 2013.5 171.0M2013.5 171.0Q2017.1 172.8 2015.6 177.2Q2011.7 174.6 2013.5 171.0M2013.5 171.0Q2013.8 176.2 2007.9 177.3Q2008.3 171.3 2013.5 171.0M2013.5 171.0Q2010.1 173.2 2007.1 169.7Q2011.2 167.6 2013.5 171.0M2013.5 171.0Q2008.9 168.7 2010.8 163.0Q2015.8 166.3 2013.5 171.0M2013.5 171.0Q2013.3 166.9 2017.8 166.1Q2017.6 170.7 2013.5 171.0M2023.5 177.0Q2027.7 177.1 2028.2 181.8Q2023.5 181.2 2023.5 177.0M2023.5 177.0Q2025.1 179.8 2022.1 182.0Q2020.7 178.6 2023.5 177.0M2023.5 177.0Q2021.3 180.6 2017.0 178.6Q2019.9 174.9 2023.5 177.0M2023.5 177.0Q2020.3 176.9 2019.8 173.2Q2023.5 173.8 2023.5 177.0M2023.5 177.0Q2021.5 173.4 2025.3 170.5Q2027.1 175.0 2023.5 177.0M2023.5 177.0Q2025.2 174.2 2028.6 175.7Q2026.3 178.7 2023.5 177.0M2048.5 173.0Q2053.3 175.8 2050.9 181.6Q2045.8 177.9 2048.5 173.0M2048.5 173.0Q2048.5 177.3 2043.6 178.0Q2044.2 173.1 2048.5 173.0M2048.5 173.0Q2043.7 175.8 2039.8 170.8Q2045.7 168.2 2048.5 173.0M2048.5 173.0Q2044.7 170.8 2046.6 166.3Q2050.6 169.2 2048.5 173.0M2048.5 173.0Q2048.5 167.4 2054.8 166.6Q2054.1 172.9 2048.5 173.0M2048.5 173.0Q2052.2 170.8 2055.3 174.7Q2050.7 176.7 2048.5 173.0M2069.5 171.0Q2074.2 169.7 2076.4 174.8Q2070.9 175.7 2069.5 171.0M2069.5 171.0Q2072.2 173.6 2069.6 177.1Q2066.9 173.8 2069.5 171.0M2069.5 171.0Q2068.3 175.7 2062.8 175.1Q2064.8 169.9 2069.5 171.0M2069.5 171.0Q2065.9 172.0 2064.1 168.1Q2068.4 167.4 2069.5 171.0M2069.5 171.0Q2066.0 167.6 2069.3 163.2Q2072.8 167.5 2069.5 171.0M2069.5 171.0Q2070.4 167.3 2074.7 167.8Q2073.2 171.9 2069.5 171.0M2031.5 183.0Q2035.3 179.9 2039.3 183.8Q2034.6 186.7 2031.5 183.0M2031.5 183.0Q2035.0 184.4 2034.0 188.6Q2030.2 186.6 2031.5 183.0M2031.5 183.0Q2032.3 187.8 2026.9 189.4Q2026.7 183.8 2031.5 183.0M2031.5 183.0Q2028.6 185.4 2025.4 182.4Q2029.1 180.1 2031.5 183.0M2031.5 183.0Q2027.0 181.3 2028.3 175.9Q2033.2 178.4 2031.5 183.0M2031.5 183.0Q2030.9 179.3 2035.1 178.0Q2035.2 182.4 2031.5 183.0M2053.5 186.0Q2056.6 185.8 2057.4 189.2Q2053.8 189.1 2053.5 186.0M2053.5 186.0Q2054.4 188.3 2052.0 189.6Q2051.3 187.0 2053.5 186.0M2053.5 186.0Q2051.1 188.0 2048.5 185.6Q2051.4 183.6 2053.5 186.0M2053.5 186.0Q2051.4 184.7 2052.6 182.2Q2054.7 183.9 2053.5 186.0M2053.5 186.0Q2054.2 183.0 2057.8 183.3Q2056.5 186.7 2053.5 186.0M2041.5 187.4Q2043.5 186.0 2045.3 188.2Q2042.9 189.4 2041.5 187.4M2041.5 187.4Q2043.0 188.6 2041.8 190.4Q2040.3 188.9 2041.5 187.4M2041.5 187.4Q2040.6 189.6 2037.9 189.0Q2039.2 186.5 2041.5 187.4M2041.5 187.4Q2039.6 187.3 2039.4 185.1Q2041.6 185.5 2041.5 187.4M2041.5 187.4Q2040.9 185.0 2043.4 184.0Q2043.8 186.7 2041.5 187.4M2079.5 183.0Q2084.3 183.6 2084.4 189.1Q2079.0 187.8 2079.5 183.0M2079.5 183.0Q2081.0 186.5 2077.3 188.7Q2076.0 184.5 2079.5 183.0M2079.5 183.0Q2076.6 186.9 2071.7 184.1Q2075.6 180.1 2079.5 183.0M2079.5 183.0Q2075.7 182.5 2075.7 178.2Q2079.9 179.2 2079.5 183.0M2079.5 183.0Q2077.6 178.5 2082.4 175.7Q2083.9 181.0 2079.5 183.0M2079.5 183.0Q2081.8 180.0 2085.5 182.1Q2082.6 185.2 2079.5 183.0M2006.5 166.0Q2009.7 164.7 2011.7 168.2Q2007.8 169.2 2006.5 166.0M2006.5 166.0Q2008.2 168.1 2006.1 170.4Q2004.4 167.8 2006.5 166.0M2006.5 166.0Q2004.6 168.9 2001.0 167.3Q2003.5 164.2 2006.5 166.0M2006.5 166.0Q2003.9 165.3 2004.2 162.3Q2007.1 163.4 2006.5 166.0M2006.5 166.0Q2006.3 162.5 2010.2 161.8Q2010.0 165.7 2006.5 166.0M2085.5 166.0Q2089.5 167.3 2088.5 172.0Q2084.2 170.0 2085.5 166.0M2085.5 166.0Q2086.2 169.2 2082.6 170.4Q2082.3 166.7 2085.5 166.0M2085.5 166.0Q2082.4 168.8 2078.8 165.6Q2082.7 162.9 2085.5 166.0M2085.5 166.0Q2082.4 165.0 2083.1 161.3Q2086.5 162.9 2085.5 166.0M2085.5 166.0Q2084.7 161.9 2089.2 160.4Q2089.6 165.1 2085.5 166.0M2085.5 166.0Q2087.9 163.8 2090.7 166.3Q2087.7 168.4 2085.5 166.0M2089.5 170.0Q2092.6 168.4 2094.8 171.7Q2091.1 173.1 2089.5 170.0M2089.5 170.0Q2091.4 171.9 2089.6 174.4Q2087.6 172.0 2089.5 170.0M2089.5 170.0Q2088.0 173.1 2084.2 171.8Q2086.4 168.5 2089.5 170.0M2089.5 170.0Q2086.8 169.6 2086.9 166.5Q2089.9 167.3 2089.5 170.0M2089.5 170.0Q2088.9 166.6 2092.7 165.4Q2092.9 169.4 2089.5 170.0M2065.5 181.0Q2068.9 180.4 2070.1 184.2Q2066.2 184.4 2065.5 181.0M2065.5 181.0Q2066.8 183.4 2064.3 185.2Q2063.1 182.3 2065.5 181.0M2065.5 181.0Q2063.1 183.5 2059.9 181.2Q2063.0 178.6 2065.5 181.0M2065.5 181.0Q2063.1 179.8 2064.0 176.9Q2066.6 178.5 2065.5 181.0M2065.5 181.0Q2066.0 177.6 2069.9 177.6Q2068.9 181.4 2065.5 181.0M2089.5 171.0Q2093.9 168.1 2097.7 172.7Q2092.4 175.3 2089.5 171.0M2089.5 171.0Q2093.1 172.8 2091.6 177.2Q2087.7 174.6 2089.5 171.0M2089.5 171.0Q2089.8 176.2 2083.9 177.3Q2084.3 171.3 2089.5 171.0M2089.5 171.0Q2086.1 173.2 2083.1 169.7Q2087.2 167.6 2089.5 171.0M2089.5 171.0Q2084.9 168.7 2086.8 163.0Q2091.8 166.3 2089.5 171.0M2089.5 171.0Q2089.3 166.9 2093.8 166.1Q2093.6 170.7 2089.5 171.0M2082.5 166.0Q2085.7 164.7 2087.7 168.2Q2083.8 169.2 2082.5 166.0M2082.5 166.0Q2084.2 168.1 2082.1 170.4Q2080.4 167.8 2082.5 166.0M2082.5 166.0Q2080.6 168.9 2077.0 167.3Q2079.5 164.2 2082.5 166.0M2082.5 166.0Q2079.9 165.3 2080.2 162.3Q2083.1 163.4 2082.5 166.0M2082.5 166.0Q2082.3 162.5 2086.2 161.8Q2086.0 165.7 2082.5 166.0" fill="#fbfbfb" stroke="#6e6e6e" stroke-width=".95"/>
<path d="M1729.7 245.4Q1775.7 237.4 1845.7 241.4L2016.0 240.4Q2078.0 243.4 2080.0 279.4Q2088.0 308.7 2080.0 338.0Q2078.0 374.0 2016.0 377.0L1845.7 376.0Q1775.7 380.0 1729.7 372.0Q1709.7 308.7 1729.7 245.4Z M1733.7 253.4Q1720.7 308.7 1733.7 364.0 M1835.7 253.4Q1815.7 255.4 1817.7 279.4L1817.7 338.0Q1815.7 362.0 1835.7 364.0L2026.0 356.0Q2046.0 308.7 2026.0 261.4Z M1875.7 263.4Q1863.7 308.7 1875.7 354.0 M1986.0 265.4Q2000.0 308.7 1986.0 352.0 M1875.7 263.4L1986.0 265.4M1875.7 354.0L1986.0 352.0 M1965.7 263.4V241.4M1965.7 354.0V376.0 M1857.7 249.4l3 -18l6 1l-2 18M1857.7 368.0l3 18l6 -1l-2 -18" fill="none" stroke="#a6a6a6" stroke-width="1.1"/>
<circle cx="1727.7" cy="318.7" r="3.2" fill="none" stroke="#a6a6a6"/>
<path d="M1729.7 441.9Q1775.7 433.9 1845.7 437.9L2016.0 436.9Q2078.0 439.9 2080.0 475.9Q2088.0 505.2 2080.0 534.5Q2078.0 570.5 2016.0 573.5L1845.7 572.5Q1775.7 576.5 1729.7 568.5Q1709.7 505.2 1729.7 441.9Z M1733.7 449.9Q1720.7 505.2 1733.7 560.5 M1835.7 449.9Q1815.7 451.9 1817.7 475.9L1817.7 534.5Q1815.7 558.5 1835.7 560.5L2026.0 552.5Q2046.0 505.2 2026.0 457.9Z M1875.7 459.9Q1863.7 505.2 1875.7 550.5 M1986.0 461.9Q2000.0 505.2 1986.0 548.5 M1875.7 459.9L1986.0 461.9M1875.7 550.5L1986.0 548.5 M1965.7 459.9V437.9M1965.7 550.5V572.5 M1857.7 445.9l3 -18l6 1l-2 18M1857.7 564.5l3 18l6 -1l-2 -18" fill="none" stroke="#a6a6a6" stroke-width="1.1"/>
<circle cx="1727.7" cy="515.2" r="3.2" fill="none" stroke="#a6a6a6"/>
<path d="M1701 299L2097 201M1701 299L2097 400M1705 301L2000 224M1705 303L2000 381 M1701 495.5L2097 397.5M1701 495.5L2097 596.5M1705 497.5L2000 420.5M1705 499.5L2000 577.5" fill="none" stroke="#a0a0a0" stroke-width="1"/>
<path class="g" d="M1701 601V200H2096 M1704.5 601V203H2096"/>
<path d="M2099.2 180V605M2101.6 180V605" fill="none" stroke="#333" stroke-width="1.2"/>
<path class="l" d="M2093 190V602M2096 190V602"/>
<path class="l" d="M1772.5 141V190"/>
<rect class="k" x="1980.6" y="139.5" width="48" height="31.5"/>
<rect class="bg" x="645.9" y="1009.6" width="127.2" height="11.0"/>
<rect class="bg" x="874.7" y="1009.6" width="127.6" height="11.0"/>
<rect class="l" x="603.3" y="169.6" width="73.2" height="4.0"/>
<path class="l" d="M676.5 168.3 L701.5 166.6 L701.5 175.9 L676.5 174.6 Z"/>
<rect class="l" x="701.5" y="168.6" width="23.3" height="5.3"/>
<rect class="l" x="665.2" y="160.9" width="6.0" height="7.4"/>
<rect class="l" x="659.2" y="174.9" width="6.0" height="7.0"/>
<rect class="l" x="603.3" y="195.2" width="73.2" height="4.0"/>
<path class="l" d="M676.5 193.9 L701.5 192.3 L701.5 201.6 L676.5 200.2 Z"/>
<rect class="l" x="701.5" y="194.2" width="23.3" height="5.4"/>
<rect class="l" x="665.2" y="186.6" width="6.0" height="7.3"/>
<rect class="l" x="659.2" y="200.6" width="6.0" height="7.0"/>
<path class="l" d="M603.3 164.9 L621.6 157.3 L627.3 161.6 L611.6 171.6 L636.6 181.6 L631.6 187.3 L614.9 179.3 L608.3 187.3 L604.9 184.9 Z"/>
<path class="l" d="M608.3 194.9 L614.9 193.9 L619.3 214.9 L613.9 215.9 Z"/>
<rect class="l" x="669.2" y="228.2" width="74.0" height="3.3"/>
<path class="l" d="M669.2 229.2A73.9 73.9 0 0 0 743.2 303.2"/>
<rect class="l" x="907.0" y="232.2" width="18.0" height="17.7" style="stroke-width:1.6;stroke:#808080"/>
<circle class="l" cx="916.0" cy="241.2" r="5.7"/>
<line class="l" x1="907.0" y1="241.2" x2="925.0" y2="241.2"/>
<line class="l" x1="916.0" y1="232.2" x2="916.0" y2="249.9"/>
<rect class="g" x="972.3" y="334.8" width="40.6" height="41.6"/>
<rect class="g" x="1016.2" y="334.8" width="39.3" height="41.6"/>
<rect class="k" x="751.8" y="347.4" width="73.6" height="24.0"/>
<line class="k" x1="788.4" y1="347.4" x2="788.4" y2="371.4"/>
<circle class="k" cx="769.8" cy="365.4" r="5.7"/>
<circle class="k" cx="805.8" cy="365.4" r="5.7"/>
<rect class="l" x="575.0" y="395.4" width="255.7" height="36.6"/>
<line class="k" x1="575.0" y1="395.4" x2="929.6" y2="395.4"/>
<path class="l" d="M615.9 401.4 L619.3 399.4 L646.6 399.4 L649.9 401.4 L649.9 412.4 L615.9 412.4 Z"/>
<rect class="l" x="617.6" y="402.4" width="30.6" height="9.3"/>
<line class="l" x1="620.9" y1="414.1" x2="644.2" y2="414.1"/>
<rect class="l" x="623.3" y="420.4" width="26.6" height="8.3" style="stroke:#666"/>
<rect class="l" x="625.9" y="422.0" width="21.7" height="5.0" style="stroke:#666;fill:#aaa"/>
<circle class="l" cx="617.3" cy="426.0" r="2.0"/>
<line class="l" x1="619.3" y1="424.7" x2="619.3" y2="419.7"/>
<circle class="l" cx="634.9" cy="437.0" r="12.3"/>
<path class="l" style="stroke-width:1.6" d="M647.4 440.2A12.7 12.7 0 0 1 622.5 440.2"/>
<path class="l" d="M644.8 436.3A10.0 10.0 0 1 1 625.1 436.3"/>
<line class="l" x1="622.6" y1="434.0" x2="625.3" y2="434.7"/>
<line class="l" x1="647.2" y1="434.0" x2="644.6" y2="434.7"/>
<path class="l" d="M693.9 401.4 L697.2 399.4 L724.5 399.4 L727.8 401.4 L727.8 412.4 L693.9 412.4 Z"/>
<rect class="l" x="695.5" y="402.4" width="30.7" height="9.3"/>
<line class="l" x1="698.9" y1="414.1" x2="722.2" y2="414.1"/>
<rect class="l" x="701.2" y="420.4" width="26.6" height="8.3" style="stroke:#666"/>
<rect class="l" x="703.9" y="422.0" width="21.6" height="5.0" style="stroke:#666;fill:#aaa"/>
<circle class="l" cx="695.2" cy="426.0" r="2.0"/>
<line class="l" x1="697.2" y1="424.7" x2="697.2" y2="419.7"/>
<circle class="l" cx="712.8" cy="437.0" r="12.3"/>
<path class="l" style="stroke-width:1.6" d="M725.3 440.2A12.7 12.7 0 0 1 700.4 440.2"/>
<path class="l" d="M722.7 436.3A10.0 10.0 0 1 1 703.0 436.3"/>
<line class="l" x1="700.5" y1="434.0" x2="703.2" y2="434.7"/>
<line class="l" x1="725.2" y1="434.0" x2="722.5" y2="434.7"/>
<path class="l" d="M771.5 401.4 L774.8 399.4 L802.1 399.4 L805.4 401.4 L805.4 412.4 L771.5 412.4 Z"/>
<rect class="l" x="773.1" y="402.4" width="30.7" height="9.3"/>
<line class="l" x1="776.5" y1="414.1" x2="799.8" y2="414.1"/>
<rect class="l" x="778.8" y="420.4" width="26.6" height="8.3" style="stroke:#666"/>
<rect class="l" x="781.4" y="422.0" width="21.7" height="5.0" style="stroke:#666;fill:#aaa"/>
<circle class="l" cx="772.8" cy="426.0" r="2.0"/>
<line class="l" x1="774.8" y1="424.7" x2="774.8" y2="419.7"/>
<circle class="l" cx="790.4" cy="437.0" r="12.3"/>
<path class="l" style="stroke-width:1.6" d="M802.9 440.2A12.7 12.7 0 0 1 778.0 440.2"/>
<path class="l" d="M800.3 436.3A10.0 10.0 0 1 1 780.6 436.3"/>
<line class="l" x1="778.1" y1="434.0" x2="780.8" y2="434.7"/>
<line class="l" x1="802.8" y1="434.0" x2="800.1" y2="434.7"/>
<line class="l" x1="881.4" y1="395.4" x2="881.4" y2="565.6"/>
<rect class="l" x="938.6" y="394.7" width="135.9" height="56.7"/>
<path class="l" d="M949.6 400.4H1049.9Q1071.9 400.4 1071.9 420.4V428.0Q1071.9 448.0 1049.9 448.0H949.6Q943.6 448.0 943.6 442.0V406.4Q943.6 400.4 949.6 400.4Z"/>
<circle class="l" cx="961.3" cy="424.0" r="2.7"/>
<circle class="l" cx="961.3" cy="424.0" r="1.3"/>
<path class="l" d="M1059 466.9C1034.7 465 1018 469.6 1018 481.8C1018 494 1034.7 500 1059 497"/>
<path class="l" d="M1059 468.6C1036 467 1020 471 1020 481.8C1020 492.6 1036 498 1059 495.3"/>
<ellipse class="l" cx="1037" cy="481.8" rx="14.4" ry="11.4"/>
<rect class="l" x="1029.4" y="475.7" width="12.1" height="12.2" rx="4"/>
<rect class="l" x="1059" y="466.9" width="14.4" height="30.1"/>
<rect class="l" x="1062.8" y="470.7" width="9.9" height="22.5"/>
<rect class="l" x="1034.6" y="513.6" width="39.9" height="51.0"/>
<ellipse class="l" cx="1051.9" cy="540.3" rx="14.0" ry="18.0"/>
<ellipse class="l" cx="1051.9" cy="540.3" rx="11.3" ry="15.3"/>
<circle class="l" cx="1058.2" cy="540.3" r="2.3"/>
<circle class="l" cx="1058.2" cy="540.3" r="1.0"/>
<rect class="l" x="948.0" y="511.3" width="3.6" height="54.9"/>
<path class="l" d="M949.6 511.3A55.0 55.0 0 0 1 1004.6 566.2"/>
<line class="l" x1="1075.2" y1="273.2" x2="1075.2" y2="353.1"/>
<line class="l" x1="1084.2" y1="273.2" x2="1084.2" y2="353.1"/>
<line class="l" x1="1086.5" y1="273.2" x2="1086.5" y2="353.1"/>
<line class="l" x1="1091.2" y1="273.2" x2="1091.2" y2="353.1"/>
<circle class="l" cx="1084.8" cy="272.2" r="1.7"/>
<line class="l" x1="938.6" y1="383.1" x2="1050.5" y2="383.1"/>
<line class="l" x1="938.6" y1="385.7" x2="1050.5" y2="385.7"/>
<circle class="l" cx="937.3" cy="384.1" r="1.7"/>
<rect class="l" x="1093.8" y="329.1" width="55.0" height="47.3"/>
<rect class="l" x="1149.5" y="329.1" width="54.2" height="47.3"/>
<rect class="l" x="1204.4" y="337.5" width="82.9" height="38.9"/>
<line class="d" x1="1091.2" y1="465.7" x2="1172.8" y2="465.7"/>
<line class="d" x1="1091.2" y1="488.0" x2="1172.8" y2="488.0"/>
<line class="d" x1="1091.2" y1="511.3" x2="1172.8" y2="511.3"/>
<line class="d" x1="1187.7" y1="465.7" x2="1271.0" y2="465.7"/>
<line class="d" x1="1187.7" y1="488.0" x2="1271.0" y2="488.0"/>
<line class="d" x1="1187.7" y1="511.3" x2="1271.0" y2="511.3"/>
<line class="d" x1="1187.7" y1="534.6" x2="1271.0" y2="534.6"/>
<line class="d" x1="1187.7" y1="556.3" x2="1271.0" y2="556.3"/>
<line class="d" x1="1187.7" y1="556.7" x2="1271.0" y2="556.7"/>
<line class="d" x1="1181.1" y1="579.3" x2="1271.0" y2="579.3"/>
<path class="l" d="M1131.1 476.3A50.0 50.0 0 0 1 1231.0 476.3"/>
<line class="l" x1="1231.0" y1="476.3" x2="1231.0" y2="579.9"/>
<line class="l" x1="1231.0" y1="540.0" x2="1231.0" y2="576.0"/>
<circle class="w" style="fill:#777" cx="1230.0" cy="577.3" r="3.0"/>
<line class="d" x1="1169.4" y1="394.7" x2="1176.8" y2="465.7"/>
<line class="d" x1="1196.7" y1="394.7" x2="1188.4" y2="465.7"/>
<line class="l" x1="1181.1" y1="465.7" x2="1187.7" y2="465.7"/>
<line class="l" x1="1187.7" y1="465.7" x2="1187.7" y2="579.9"/>
<line class="l" x1="1187.7" y1="540.0" x2="1187.7" y2="580.0"/>
<path class="l" d="M1106.6 524.3V575.5 M1114.7 524.3V575.5 M1122.8 524.3V575.5 M1138.9 524.3V575.5 M1147.0 524.3V575.5 M1155.1 524.3V575.5 M1163.2 524.3V575.5" style="stroke:#999;stroke-width:1.1"/>
<path class="d" d="M1091.5 532.4H1172.5M1091.5 554.9H1172.5"/>
<path class="d" d="M1130.8 466V516"/>
<path class="l" d="M1099 576.3H1165" style="stroke:#999;stroke-width:1.6"/>
<rect class="l" x="1353.8" y="256.5" width="3.6" height="65.0"/>
<path class="l" d="M1293.1 259.2A63.3 63.3 0 0 0 1356.4 322.5"/>
<line class="g" x1="1291.5" y1="250.5" x2="1359.1" y2="250.5"/>
<path class="l" d="M1359.4 150.0A78.6 78.6 0 0 0 1438.0 228.6"/>
<path class="t" d="M1434.9 152V248M1436.5 152V248"/>
<rect x="1291.5" y="139.3" width="250.8" height="11.7" fill="#fbfbfb"/>
<rect x="1291.5" y="139.3" width="250.8" height="11.7" fill="url(#wh)" stroke="#222" stroke-width="1.2"/>
<path class="k" d="M1474.6 121.0 L1460.7 121.0 L1470.3 139.3"/>
<path class="l" d="M 1383.6 264.2 L 1414.4 264.2 L 1414.4 279.6 L 1383.6 279.6 Z"/>
<path class="l" d="M 1387.0 265.9 L 1411.0 265.9 L 1411.0 275.3 L 1387.0 275.3 Z"/>
<path class="l" d="M 1383.6 279.6 C 1381.6 298.4 1384.8 316.4 1391.3 319.3 L 1406.7 319.3 C 1413.2 316.4 1416.4 298.4 1414.4 279.6"/>
<path class="l" d="M 1387.0 295.8 C 1387.0 289.9 1391.3 287.3 1399.0 287.3 C 1406.7 287.3 1411.0 289.9 1411.0 295.8 C 1411.5 307.0 1409.3 313.8 1405.8 316.4 L 1392.2 316.4 C 1388.7 313.8 1386.5 307.0 1387.0 295.8 Z"/>
<path class="l" d="M 1403.6 297.0 C 1400.7 295.0 1396.4 295.0 1393.9 297.6 C 1392.2 300.1 1392.2 302.7 1393.4 304.9"/>
<path class="l" d="M 1394.4 307.3 C 1397.3 308.7 1401.6 308.7 1404.1 307.0"/>
<path class="k" d="M1376.8 353.1V263H1486.2M1550.7 263H1682" style="stroke-width:.9"/>
<ellipse class="l" cx="1449.7" cy="275.5" rx="22.6" ry="21.3"/>
<ellipse class="l" cx="1449.7" cy="277.2" rx="18.6" ry="16.7"/>
<rect class="lf" x="1438.7" y="263.2" width="22.0" height="7.3"/>
<circle class="l" cx="1449.0" cy="274.8" r="1.3"/>
<circle class="l" cx="1443.0" cy="266.5" r="1.0"/>
<circle class="l" cx="1455.7" cy="266.5" r="1.0"/>
<circle class="l" cx="1449.0" cy="266.5" r="1.0"/>
<rect class="l" x="1480.6" y="305.8" width="4.0" height="49.0"/>
<path class="l" d="M1435.7 354.8A46.6 46.6 0 0 1 1482.3 308.1"/>
<rect class="l" x="1489.6" y="263.2" width="52.3" height="49.9"/>
<circle class="l" cx="1535.3" cy="288.2" r="2.3"/>
<circle class="l" cx="1535.3" cy="288.2" r="1.0"/>
<line class="l" x1="1532.9" y1="288.2" x2="1507.9" y2="271.5"/>
<line class="l" x1="1532.9" y1="288.2" x2="1493.0" y2="288.2"/>
<line class="l" x1="1532.9" y1="288.2" x2="1507.9" y2="303.2"/>
<line class="l" x1="1532.9" y1="288.2" x2="1527.9" y2="309.8"/>
<line class="l" x1="1532.9" y1="288.2" x2="1527.9" y2="265.5"/>
<line class="l" x1="1486.3" y1="253.9" x2="1541.9" y2="253.9"/>
<line class="l" x1="1486.3" y1="256.5" x2="1541.9" y2="256.5"/>
<circle class="l" cx="1485.0" cy="254.9" r="1.7"/>
<line class="l" x1="1500.3" y1="321.5" x2="1500.3" y2="361.4"/>
<line class="l" x1="1506.9" y1="321.5" x2="1506.9" y2="361.4"/>
<line class="l" x1="1513.6" y1="321.5" x2="1513.6" y2="361.4"/>
<line class="l" x1="1520.3" y1="321.5" x2="1520.3" y2="361.4"/>
<line class="l" x1="1526.9" y1="321.5" x2="1526.9" y2="361.4"/>
<line class="l" x1="1533.6" y1="321.5" x2="1533.6" y2="361.4"/>
<line class="l" x1="1540.3" y1="321.5" x2="1540.3" y2="361.4"/>
<line class="l" x1="1481.3" y1="329.8" x2="1481.3" y2="356.4"/>
<line class="l" x1="1483.6" y1="329.8" x2="1483.6" y2="356.4"/>
<rect class="l" x="1566.9" y="263.9" width="28.6" height="34.9"/>
<rect class="l" x="1608.5" y="263.9" width="72.6" height="151.8"/>
<rect class="l" x="1611.9" y="266.5" width="65.9" height="146.6"/>
<rect class="l" x="1611.9" y="268.8" width="64.2" height="13.7"/>
<path class="l" d="M1612.9 329.1 L1676.1 294.8 L1652.8 338.1 Z"/>
<line class="l" x1="1682.1" y1="288.2" x2="1682.1" y2="400.7"/>
<line class="l" x1="1691.4" y1="288.2" x2="1691.4" y2="400.7"/>
<line class="l" x1="1694.1" y1="288.2" x2="1694.1" y2="400.7"/>
<line class="l" x1="1700.1" y1="288.2" x2="1700.1" y2="400.7"/>
<circle class="l" cx="1693.1" cy="286.5" r="1.7"/>
<circle class="l" cx="1693.1" cy="401.7" r="1.7"/>
<rect class="l" x="1369.7" y="419.0" width="56.7" height="4.0"/>
<path class="l" d="M1367.1 363.8A59.3 59.3 0 0 1 1426.4 423.0"/>
<circle class="l" cx="1367.1" cy="366.4" r="1.7"/>
<path class="l" d="M1359.1 442.0 L1359.1 565.6 L1407.4 565.6 L1407.4 489.0 L1682.1 489.0"/>
<rect class="l" x="1407.4" y="442.0" width="42.3" height="31.7"/>
<line class="l" x1="1407.4" y1="469.0" x2="1449.7" y2="469.0"/>
<rect class="l" x="1489.0" y="443.0" width="45.6" height="46.0"/>
<rect class="l" x="1491.0" y="445.0" width="17.3" height="17.3"/>
<circle class="l" cx="1499.6" cy="453.7" r="4.7"/>
<line class="l" x1="1491.6" y1="445.7" x2="1507.6" y2="461.7"/>
<line class="l" x1="1491.6" y1="461.7" x2="1507.6" y2="445.7"/>
<rect class="l" x="1515.3" y="445.0" width="17.3" height="17.3"/>
<circle class="l" cx="1523.9" cy="453.7" r="4.7"/>
<line class="l" x1="1515.9" y1="445.7" x2="1531.9" y2="461.7"/>
<line class="l" x1="1515.9" y1="461.7" x2="1531.9" y2="445.7"/>
<rect class="l" x="1491.0" y="469.3" width="17.3" height="17.4"/>
<circle class="l" cx="1499.6" cy="478.0" r="4.7"/>
<line class="l" x1="1491.6" y1="470.0" x2="1507.6" y2="486.0"/>
<line class="l" x1="1491.6" y1="486.0" x2="1507.6" y2="470.0"/>
<rect class="l" x="1515.3" y="469.3" width="17.3" height="17.4"/>
<circle class="l" cx="1523.9" cy="478.0" r="4.7"/>
<line class="l" x1="1515.9" y1="470.0" x2="1531.9" y2="486.0"/>
<line class="l" x1="1515.9" y1="486.0" x2="1531.9" y2="470.0"/>
<rect class="l" x="1573.6" y="442.0" width="54.2" height="47.0"/>
<line class="l" x1="1534.6" y1="442.0" x2="1534.6" y2="489.0"/>
<path class="l" d="M1359.1 521.3A12.3 12.3 0 0 1 1359.1 496.6"/>
<path class="l" d="M1359.1 555.3A12.3 12.3 0 0 1 1359.1 530.6"/>
<path class="l" d="M1407.4 496.6A12.3 12.3 0 0 1 1407.4 521.3"/>
<path class="l" d="M1407.4 530.6A12.3 12.3 0 0 1 1407.4 555.3"/>
<path class="l" d="M1395.4 565.6A12.3 12.3 0 0 1 1370.7 565.6"/>
<rect class="l" x="1633.8" y="487.3" width="48.3" height="98.3"/>
<rect class="l" x="1639.5" y="487.3" width="36.6" height="98.3"/>
<line class="l" x1="1646.2" y1="493.0" x2="1646.2" y2="511.3"/>
<line class="l" x1="1650.2" y1="493.0" x2="1650.2" y2="511.3"/>
<line class="l" x1="1654.1" y1="493.0" x2="1654.1" y2="511.3"/>
<line class="l" x1="1658.1" y1="493.0" x2="1658.1" y2="511.3"/>
<line class="l" x1="1662.1" y1="493.0" x2="1662.1" y2="511.3"/>
<line class="l" x1="1666.1" y1="493.0" x2="1666.1" y2="511.3"/>
<rect class="l" x="1641.2" y="516.3" width="31.6" height="30.0" rx="7.3"/>
<rect class="l" x="1643.5" y="518.6" width="27.0" height="25.3" rx="6.0"/>
<circle class="l" cx="1656.1" cy="537.9" r="2.7"/>
<circle class="l" cx="1656.1" cy="537.9" r="1.0"/>
<rect class="l" x="1641.2" y="551.3" width="31.6" height="29.9" rx="7.3"/>
<rect class="l" x="1643.5" y="553.6" width="27.0" height="25.3" rx="6.0"/>
<circle class="l" cx="1656.1" cy="558.9" r="2.7"/>
<circle class="l" cx="1656.1" cy="558.9" r="1.0"/>
<circle class="l" cx="1672.1" cy="547.9" r="1.3"/>
<line class="l" x1="1681.8" y1="640.9" x2="1681.8" y2="540.0"/>
<line class="l" x1="1690.8" y1="640.9" x2="1690.8" y2="540.0"/>
<line class="l" x1="1693.5" y1="640.9" x2="1693.5" y2="540.0"/>
<line class="l" x1="1700.1" y1="640.9" x2="1700.1" y2="540.0"/>
<line class="l" x1="1682.1" y1="481.3" x2="1682.1" y2="579.9"/>
<line class="l" x1="1692.1" y1="481.3" x2="1692.1" y2="579.9"/>
<line class="l" x1="1694.8" y1="481.3" x2="1694.8" y2="579.9"/>
<line class="l" x1="1700.1" y1="481.3" x2="1700.1" y2="579.9"/>
<circle class="l" cx="1692.8" cy="480.7" r="1.7"/>
<g transform="translate(702.2 531.0) rotate(-27)"><rect class="lf" x="-19.6" y="-20.3" width="39.3" height="40.6"/><path class="lf" d="M-19.6 -16.3H19.6"/></g>
<g transform="translate(768.1 531.0) rotate(27)"><rect class="lf" x="-19.6" y="-20.3" width="39.3" height="40.6"/><path class="lf" d="M-19.6 -16.3H19.6"/></g>
<g transform="translate(699.9 595.0) rotate(27)"><rect class="lf" x="-19.6" y="-20.3" width="39.3" height="40.6"/><path class="lf" d="M-19.6 16.3H19.6"/></g>
<g transform="translate(762.1 598.3) rotate(-27)"><rect class="lf" x="-19.6" y="-20.3" width="39.3" height="40.6"/><path class="lf" d="M-19.6 16.3H19.6"/></g>
<circle class="lf" cx="731.5" cy="568.3" r="31.6"/>
<g transform="translate(613.3 795.1) rotate(-27)"><rect class="lf" x="-19.6" y="-20.3" width="39.3" height="40.6"/><path class="lf" d="M-19.6 -16.3H19.6"/></g>
<g transform="translate(679.2 795.1) rotate(27)"><rect class="lf" x="-19.6" y="-20.3" width="39.3" height="40.6"/><path class="lf" d="M-19.6 -16.3H19.6"/></g>
<g transform="translate(610.9 859.0) rotate(27)"><rect class="lf" x="-19.6" y="-20.3" width="39.3" height="40.6"/><path class="lf" d="M-19.6 16.3H19.6"/></g>
<g transform="translate(673.2 862.4) rotate(-27)"><rect class="lf" x="-19.6" y="-20.3" width="39.3" height="40.6"/><path class="lf" d="M-19.6 16.3H19.6"/></g>
<circle class="lf" cx="642.6" cy="832.4" r="31.6"/>
<rect class="l" x="855.4" y="639.9" width="57.6" height="4.0"/>
<path class="l" d="M855.7 642.6A56.6 56.6 0 0 1 912.3 586.0"/>
<circle class="l" cx="913.7" cy="587.6" r="1.7"/>
<rect class="l" style="stroke:#555" x="910.3" y="643.9" width="7.4" height="5.3"/>
<path class="l" d="M794.1 724.8 L778.1 724.8 L778.1 668.2 L961.3 668.2 L961.3 724.8 L945.6 724.8"/>
<rect class="l" x="794.1" y="684.2" width="151.5" height="55.0"/>
<line class="l" x1="844.7" y1="684.2" x2="844.7" y2="739.2"/>
<line class="l" x1="894.7" y1="684.2" x2="894.7" y2="739.2"/>
<path class="l" d="M775.5 762.5 L775.5 746.5 L718.2 746.5 L718.2 929.6 L775.5 929.6 L775.5 913.7"/>
<rect class="l" x="733.8" y="762.5" width="55.0" height="151.2"/>
<line class="l" x1="733.8" y1="813.1" x2="788.8" y2="813.1"/>
<line class="l" x1="733.8" y1="863.0" x2="788.8" y2="863.0"/>
<path class="l" d="M788.8 762.5 L783.8 762.5 L783.8 745.8 L954.0 745.8 L954.0 932.0 L925.7 932.0"/>
<path class="l" d="M805.8 932.0 L783.8 932.0 L783.8 913.7"/>
<rect class="l" x="830.4" y="796.4" width="76.9" height="77.6"/>
<path class="l" d="M889.7 814.1 L903.0 838.1 L889.7 862.4 L876.7 838.1 Z" style="stroke-width:1.6;stroke:#999"/>
<path class="l" d="M889.7 819.7 L899.7 838.1 L889.7 856.4 L880.0 838.1 Z"/>
<g transform="translate(990.6 773.1) rotate(-27)"><rect class="l" x="-23.3" y="-22.0" width="46.6" height="44.0"/></g>
<g transform="translate(990.6 773.1) rotate(-27)"><path class="l" d="M17.3 -22.0V22.0"/></g>
<g transform="translate(990.6 910.3) rotate(27)"><rect class="l" x="-23.3" y="-22.0" width="46.6" height="44.0"/></g>
<g transform="translate(990.6 910.3) rotate(27)"><path class="l" d="M17.3 -22.0V22.0"/></g>
<rect class="lf" x="805.8" y="929.0" width="119.9" height="24.6"/>
<line class="l" x1="1076.8" y1="748.1" x2="1076.8" y2="860.7"/>
<line class="l" x1="1081.2" y1="748.1" x2="1081.2" y2="860.7"/>
<line class="l" x1="1024.6" y1="748.1" x2="1076.8" y2="748.1"/>
<line class="l" x1="1024.6" y1="860.7" x2="1076.8" y2="860.7"/>
<path class="l" d="M1024.6 748.1A52.3 56.3 0 0 0 1076.8 804.4A52.3 56.3 0 0 0 1024.6 860.7"/>
<line class="l" style="stroke:#666" x1="561.6" y1="540.0" x2="561.6" y2="609.3"/>
<line class="l" x1="564.0" y1="540.0" x2="564.0" y2="609.3"/>
<line class="d" x1="575.0" y1="540.0" x2="575.0" y2="609.3"/>
<line class="l" style="stroke:#666" x1="561.6" y1="703.2" x2="561.6" y2="943.0"/>
<line class="l" x1="564.0" y1="703.2" x2="564.0" y2="943.0"/>
<line class="d" x1="575.0" y1="703.2" x2="575.0" y2="943.0"/>
<line class="l" style="stroke:#666" x1="563.5" y1="433.0" x2="563.5" y2="579.9"/>
<line class="l" x1="565.5" y1="433.0" x2="565.5" y2="579.9"/>
<line class="d" x1="575.5" y1="433.0" x2="575.5" y2="579.9"/>
<circle class="l" cx="562.6" cy="609.9" r="1.7"/>
<circle class="l" cx="562.6" cy="702.5" r="1.7"/>
<circle class="l" cx="562.6" cy="943.6" r="1.7"/>
<circle class="l" cx="563.5" cy="432.4" r="1.7"/>
<line class="l" style="stroke:#555" x1="645.9" y1="999.6" x2="773.1" y2="999.6"/>
<line class="l" x1="645.9" y1="1002.3" x2="773.1" y2="1002.3"/>
<line class="d" x1="645.9" y1="990.3" x2="773.1" y2="990.3"/>
<circle class="l" cx="644.9" cy="1002.9" r="1.7"/>
<circle class="l" cx="774.1" cy="1002.9" r="1.7"/>
<line class="d" x1="645.9" y1="1020.3" x2="773.1" y2="1020.3"/>
<line class="l" x1="639.9" y1="1023.9" x2="779.1" y2="1023.9"/>
<line class="l" style="stroke:#555" x1="874.7" y1="999.6" x2="1002.3" y2="999.6"/>
<line class="l" x1="874.7" y1="1002.3" x2="1002.3" y2="1002.3"/>
<line class="d" x1="874.7" y1="990.3" x2="1002.3" y2="990.3"/>
<circle class="l" cx="873.7" cy="1002.9" r="1.7"/>
<circle class="l" cx="1003.2" cy="1002.9" r="1.7"/>
<line class="d" x1="874.7" y1="1020.3" x2="1002.3" y2="1020.3"/>
<line class="l" x1="868.7" y1="1023.9" x2="1008.2" y2="1023.9"/>
<path class="k" d="M575.0 943.0 L575.0 990.3 L645.9 990.3"/>
<line class="k" x1="1002.3" y1="990.3" x2="1073.9" y2="990.3"/>
<line class="d" x1="492.9" y1="263.2" x2="492.9" y2="579.9"/>
<line class="d" x1="492.9" y1="540.0" x2="492.9" y2="956.3"/>
<line class="d" x1="492.9" y1="956.3" x2="556.8" y2="956.3"/>
<line class="d" x1="556.8" y1="433.0" x2="556.8" y2="579.9"/>
<line class="d" x1="556.8" y1="540.0" x2="556.8" y2="609.9"/>
<line class="d" x1="556.8" y1="703.2" x2="556.8" y2="943.0"/>
<rect class="l" x="1283.2" y="644.2" width="65.9" height="4.0"/>
<path class="l" d="M1283.8 583.3A63.9 63.9 0 0 1 1347.8 647.2"/>
<circle class="l" cx="1283.2" cy="582.6" r="1.7"/>
<rect class="l" x="1359.1" y="621.6" width="146.5" height="27.6"/>
<rect x="1359.1" y="649.9" width="134.9" height="16.7" fill="#fbfbfb"/>
<rect x="1359.1" y="649.9" width="134.9" height="16.7" fill="url(#wh2)" stroke="#777" stroke-width="1"/>
<rect class="l" x="1507.3" y="591.0" width="4.0" height="65.6"/>
<path class="l" d="M1508.9 592.3A64.3 64.3 0 0 1 1573.2 656.6"/>
<rect class="lf" x="1377.4" y="720.8" width="34.0" height="32.3" rx="2.7"/>
<line class="l" x1="1380.1" y1="726.5" x2="1380.1" y2="749.8"/>
<line class="l" x1="1408.7" y1="726.5" x2="1408.7" y2="749.8"/>
<rect class="lf" x="1378.7" y="835.4" width="33.3" height="32.6" rx="2.7"/>
<line class="l" x1="1381.4" y1="838.7" x2="1381.4" y2="863.0"/>
<line class="l" x1="1409.4" y1="838.7" x2="1409.4" y2="863.0"/>
<line class="l" x1="1378.7" y1="864.7" x2="1412.0" y2="864.7"/>
<line class="l" x1="1377.4" y1="724.2" x2="1411.4" y2="724.2"/>
<rect class="lf" x="1426.4" y="720.8" width="33.9" height="32.3" rx="2.7"/>
<line class="l" x1="1429.0" y1="726.5" x2="1429.0" y2="749.8"/>
<line class="l" x1="1457.7" y1="726.5" x2="1457.7" y2="749.8"/>
<rect class="lf" x="1427.7" y="835.4" width="33.3" height="32.6" rx="2.7"/>
<line class="l" x1="1430.4" y1="838.7" x2="1430.4" y2="863.0"/>
<line class="l" x1="1458.3" y1="838.7" x2="1458.3" y2="863.0"/>
<line class="l" x1="1427.7" y1="864.7" x2="1461.0" y2="864.7"/>
<line class="l" x1="1426.4" y1="724.2" x2="1460.3" y2="724.2"/>
<rect class="lf" x="1476.3" y="720.8" width="34.0" height="32.3" rx="2.7"/>
<line class="l" x1="1479.0" y1="726.5" x2="1479.0" y2="749.8"/>
<line class="l" x1="1507.6" y1="726.5" x2="1507.6" y2="749.8"/>
<rect class="lf" x="1477.6" y="835.4" width="33.3" height="32.6" rx="2.7"/>
<line class="l" x1="1480.3" y1="838.7" x2="1480.3" y2="863.0"/>
<line class="l" x1="1508.3" y1="838.7" x2="1508.3" y2="863.0"/>
<line class="l" x1="1477.6" y1="864.7" x2="1510.9" y2="864.7"/>
<line class="l" x1="1476.3" y1="724.2" x2="1510.3" y2="724.2"/>
<rect class="lf" x="1328.1" y="777.1" width="31.6" height="33.3" rx="2.7"/>
<line class="l" x1="1331.4" y1="777.1" x2="1331.4" y2="810.4"/>
<line class="l" x1="1333.1" y1="780.5" x2="1356.4" y2="780.5"/>
<line class="l" x1="1333.1" y1="807.1" x2="1356.4" y2="807.1"/>
<rect class="lf" x="1530.3" y="777.1" width="31.6" height="33.3" rx="2.7"/>
<line class="l" x1="1558.6" y1="777.1" x2="1558.6" y2="810.4"/>
<line class="l" x1="1533.6" y1="780.5" x2="1556.9" y2="780.5"/>
<line class="l" x1="1533.6" y1="807.1" x2="1556.9" y2="807.1"/>
<rect class="lf" x="1356.4" y="750.5" width="177.2" height="88.2" rx="20.0"/>
<circle class="w" style="fill:#777" cx="1384.7" cy="732.2" r="1.0"/>
<circle class="w" style="fill:#777" cx="1403.0" cy="731.8" r="1.0"/>
<circle class="w" style="fill:#777" cx="1393.1" cy="740.5" r="1.0"/>
<circle class="w" style="fill:#777" cx="1395.0" cy="845.7" r="1.0"/>
<circle class="w" style="fill:#777" cx="1386.1" cy="854.1" r="1.0"/>
<circle class="w" style="fill:#777" cx="1404.4" cy="854.4" r="1.0"/>
<circle class="w" style="fill:#777" cx="1433.7" cy="732.2" r="1.0"/>
<circle class="w" style="fill:#777" cx="1452.0" cy="731.8" r="1.0"/>
<circle class="w" style="fill:#777" cx="1442.0" cy="740.5" r="1.0"/>
<circle class="w" style="fill:#777" cx="1444.0" cy="845.7" r="1.0"/>
<circle class="w" style="fill:#777" cx="1435.0" cy="854.1" r="1.0"/>
<circle class="w" style="fill:#777" cx="1453.3" cy="854.4" r="1.0"/>
<circle class="w" style="fill:#777" cx="1483.6" cy="732.2" r="1.0"/>
<circle class="w" style="fill:#777" cx="1502.0" cy="731.8" r="1.0"/>
<circle class="w" style="fill:#777" cx="1492.0" cy="740.5" r="1.0"/>
<circle class="w" style="fill:#777" cx="1494.0" cy="845.7" r="1.0"/>
<circle class="w" style="fill:#777" cx="1485.0" cy="854.1" r="1.0"/>
<circle class="w" style="fill:#777" cx="1503.3" cy="854.4" r="1.0"/>
<circle class="w" style="fill:#777" cx="1337.8" cy="784.8" r="1.0"/>
<circle class="w" style="fill:#777" cx="1346.8" cy="794.8" r="1.0"/>
<circle class="w" style="fill:#777" cx="1338.4" cy="803.1" r="1.0"/>
<circle class="w" style="fill:#777" cx="1550.9" cy="784.8" r="1.0"/>
<circle class="w" style="fill:#777" cx="1542.3" cy="794.8" r="1.0"/>
<circle class="w" style="fill:#777" cx="1550.6" cy="803.1" r="1.0"/>
<line class="l" x1="1280.8" y1="748.1" x2="1280.8" y2="860.7"/>
<line class="l" x1="1284.8" y1="748.1" x2="1284.8" y2="860.7"/>
<line class="l" x1="1284.8" y1="748.1" x2="1337.1" y2="748.1"/>
<line class="l" x1="1284.8" y1="860.7" x2="1337.1" y2="860.7"/>
<path class="l" d="M1337.1 748.1A52.3 56.3 0 0 1 1284.8 804.4A52.3 56.3 0 0 1 1337.1 860.7"/>
<line class="d" x1="1573.6" y1="723.2" x2="1573.6" y2="906.3"/>
<line class="d" x1="1591.2" y1="723.2" x2="1591.2" y2="906.3"/>
<line class="d" x1="1617.2" y1="707.5" x2="1617.2" y2="922.3"/>
<line class="l" style="stroke:#666" x1="1586.2" y1="722.5" x2="1586.2" y2="908.0"/>
<line class="l" x1="1588.5" y1="722.5" x2="1588.5" y2="908.0"/>
<circle class="l" cx="1587.5" cy="722.5" r="1.7"/>
<circle class="l" cx="1587.5" cy="907.3" r="1.7"/>
<path class="l" style="stroke:#555" d="M1592.9 922.3 L1700.1 922.3 L1700.1 707.5"/>
<line class="l" x1="1592.9" y1="707.5" x2="1592.9" y2="922.3"/>
<rect class="l" x="1599.5" y="637.6" width="76.6" height="48.9"/>
<rect class="l" x="1601.5" y="641.6" width="72.6" height="44.9"/>
<rect class="l" x="1633.5" y="633.9" width="4.7" height="3.7"/>
<rect class="l" x="1652.2" y="633.9" width="4.6" height="3.7"/>
<path class="l" d="M1592.9 688.9 L1682.1 688.9 L1682.1 639.9"/>
<line class="l" x1="1312.5" y1="920.3" x2="1391.4" y2="920.3"/>
<line class="l" style="stroke:#666" x1="1312.5" y1="933.0" x2="1391.4" y2="933.0"/>
<line class="l" x1="1312.5" y1="935.3" x2="1391.4" y2="935.3"/>
<circle class="l" cx="1392.1" cy="933.3" r="1.7"/>
<line class="l" x1="1476.3" y1="920.3" x2="1555.6" y2="920.3"/>
<line class="l" style="stroke:#666" x1="1476.3" y1="933.0" x2="1555.6" y2="933.0"/>
<line class="l" x1="1476.3" y1="935.3" x2="1555.6" y2="935.3"/>
<circle class="l" cx="1556.2" cy="933.3" r="1.7"/>
<rect x="1555.6" y="939.0" width="12.3" height="12.3" fill="#fbfbfb"/>
<rect x="1555.6" y="939.0" width="12.3" height="12.3" fill="url(#wh2)" stroke="#777" stroke-width="1"/>
<line class="d" x1="1091.7" y1="580.6" x2="1091.7" y2="894.7"/>
<line class="d" x1="1271.5" y1="580.6" x2="1271.5" y2="649.2"/>
<line class="d" x1="1271.5" y1="748.1" x2="1271.5" y2="860.7"/>
<line class="d" x1="1091.7" y1="713.8" x2="1271.5" y2="713.8"/>
<line class="d" x1="1091.7" y1="893.7" x2="1271.5" y2="893.7"/>
<line class="d" x1="1091.7" y1="713.8" x2="1271.5" y2="893.7"/>
<line class="d" x1="1271.5" y1="713.8" x2="1091.7" y2="893.7"/>
<line class="d" x1="1091.7" y1="599.9" x2="1179.9" y2="599.9"/>
<path class="d" d="M1179.9 580.6 L1179.9 609.9 L1271.5 609.9"/>
<path class="d" d="M1091.7 580.6 L1130.0 599.9 L1168.3 580.6"/>
<line class="d" x1="1091.7" y1="580.6" x2="1271.5" y2="580.6"/>
<line class="d" x1="1130.0" y1="580.6" x2="1130.0" y2="599.9"/>
<line class="d" x1="1074.5" y1="580.6" x2="1074.5" y2="649.2"/>
<line class="d" x1="1271.7" y1="748.1" x2="1271.7" y2="860.7"/>
<line class="l" x1="1125.0" y1="897.0" x2="1236.5" y2="897.0"/>
<line class="l" x1="1125.0" y1="901.0" x2="1236.5" y2="901.0"/>
<line class="l" style="stroke:#bbb;stroke-width:2" x1="1125.0" y1="899.0" x2="1236.5" y2="899.0"/>
<circle class="w" style="fill:#888" cx="1148.9" cy="899.0" r="2.3"/>
<circle class="l" cx="1237.2" cy="899.0" r="2.0"/>
<path class="d" d="M1091.7 903.0 L1091.7 1019.9"/>
<path class="d" d="M1271.5 903.0 L1271.5 1019.9"/>
<path class="d" d="M1091.2 968.0 L1091.2 1040.3 L1271.0 1040.3 L1271.0 968.0"/>
<path class="d" d="M1094.5 968.0 L1094.5 1036.9 L1267.7 1036.9 L1267.7 968.0"/>
<line class="d" x1="1095.0" y1="904.7" x2="1095.0" y2="1019.9"/>
<line class="d" x1="1268.2" y1="904.7" x2="1268.2" y2="1019.9"/>
<rect class="w" x="556.7" y="138.6" width="193.8" height="18.0"/>
<rect class="w" x="556.7" y="138.6" width="17.3" height="294.4"/>
<rect class="w" x="733.8" y="138.6" width="16.7" height="88.0"/>
<rect class="w" x="733.8" y="302.2" width="16.7" height="92.5"/>
<rect class="w" x="556.7" y="376.4" width="381.9" height="18.3"/>
<rect class="w" x="929.6" y="394.7" width="9.0" height="169.9"/>
<rect class="w" x="881.4" y="565.6" width="64.9" height="8.3"/>
<rect class="w" x="1006.2" y="565.6" width="68.3" height="8.3"/>
<rect class="w" x="909.0" y="573.3" width="10.0" height="12.3"/>
<rect class="w" x="1074.5" y="353.1" width="16.7" height="226.8"/>
<rect class="w" x="1074.5" y="540.0" width="16.7" height="40.6"/>
<rect class="w" x="1074.5" y="248.2" width="205.5" height="15.0"/>
<rect class="w" x="1080.0" y="248.2" width="211.5" height="15.0"/>
<rect class="w" x="1074.5" y="248.2" width="16.7" height="25.0"/>
<rect class="w" x="1050.5" y="376.4" width="229.5" height="18.3"/>
<rect class="w" x="1080.0" y="376.4" width="207.1" height="18.3"/>
<rect class="w" x="1270.5" y="376.4" width="16.6" height="203.5"/>
<rect class="w" x="1270.5" y="540.0" width="16.6" height="41.6"/>
<rect class="w" x="1172.8" y="465.7" width="8.3" height="114.2"/>
<rect class="w" x="1172.8" y="540.0" width="8.3" height="40.0"/>
<rect class="w" x="1091.2" y="516.3" width="81.6" height="8.3"/>
<rect class="w" x="1091.2" y="571.6" width="8.3" height="9.0"/>
<rect class="w" x="1164.4" y="571.6" width="8.4" height="9.0"/>
<rect class="w" x="1359.1" y="248.2" width="127.2" height="15.0"/>
<rect class="w" x="1359.1" y="248.2" width="16.6" height="117.2"/>
<rect class="w" x="1375.7" y="353.1" width="59.0" height="8.3"/>
<rect class="w" x="1541.9" y="248.2" width="158.2" height="15.0"/>
<rect class="w" x="1541.9" y="259.9" width="8.3" height="101.5"/>
<rect class="w" x="1485.6" y="313.1" width="64.6" height="8.4"/>
<rect class="w" x="1485.6" y="313.1" width="8.4" height="48.3"/>
<rect class="w" x="1682.1" y="248.2" width="18.0" height="40.0"/>
<rect class="w" x="1682.1" y="400.7" width="18.0" height="80.6"/>
<rect class="w" x="1359.1" y="424.7" width="341.0" height="17.3"/>
<rect class="w" x="1270.5" y="649.2" width="16.6" height="98.9"/>
<rect class="w" x="1270.5" y="860.7" width="16.6" height="78.3"/>
<rect class="w" x="1270.5" y="649.2" width="88.6" height="17.4"/>
<rect class="w" x="1494.0" y="649.2" width="11.6" height="17.4"/>
<rect class="w" x="1270.5" y="920.3" width="42.0" height="18.7"/>
<rect class="w" x="1391.4" y="920.3" width="84.9" height="18.7"/>
<rect class="w" x="1555.6" y="920.3" width="62.2" height="18.7"/>
<rect class="w" x="1299.1" y="939.0" width="13.4" height="12.3"/>
<rect class="w" x="1391.4" y="939.0" width="12.3" height="12.3"/>
<rect class="w" x="1463.7" y="939.0" width="12.6" height="12.3"/>
<rect class="w" x="1573.6" y="639.9" width="19.3" height="83.3"/>
<rect class="w" x="1573.6" y="906.3" width="19.3" height="32.7"/>
<rect class="w" x="1573.6" y="689.9" width="126.5" height="17.6"/>
<rect class="w" x="1682.1" y="639.9" width="18.0" height="67.6"/>
<rect class="w" x="1091.7" y="894.7" width="33.3" height="8.3"/>
<rect class="w" x="1236.5" y="894.7" width="34.0" height="8.3"/>
<rect class="w" x="556.7" y="609.3" width="17.3" height="93.9"/>
<rect class="w" x="556.7" y="943.0" width="17.3" height="66.6"/>
<rect class="w" x="556.7" y="649.2" width="534.5" height="17.4"/>
<rect class="w" x="1074.5" y="649.2" width="16.7" height="98.9"/>
<rect class="w" x="1074.5" y="860.7" width="16.7" height="148.9"/>
<rect class="w" x="556.7" y="991.3" width="89.2" height="18.3"/>
<rect class="w" x="773.1" y="991.3" width="101.6" height="18.3"/>
<rect class="w" x="1002.3" y="991.3" width="88.9" height="18.3"/>
<rect class="w" x="632.6" y="1009.6" width="13.3" height="11.7"/>
<rect class="w" x="773.1" y="1009.6" width="13.3" height="11.7"/>
<rect class="w" x="861.4" y="1009.6" width="13.3" height="11.7"/>
<rect class="w" x="1002.3" y="1009.6" width="12.3" height="11.7"/>
<rect class="w" x="2101.4" y="136.0" width="17.4" height="54.6"/>
<rect class="w" x="2102.1" y="601.9" width="16.7" height="418.0"/>
<rect class="w" x="2102.1" y="968.0" width="16.7" height="119.2"/>
<rect class="w" x="2118.4" y="1062.7" width="4.2" height="16.7"/>
<rect class="w" x="2054.7" y="1071" width="40.0" height="16.5"/>
<rect class="w" x="2054.7" y="1183.6" width="63.7" height="16.7"/>
<rect class="w" x="2101.4" y="1183.6" width="17.0" height="30.0"/>
<rect class="w" x="2101.4" y="1229.4" width="17.0" height="35.0"/>
<rect class="w" x="2109.6" y="1213.6" width="8.8" height="15.8"/>
<path class="l" d="M2102 1214H2110M2102 1229H2110M2103.5 1214V1229M2107.5 1214V1229"/>
<path d="M2067.2 1087.5V1183.6" fill="none" stroke="#222" stroke-width="1.6"/>
<path class="l" d="M2062.7 1087.5V1183.6M2064.6 1087.5V1183.6"/>
<path class="d" d="M2051 1066.8H2098.7V1191.7H2051Z" style="stroke:#888"/>
<path class="d" d="M2054.7 1071H2094.7V1188H2054.7Z" style="stroke:#888"/>
<rect class="g" x="2087" y="1053.4" width="11.7" height="13.4"/>
<path class="d" d="M2101.4 1209.6H2085.7V1233.9H2101.4"/>
<path class="k" d="M2054.7 1264.9V1252.7L2100.5 1249.5"/>
</svg>
</body></html>
